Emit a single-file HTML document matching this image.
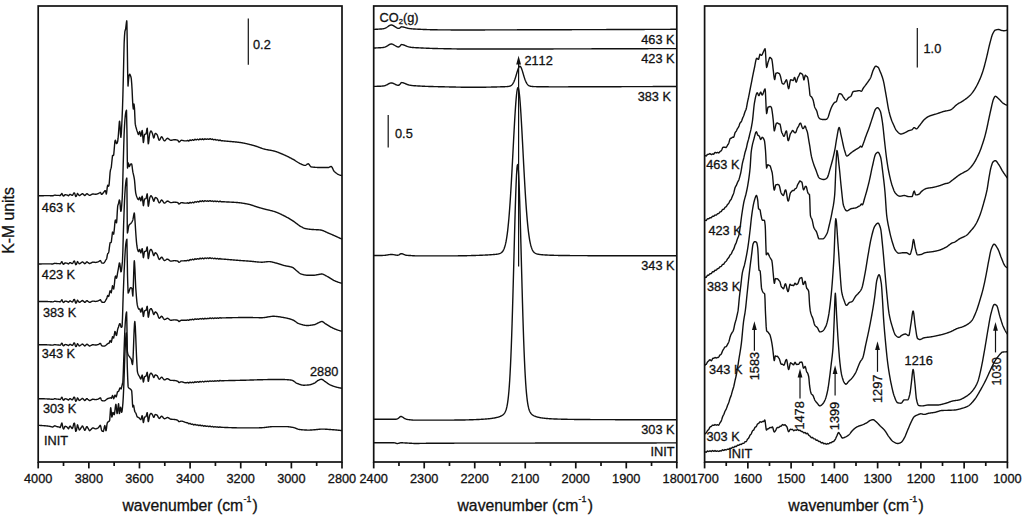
<!DOCTYPE html>
<html><head><meta charset="utf-8"><title>spectra</title>
<style>html,body{margin:0;padding:0;background:#fff;width:1024px;height:519px;overflow:hidden}
svg{display:block}text{font-family:"Liberation Sans",sans-serif;font-kerning:none}</style></head>
<body>
<svg width="1024" height="519" viewBox="0 0 1024 519">
<rect width="1024" height="519" fill="#fff"/>
<g fill="none" stroke="#111" stroke-width="1.40" stroke-linejoin="round">
<path d="M38.50 195.81L38.90 195.80L39.10 195.79L39.30 195.79L39.70 195.78L39.70 195.78L40.10 195.77L40.30 195.76L40.50 195.76L40.90 195.75L40.90 195.75L41.30 195.74L41.50 195.73L41.70 195.73L42.10 195.72L42.10 195.72L42.50 195.71L42.70 195.70L42.90 195.70L43.30 195.69L43.30 195.69L43.70 195.68L43.90 195.67L44.10 195.67L44.50 195.66L44.50 195.66L44.90 195.65L45.10 195.64L45.30 195.64L45.70 195.64L45.70 195.64L46.10 195.64L46.30 195.64L46.50 195.64L46.90 195.64L46.90 195.64L47.30 195.63L47.50 195.63L47.70 195.63L48.10 195.63L48.10 195.63L48.50 195.63L48.70 195.63L48.90 195.63L49.30 195.65L49.30 195.65L49.70 195.66L49.90 195.67L50.10 195.68L50.50 195.70L50.50 195.70L50.90 195.71L51.10 195.72L51.30 195.73L51.70 195.75L51.70 195.75L52.10 195.77L52.30 195.77L52.50 195.77L52.90 195.76L52.90 195.76L53.30 195.63L53.50 195.55L53.70 195.48L54.10 195.34L54.10 195.34L54.50 195.16L54.70 195.13L54.90 195.13L55.30 195.16L55.30 195.16L55.70 195.22L55.90 195.25L56.10 195.28L56.50 195.33L56.50 195.33L56.90 195.37L57.10 195.38L57.30 195.39L57.70 195.39L57.70 195.39L58.10 195.40L58.30 195.40L58.50 195.41L58.90 195.42L58.90 195.42L59.30 195.47L59.50 195.51L59.70 195.56L60.10 195.65L60.10 195.65L60.50 195.31L60.70 195.05L60.90 194.75L61.30 194.09L61.30 194.09L61.70 193.59L61.90 193.49L62.10 193.70L62.50 194.65L62.50 194.65L62.90 195.53L63.10 195.80L63.30 195.94L63.70 196.07L63.70 196.07L64.10 195.69L64.30 195.44L64.50 195.19L64.90 194.81L64.90 194.81L65.30 194.77L65.50 194.77L65.70 194.78L66.10 194.84L66.10 194.84L66.50 194.89L66.70 194.92L66.90 194.98L67.30 195.14L67.30 195.14L67.70 195.34L67.90 195.44L68.10 195.56L68.50 195.74L68.50 195.74L68.90 195.38L69.10 195.14L69.30 194.91L69.70 194.54L69.70 194.54L70.10 194.43L70.30 194.41L70.50 194.47L70.90 194.75L70.90 194.75L71.30 194.97L71.50 195.08L71.70 195.22L72.10 195.42L72.10 195.42L72.50 195.24L72.70 195.07L72.90 194.80L73.30 194.02L73.30 194.02L73.70 193.20L73.90 192.98L74.10 192.92L74.50 192.88L74.50 192.88L74.90 193.94L75.10 194.68L75.30 195.41L75.70 196.48L75.70 196.48L76.10 196.32L76.30 196.16L76.50 195.83L76.90 194.79L76.90 194.79L77.30 193.67L77.50 193.42L77.70 193.55L78.10 194.16L78.10 194.16L78.50 194.66L78.70 194.91L78.90 195.21L79.30 195.65L79.30 195.65L79.70 195.52L79.90 195.41L80.10 195.29L80.50 194.98L80.50 194.98L80.90 194.69L81.10 194.55L81.30 194.41L81.70 194.12L81.70 194.12L82.10 193.77L82.30 193.69L82.50 193.72L82.90 193.90L82.90 193.90L83.30 194.24L83.50 194.44L83.70 194.62L84.10 194.98L84.10 194.98L84.50 195.42L84.70 195.52L84.90 195.48L85.30 195.24L85.30 195.24L85.70 194.80L85.90 194.55L86.10 194.28L86.50 193.86L86.50 193.86L86.90 193.74L87.10 193.72L87.30 193.80L87.70 194.14L87.70 194.14L88.10 194.42L88.30 194.56L88.50 194.71L88.90 194.99L88.90 194.99L89.30 195.33L89.50 195.41L89.70 195.38L90.10 195.23L90.10 195.23L90.50 195.03L90.70 194.92L90.90 194.82L91.30 194.62L91.30 194.62L91.70 194.42L91.90 194.32L92.10 194.20L92.50 194.02L92.50 194.02L92.90 193.97L93.10 193.97L93.30 193.98L93.70 194.04L93.70 194.04L94.10 194.09L94.30 194.11L94.50 194.14L94.90 194.19L94.90 194.19L95.30 194.25L95.50 194.26L95.70 194.25L96.10 194.22L96.10 194.22L96.50 194.12L96.70 194.06L96.90 194.01L97.30 193.90L97.30 193.90L97.70 193.80L97.90 193.74L98.10 193.67L98.50 193.48L98.50 193.48L98.90 193.24L99.10 193.12L99.30 193.00L99.70 192.76L99.70 192.76L100.10 192.46L100.30 192.39L100.50 192.51L100.90 193.13L100.90 193.13L101.30 194.15L101.50 194.41L101.70 194.38L102.10 194.15L102.50 193.76L102.90 193.26L103.30 192.72L103.70 192.19L104.10 191.74L104.50 191.42L104.90 190.72L104.90 190.72L105.30 190.60L105.70 191.55L106.10 193.29L106.30 194.04L106.50 193.35L106.90 190.41L107.30 186.94L107.70 185.24L107.70 185.24L108.10 185.65L108.50 186.25L108.90 185.65L109.10 184.30L109.30 182.54L109.70 177.53L110.10 172.39L110.50 169.95L110.60 169.56L110.90 168.65L111.30 167.27L111.70 163.23L112.10 159.32L112.50 155.48L112.90 155.54L113.10 155.54L113.30 155.47L113.70 155.02L114.10 150.62L114.50 145.75L114.90 141.20L115.30 140.16L115.70 140.92L115.90 141.69L116.10 142.81L116.50 143.63L116.90 143.44L117.30 142.66L117.40 142.26L117.70 141.32L118.10 138.20L118.50 133.39L118.90 127.75L119.30 122.46L119.50 121.23L119.70 121.53L120.10 126.55L120.50 134.28L120.80 137.28L120.90 137.33L121.30 133.69L121.70 125.81L121.80 123.92L122.10 117.75L122.50 107.85L122.60 105.00L122.90 94.87L123.30 78.98L123.40 75.00L123.70 61.50L124.10 44.67L124.20 42.00L124.50 36.09L124.90 31.40L124.90 31.40L125.30 29.97L125.60 29.00L125.70 28.47L126.10 25.16L126.50 21.83L126.80 20.80L126.90 22.73L127.20 40.00L127.30 46.55L127.60 68.00L127.70 73.89L128.00 86.00L128.10 85.52L128.50 80.00L128.50 80.00L128.90 76.55L129.10 75.50L129.30 74.86L129.70 74.20L129.70 74.20L130.10 74.76L130.40 75.50L130.50 75.74L130.90 76.84L131.20 78.10L131.30 78.75L131.70 83.51L132.10 90.00L132.10 90.00L132.50 98.89L132.70 102.70L132.90 105.58L133.30 109.00L133.30 109.00L133.70 105.30L133.90 104.00L134.10 104.59L134.50 108.00L134.50 108.00L134.90 117.38L135.20 123.50L135.30 124.22L135.70 126.25L136.10 127.64L136.20 128.00L136.50 129.09L136.90 130.42L137.30 131.60L137.30 131.60L137.70 132.85L138.10 134.00L138.50 134.50L138.50 134.50L138.90 133.75L139.30 132.35L139.70 131.60L139.70 131.60L140.10 132.98L140.50 135.36L140.80 136.20L140.90 136.12L141.30 134.54L141.70 132.16L142.10 130.58L142.20 130.50L142.50 132.39L142.90 138.05L143.30 142.36L143.40 142.60L143.70 141.17L144.10 137.06L144.50 134.50L144.50 134.50L144.90 134.28L145.30 134.18L145.70 134.07L146.00 133.90L146.10 133.72L146.50 131.63L146.90 129.05L147.20 128.20L147.30 128.56L147.70 134.94L148.10 142.44L148.30 143.80L148.50 143.36L148.90 140.58L149.30 136.77L149.70 133.80L149.80 133.40L150.10 132.51L150.50 131.53L150.90 131.02L151.00 131.00L151.30 131.17L151.70 131.81L152.10 132.70L152.40 133.40L152.50 133.66L152.90 135.21L153.30 136.92L153.70 137.95L153.80 138.00L154.10 137.52L154.50 135.93L154.90 134.21L155.30 133.40L155.30 133.40L155.70 133.48L156.10 133.70L156.50 134.02L156.90 134.40L157.00 134.50L157.30 135.00L157.70 136.12L158.10 137.51L158.50 138.86L158.90 139.89L159.30 140.30L159.30 140.30L159.70 140.02L160.10 139.32L160.50 138.44L160.90 137.58L161.30 136.96L161.60 136.80L161.70 136.81L162.10 137.12L162.50 137.74L162.90 138.53L163.30 139.37L163.70 140.14L164.10 140.69L164.50 140.90L164.50 140.90L164.90 140.77L165.30 140.42L165.70 139.93L166.10 139.40L166.50 138.90L166.90 138.51L167.30 138.31L167.40 138.30L167.70 138.34L168.10 138.51L168.50 138.77L168.90 139.09L169.30 139.43L169.70 139.76L170.10 140.03L170.50 140.23L170.90 140.30L170.90 140.30L171.30 140.28L171.70 140.22L172.10 140.13L172.50 140.03L172.90 139.92L173.30 139.83L173.70 139.75L174.10 139.71L174.30 139.70L174.50 139.70L174.90 139.72L175.30 139.75L175.70 139.79L176.10 139.86L176.50 139.93L176.90 140.03L177.30 140.14L177.70 140.27L177.80 140.30L178.10 140.62L178.50 141.40L178.90 141.97L179.00 142.00L179.30 141.92L179.70 141.62L180.10 141.21L180.50 140.77L180.90 140.44L181.30 140.30L181.30 140.30L181.70 140.32L182.10 140.36L182.50 140.43L182.90 140.51L183.30 140.60L183.70 140.69L184.10 140.77L184.50 140.84L184.90 140.88L185.30 140.90L185.30 140.90L185.70 140.89L186.10 140.88L186.50 140.88L186.90 140.77L187.30 140.55L187.70 140.47L188.10 140.69L188.50 140.95L188.90 140.96L189.30 140.55L189.40 140.45L189.70 140.14L190.10 139.89L190.50 140.13L190.90 140.36L191.30 140.53L191.70 140.24L192.10 139.96L192.50 139.68L192.90 139.90L193.30 140.14L193.30 140.14L193.70 140.38L194.10 140.06L194.50 139.66L194.90 139.27L195.30 139.36L195.70 139.61L196.10 139.87L196.50 139.80L196.90 139.53L197.30 139.26L197.70 139.26L198.10 139.53L198.50 139.80L198.90 139.84L199.30 139.48L199.70 139.12L200.00 138.85L200.10 138.92L200.50 139.18L200.90 139.44L201.30 139.63L201.70 139.35L202.10 139.07L202.50 138.79L202.90 139.10L203.30 139.41L203.70 139.72L204.10 139.47L204.50 139.14L204.90 138.81L205.30 138.90L205.70 139.14L206.10 139.37L206.50 139.33L206.90 139.13L207.30 138.93L207.70 138.93L208.10 139.13L208.50 139.33L208.90 139.35L208.90 139.35L209.30 139.07L209.70 138.79L210.10 138.65L210.50 138.94L210.90 139.22L211.30 139.46L211.70 139.31L212.10 139.17L212.50 139.03L212.90 139.29L213.30 139.55L213.70 139.81L214.10 139.70L214.50 139.54L214.90 139.38L215.30 139.53L215.70 139.79L216.10 140.05L216.50 140.06L216.90 139.94L217.30 139.81L217.70 139.90L218.10 140.19L218.50 140.49L218.90 140.58L219.30 140.34L219.70 140.11L220.10 140.04L220.50 140.40L220.90 140.64L221.30 140.75L221.70 140.69L222.10 140.72L222.50 140.77L222.80 140.80L222.90 140.81L223.30 140.85L223.70 140.90L224.10 140.94L224.50 140.98L224.90 141.02L225.30 141.05L225.70 141.09L226.10 141.13L226.50 141.16L226.90 141.20L227.30 141.23L227.70 141.27L228.10 141.30L228.50 141.34L228.90 141.37L229.30 141.41L229.70 141.44L230.10 141.47L230.50 141.51L230.90 141.54L231.30 141.57L231.70 141.61L232.10 141.64L232.50 141.68L232.90 141.71L233.30 141.75L233.70 141.79L234.10 141.82L234.50 141.86L234.90 141.90L235.30 141.94L235.70 141.98L236.10 142.02L236.50 142.06L236.90 142.11L237.30 142.15L237.70 142.20L238.10 142.24L238.50 142.29L238.90 142.34L239.30 142.39L239.70 142.45L240.10 142.50L240.10 142.50L240.50 142.56L240.90 142.62L241.30 142.68L241.70 142.74L242.10 142.81L242.50 142.88L242.90 142.95L243.30 143.03L243.70 143.10L244.10 143.18L244.50 143.26L244.90 143.34L245.30 143.43L245.70 143.52L246.10 143.60L246.50 143.69L246.90 143.79L247.30 143.88L247.70 143.97L248.10 144.07L248.50 144.17L248.90 144.26L249.30 144.36L249.70 144.47L250.10 144.57L250.50 144.67L250.90 144.77L251.30 144.88L251.70 144.98L252.10 145.09L252.50 145.20L252.90 145.30L253.30 145.41L253.70 145.52L254.00 145.60L254.10 145.63L254.50 145.74L254.90 145.86L255.30 145.98L255.70 146.11L256.10 146.25L256.50 146.39L256.90 146.53L257.30 146.67L257.70 146.82L258.10 146.96L258.50 147.11L258.90 147.26L259.30 147.41L259.70 147.56L260.10 147.71L260.50 147.86L260.90 148.00L261.30 148.14L261.70 148.28L262.10 148.42L262.50 148.55L262.90 148.68L263.30 148.80L263.70 148.91L264.10 149.02L264.40 149.10L264.50 149.13L264.90 149.22L265.30 149.31L265.70 149.40L266.10 149.49L266.50 149.57L266.90 149.65L267.30 149.72L267.70 149.79L268.10 149.87L268.50 149.94L268.90 150.01L269.30 150.08L269.70 150.14L270.10 150.22L270.50 150.29L270.90 150.36L271.30 150.43L271.70 150.51L272.10 150.59L272.50 150.67L272.90 150.76L273.30 150.85L273.70 150.95L274.10 151.05L274.30 151.10L274.50 151.15L274.90 151.27L275.30 151.38L275.70 151.51L276.10 151.64L276.50 151.77L276.90 151.91L277.30 152.05L277.70 152.20L278.10 152.35L278.50 152.50L278.90 152.66L279.30 152.82L279.70 152.98L280.10 153.15L280.50 153.32L280.90 153.48L281.30 153.65L281.70 153.82L282.10 154.00L282.50 154.17L282.90 154.34L283.30 154.51L283.50 154.60L283.70 154.69L284.10 154.86L284.50 155.04L284.90 155.22L285.30 155.40L285.70 155.59L286.10 155.77L286.50 155.96L286.90 156.16L287.30 156.35L287.70 156.55L288.10 156.74L288.50 156.94L288.90 157.15L289.30 157.35L289.70 157.56L290.10 157.76L290.50 157.97L290.90 158.18L291.30 158.39L291.70 158.61L292.10 158.82L292.50 159.04L292.80 159.20L292.90 159.25L293.30 159.48L293.70 159.71L294.10 159.96L294.50 160.21L294.90 160.46L295.30 160.72L295.70 160.98L296.10 161.25L296.50 161.51L296.90 161.77L297.30 162.03L297.70 162.28L298.10 162.53L298.50 162.77L298.90 163.00L299.30 163.22L299.70 163.43L300.10 163.62L300.50 163.80L300.50 163.80L300.90 163.98L301.30 164.16L301.70 164.35L302.10 164.54L302.50 164.72L302.90 164.89L303.30 165.04L303.70 165.17L304.10 165.28L304.50 165.35L304.90 165.39L305.10 165.40L305.30 165.38L305.70 165.24L306.10 165.01L306.50 164.72L306.90 164.41L307.30 164.13L307.70 163.91L308.10 163.80L308.20 163.80L308.50 163.88L308.90 164.21L309.30 164.71L309.70 165.30L310.10 165.89L310.50 166.41L310.90 166.78L311.20 166.90L311.30 166.91L311.70 166.97L312.10 167.02L312.50 167.07L312.90 167.12L313.30 167.16L313.70 167.20L314.10 167.24L314.50 167.27L314.90 167.30L315.30 167.33L315.70 167.36L316.10 167.38L316.50 167.40L316.90 167.42L317.30 167.44L317.70 167.45L318.10 167.47L318.50 167.48L318.90 167.49L319.30 167.49L319.70 167.50L320.10 167.50L320.50 167.50L320.50 167.50L320.90 167.50L321.30 167.50L321.70 167.50L322.10 167.50L322.50 167.50L322.90 167.50L323.30 167.50L323.70 167.50L324.10 167.50L324.50 167.50L324.90 167.50L325.30 167.50L325.70 167.50L326.10 167.50L326.50 167.50L326.90 167.50L327.30 167.50L327.70 167.50L328.10 167.50L328.20 167.50L328.50 167.47L328.90 167.36L329.30 167.20L329.70 167.00L330.10 166.80L330.50 166.64L330.90 166.53L331.20 166.50L331.30 166.51L331.70 166.79L332.10 167.36L332.50 168.13L332.90 169.00L333.30 169.89L333.70 170.68L334.10 171.29L334.30 171.50L334.50 171.67L334.90 172.00L335.30 172.33L335.70 172.64L336.10 172.95L336.50 173.24L336.90 173.53L337.30 173.80L337.70 174.05L338.10 174.29L338.50 174.51L338.90 174.71L339.30 174.89L339.70 175.05L340.10 175.19L340.50 175.30L340.90 175.39L341.30 175.46L341.70 175.49L342.00 175.50"/>
<path d="M38.50 264.01L38.90 264.00L39.10 263.99L39.30 263.99L39.70 263.98L39.70 263.98L40.10 263.97L40.30 263.96L40.50 263.96L40.90 263.94L40.90 263.94L41.30 263.93L41.50 263.93L41.70 263.92L42.10 263.91L42.10 263.91L42.50 263.90L42.70 263.90L42.90 263.89L43.30 263.88L43.30 263.88L43.70 263.87L43.90 263.87L44.10 263.86L44.50 263.85L44.50 263.85L44.90 263.84L45.10 263.84L45.30 263.84L45.70 263.84L45.70 263.84L46.10 263.84L46.30 263.83L46.50 263.83L46.90 263.83L46.90 263.83L47.30 263.83L47.50 263.83L47.70 263.83L48.10 263.83L48.10 263.83L48.50 263.83L48.70 263.83L48.90 263.83L49.30 263.84L49.30 263.84L49.70 263.86L49.90 263.87L50.10 263.88L50.50 263.89L50.50 263.89L50.90 263.91L51.10 263.92L51.30 263.93L51.70 263.94L51.70 263.94L52.10 263.96L52.30 263.97L52.50 263.97L52.90 263.95L52.90 263.95L53.30 263.83L53.50 263.74L53.70 263.67L54.10 263.53L54.10 263.53L54.50 263.36L54.70 263.32L54.90 263.32L55.30 263.35L55.30 263.35L55.70 263.41L55.90 263.44L56.10 263.47L56.50 263.52L56.50 263.52L56.90 263.56L57.10 263.57L57.30 263.58L57.70 263.58L57.70 263.58L58.10 263.59L58.30 263.60L58.50 263.60L58.90 263.61L58.90 263.61L59.30 263.66L59.50 263.70L59.70 263.75L60.10 263.84L60.10 263.84L60.50 263.51L60.70 263.24L60.90 262.94L61.30 262.28L61.30 262.28L61.70 261.78L61.90 261.68L62.10 261.89L62.50 262.84L62.50 262.84L62.90 263.72L63.10 263.99L63.30 264.13L63.70 264.26L63.70 264.26L64.10 263.88L64.30 263.63L64.50 263.38L64.90 263.00L64.90 263.00L65.30 262.96L65.50 262.95L65.70 262.97L66.10 263.03L66.10 263.03L66.50 263.08L66.70 263.11L66.90 263.16L67.30 263.33L67.30 263.33L67.70 263.53L67.90 263.63L68.10 263.75L68.50 263.93L68.50 263.93L68.90 263.57L69.10 263.33L69.30 263.10L69.70 262.73L69.70 262.73L70.10 262.61L70.30 262.60L70.50 262.66L70.90 262.93L70.90 262.93L71.30 263.16L71.50 263.27L71.70 263.41L72.10 263.61L72.10 263.61L72.50 263.42L72.70 263.25L72.90 262.98L73.30 262.21L73.30 262.21L73.70 261.38L73.90 261.16L74.10 261.11L74.50 261.06L74.50 261.06L74.90 262.13L75.10 262.86L75.30 263.60L75.70 264.66L75.70 264.66L76.10 264.50L76.30 264.35L76.50 264.02L76.90 262.97L76.90 262.97L77.30 261.85L77.50 261.60L77.70 261.74L78.10 262.34L78.10 262.34L78.50 262.84L78.70 263.09L78.90 263.39L79.30 263.83L79.30 263.83L79.70 263.70L79.90 263.60L80.10 263.47L80.50 263.16L80.50 263.16L80.90 262.88L81.10 262.73L81.30 262.59L81.70 262.30L81.70 262.30L82.10 261.95L82.30 261.87L82.50 261.90L82.90 262.08L82.90 262.08L83.30 262.42L83.50 262.62L83.70 262.80L84.10 263.16L84.10 263.16L84.50 263.60L84.70 263.70L84.90 263.66L85.30 263.42L85.30 263.42L85.70 262.98L85.90 262.73L86.10 262.46L86.50 262.04L86.50 262.04L86.90 261.92L87.10 261.90L87.30 261.98L87.70 262.32L87.70 262.32L88.10 262.60L88.30 262.74L88.50 262.88L88.90 263.16L88.90 263.16L89.30 263.51L89.50 263.58L89.70 263.55L90.10 263.40L90.10 263.40L90.50 263.21L90.70 263.10L90.90 263.00L91.30 262.80L91.30 262.80L91.70 262.60L91.90 262.50L92.10 262.38L92.50 262.20L92.50 262.20L92.90 262.15L93.10 262.14L93.30 262.16L93.70 262.22L93.70 262.22L94.10 262.27L94.30 262.29L94.50 262.31L94.90 262.36L94.90 262.36L95.30 262.42L95.50 262.43L95.70 262.43L96.10 262.39L96.10 262.39L96.50 262.29L96.70 262.23L96.90 262.18L97.30 262.08L97.30 262.08L97.70 261.98L97.90 261.92L98.10 261.84L98.50 261.66L98.50 261.66L98.90 261.42L99.10 261.29L99.30 261.17L99.70 260.93L99.70 260.93L100.10 260.63L100.30 260.57L100.50 260.69L100.90 261.30L100.90 261.30L101.30 262.22L101.50 262.58L101.70 262.80L102.10 263.05L102.10 263.05L102.50 263.10L102.70 263.11L102.90 263.14L103.30 263.18L103.30 263.18L103.70 263.06L104.10 262.73L104.50 262.23L104.90 261.58L105.30 260.82L105.70 259.98L106.10 259.71L106.50 259.14L106.70 258.45L106.90 257.57L107.30 255.18L107.70 253.59L108.10 253.28L108.50 252.88L108.90 251.40L109.30 248.20L109.60 245.85L109.70 245.07L110.10 242.73L110.50 242.66L110.90 242.58L111.30 242.08L111.70 238.73L112.10 235.39L112.50 232.07L112.50 232.07L112.90 232.76L113.30 233.52L113.70 234.25L114.10 231.12L114.50 227.23L114.50 227.23L114.90 222.45L115.30 220.17L115.70 220.08L115.80 220.43L116.10 222.28L116.50 222.78L116.60 222.39L116.90 219.11L117.30 211.35L117.70 206.11L117.70 206.11L118.10 204.67L118.50 203.51L118.90 202.02L119.30 199.97L119.30 199.97L119.70 200.55L120.10 203.93L120.50 209.08L120.80 211.18L120.90 211.36L121.30 210.05L121.70 205.33L122.10 200.01L122.20 198.65L122.50 191.62L122.90 176.28L123.20 165.00L123.30 161.63L123.70 147.34L124.10 134.60L124.30 130.00L124.50 126.35L124.90 120.04L125.30 115.47L125.50 114.00L125.70 112.86L126.10 110.98L126.50 110.20L126.50 110.20L126.90 128.80L127.00 135.00L127.30 159.10L127.50 168.00L127.70 167.22L128.10 163.78L128.30 163.00L128.50 163.44L128.90 165.59L129.20 166.50L129.30 166.47L129.70 165.96L130.10 165.09L130.50 164.26L130.90 163.90L130.90 163.90L131.30 163.94L131.60 164.00L131.70 164.13L132.10 166.23L132.50 169.50L132.80 171.60L132.90 172.13L133.30 173.97L133.70 175.64L134.10 177.52L134.40 179.30L134.50 180.06L134.90 184.40L135.30 189.32L135.70 192.80L135.70 192.80L136.10 194.61L136.50 195.96L136.90 197.00L136.90 197.00L137.30 197.95L137.70 198.84L138.10 199.48L138.50 199.74L138.50 199.74L138.90 199.10L139.30 197.93L139.70 197.30L139.70 197.30L140.10 198.37L140.50 200.22L140.80 200.87L140.90 200.80L141.30 199.50L141.70 197.54L142.10 196.24L142.20 196.17L142.50 197.66L142.90 202.14L143.30 205.54L143.40 205.73L143.70 204.58L144.10 201.26L144.50 199.14L144.50 199.14L144.90 198.92L145.30 198.81L145.70 198.69L146.00 198.52L146.10 198.36L146.50 196.62L146.90 194.52L147.20 193.84L147.30 194.12L147.70 199.18L148.10 205.13L148.30 206.21L148.50 205.85L148.90 203.59L149.30 200.49L149.70 198.07L149.80 197.74L150.10 197.01L150.50 196.20L150.90 195.78L151.00 195.76L151.30 195.89L151.70 196.39L152.10 197.08L152.40 197.63L152.50 197.83L152.90 199.05L153.30 200.40L153.70 201.21L153.80 201.25L154.10 200.86L154.50 199.57L154.90 198.17L155.30 197.52L155.30 197.52L155.70 197.58L156.10 197.74L156.50 197.97L156.90 198.25L157.00 198.33L157.30 198.71L157.70 199.59L158.10 200.68L158.50 201.75L158.90 202.56L159.30 202.88L159.30 202.88L159.70 202.65L160.10 202.08L160.50 201.34L160.90 200.63L161.30 200.13L161.60 199.99L161.70 200.00L162.10 200.24L162.50 200.72L162.90 201.33L163.30 201.98L163.70 202.57L164.10 203.00L164.50 203.16L164.50 203.16L164.90 203.05L165.30 202.77L165.70 202.38L166.10 201.95L166.50 201.54L166.90 201.22L167.30 201.07L167.40 201.06L167.70 201.09L168.10 201.22L168.50 201.43L168.90 201.69L169.30 201.96L169.70 202.22L170.10 202.44L170.50 202.60L170.90 202.65L170.90 202.65L171.30 202.64L171.70 202.59L172.10 202.52L172.50 202.43L172.90 202.35L173.30 202.27L173.70 202.21L174.10 202.18L174.30 202.17L174.50 202.17L174.90 202.18L175.30 202.21L175.70 202.25L176.10 202.29L176.50 202.36L176.90 202.43L177.30 202.52L177.70 202.62L177.80 202.65L178.10 202.91L178.50 203.53L178.90 203.98L179.00 204.01L179.30 203.94L179.70 203.70L180.10 203.37L180.50 203.02L180.90 202.75L181.30 202.64L181.30 202.64L181.70 202.66L182.10 202.69L182.50 202.75L182.90 202.81L183.30 202.88L183.70 202.95L184.10 203.02L184.50 203.07L184.90 203.11L185.30 203.12L185.30 203.12L185.70 203.12L186.10 203.12L186.50 203.13L186.90 203.04L187.30 202.85L187.70 202.80L188.10 203.04L188.50 203.32L188.90 203.35L189.30 202.95L189.70 202.55L190.10 202.32L190.50 202.58L190.90 202.83L191.30 203.02L191.70 202.75L192.10 202.48L192.50 202.20L192.90 202.43L193.30 202.66L193.70 202.88L194.10 202.54L194.50 202.12L194.90 201.70L195.30 201.76L195.70 201.99L196.10 202.22L196.50 202.12L196.90 201.81L197.30 201.51L197.70 201.48L198.10 201.72L198.50 201.96L198.90 201.96L199.30 201.57L199.70 201.17L200.10 200.94L200.50 201.17L200.90 201.40L201.30 201.57L201.70 201.27L202.10 200.97L202.50 200.67L202.90 200.97L203.30 201.27L203.70 201.57L204.10 201.31L204.50 200.98L204.90 200.64L205.30 200.74L205.70 200.98L206.00 201.17L206.10 201.23L206.50 201.20L206.90 201.01L207.30 200.82L207.70 200.83L208.10 201.05L208.50 201.26L208.90 201.29L209.30 201.01L209.70 200.73L210.10 200.59L210.50 200.87L210.90 201.14L211.30 201.37L211.70 201.20L212.10 201.04L212.50 200.88L212.90 201.11L213.30 201.34L213.70 201.57L214.10 201.42L214.50 201.22L214.90 201.03L215.30 201.14L215.70 201.36L216.10 201.57L216.50 201.55L216.90 201.38L217.30 201.21L217.70 201.26L218.10 201.51L218.50 201.76L218.90 201.82L219.30 201.54L219.70 201.26L220.10 201.15L220.50 201.48L220.90 201.69L221.30 201.77L221.70 201.68L222.10 201.68L222.50 201.70L222.90 201.73L223.30 201.75L223.70 201.77L224.10 201.80L224.50 201.82L224.90 201.84L225.30 201.86L225.70 201.88L226.00 201.90L226.10 201.91L226.50 201.93L226.90 201.95L227.30 201.97L227.70 201.98L228.10 202.00L228.50 202.02L228.90 202.04L229.30 202.06L229.70 202.08L230.10 202.10L230.50 202.12L230.90 202.14L231.30 202.16L231.70 202.18L232.10 202.20L232.50 202.22L232.90 202.25L233.30 202.27L233.70 202.29L234.10 202.32L234.50 202.34L234.90 202.37L235.30 202.39L235.70 202.42L236.10 202.45L236.50 202.48L236.90 202.51L237.30 202.54L237.70 202.57L238.00 202.60L238.10 202.61L238.50 202.65L238.90 202.68L239.30 202.73L239.70 202.77L240.10 202.82L240.50 202.86L240.90 202.92L241.30 202.97L241.70 203.02L242.10 203.08L242.50 203.14L242.90 203.20L243.30 203.27L243.70 203.33L244.10 203.40L244.50 203.47L244.90 203.54L245.30 203.62L245.70 203.69L246.10 203.77L246.50 203.85L246.90 203.93L247.30 204.01L247.70 204.09L248.10 204.18L248.50 204.26L248.90 204.35L249.30 204.44L249.70 204.53L250.00 204.60L250.10 204.62L250.50 204.72L250.90 204.84L251.30 204.96L251.70 205.08L252.10 205.22L252.50 205.36L252.90 205.50L253.30 205.65L253.70 205.80L254.10 205.94L254.50 206.09L254.90 206.23L255.30 206.37L255.70 206.50L256.00 206.60L256.10 206.63L256.50 206.75L256.90 206.88L257.30 207.00L257.70 207.12L258.10 207.24L258.50 207.36L258.90 207.48L259.30 207.60L259.70 207.71L260.10 207.83L260.50 207.94L260.90 208.06L261.30 208.17L261.70 208.29L262.10 208.40L262.50 208.51L262.90 208.62L263.30 208.73L263.70 208.84L264.10 208.95L264.30 209.00L264.50 209.05L264.90 209.16L265.30 209.26L265.70 209.36L266.10 209.45L266.50 209.55L266.90 209.64L267.30 209.73L267.70 209.83L268.10 209.92L268.50 210.01L268.90 210.10L269.30 210.19L269.70 210.28L270.10 210.37L270.50 210.47L270.90 210.56L271.30 210.66L271.70 210.76L272.10 210.87L272.50 210.97L272.90 211.08L273.30 211.20L273.70 211.31L274.10 211.44L274.30 211.50L274.50 211.56L274.90 211.70L275.30 211.84L275.70 211.98L276.10 212.13L276.50 212.29L276.90 212.44L277.30 212.61L277.70 212.78L278.10 212.95L278.50 213.12L278.90 213.30L279.30 213.48L279.70 213.66L280.10 213.85L280.50 214.04L280.90 214.23L281.30 214.42L281.70 214.62L282.10 214.81L282.50 215.01L282.90 215.20L283.30 215.40L283.50 215.50L283.70 215.60L284.10 215.80L284.50 216.00L284.90 216.21L285.30 216.42L285.70 216.63L286.10 216.84L286.50 217.06L286.90 217.28L287.30 217.50L287.70 217.73L288.10 217.96L288.50 218.18L288.90 218.42L289.30 218.65L289.70 218.89L290.10 219.13L290.50 219.37L290.90 219.61L291.30 219.86L291.70 220.11L292.10 220.36L292.50 220.61L292.80 220.80L292.90 220.86L293.30 221.13L293.70 221.40L294.10 221.69L294.50 221.98L294.90 222.28L295.30 222.58L295.70 222.89L296.10 223.19L296.50 223.50L296.90 223.81L297.30 224.12L297.70 224.42L298.10 224.72L298.50 225.01L298.90 225.29L299.30 225.56L299.70 225.82L300.10 226.07L300.50 226.30L300.50 226.30L300.90 226.53L301.30 226.76L301.70 226.99L302.10 227.21L302.50 227.43L302.90 227.64L303.30 227.84L303.70 228.02L304.10 228.19L304.50 228.33L304.90 228.45L305.10 228.50L305.30 228.55L305.70 228.63L306.10 228.71L306.50 228.79L306.90 228.86L307.30 228.93L307.70 228.99L308.10 229.05L308.50 229.10L308.90 229.16L309.30 229.20L309.70 229.25L310.10 229.29L310.50 229.33L310.90 229.37L311.20 229.40L311.30 229.41L311.70 229.44L312.10 229.47L312.50 229.50L312.90 229.53L313.30 229.55L313.70 229.57L314.10 229.59L314.50 229.61L314.90 229.63L315.30 229.65L315.70 229.67L316.10 229.69L316.50 229.71L316.90 229.73L317.30 229.75L317.70 229.77L318.10 229.79L318.50 229.82L318.90 229.85L319.30 229.88L319.70 229.92L320.10 229.96L320.50 230.00L320.50 230.00L320.90 230.06L321.30 230.13L321.70 230.23L322.10 230.34L322.50 230.47L322.90 230.61L323.30 230.76L323.70 230.93L324.10 231.10L324.50 231.28L324.90 231.46L325.30 231.65L325.70 231.85L326.10 232.04L326.50 232.23L326.90 232.42L327.30 232.61L327.70 232.79L328.10 232.96L328.20 233.00L328.50 233.12L328.90 233.29L329.30 233.46L329.70 233.63L330.10 233.80L330.50 233.97L330.90 234.14L331.30 234.31L331.70 234.48L332.10 234.65L332.50 234.83L332.90 235.00L333.30 235.18L333.70 235.35L334.10 235.53L334.50 235.71L334.90 235.88L335.30 236.06L335.70 236.24L336.10 236.43L336.50 236.61L336.90 236.79L337.30 236.97L337.70 237.16L338.10 237.34L338.50 237.53L338.90 237.72L339.30 237.91L339.70 238.09L340.10 238.28L340.50 238.48L340.90 238.67L341.30 238.86L341.70 239.05L342.00 239.20"/>
<path d="M38.50 301.51L38.90 301.51L39.10 301.51L39.30 301.51L39.70 301.51L39.70 301.51L40.10 301.51L40.30 301.51L40.50 301.51L40.90 301.51L40.90 301.51L41.30 301.51L41.50 301.51L41.70 301.51L42.10 301.51L42.10 301.51L42.50 301.51L42.70 301.51L42.90 301.51L43.30 301.51L43.30 301.51L43.70 301.51L43.90 301.51L44.10 301.51L44.50 301.51L44.50 301.51L44.90 301.51L45.10 301.51L45.30 301.52L45.70 301.53L45.70 301.53L46.10 301.54L46.30 301.54L46.50 301.54L46.90 301.55L46.90 301.55L47.30 301.56L47.50 301.57L47.70 301.57L48.10 301.58L48.10 301.58L48.50 301.59L48.70 301.59L48.90 301.60L49.30 301.63L49.30 301.63L49.70 301.65L49.90 301.67L50.10 301.68L50.50 301.71L50.50 301.71L50.90 301.74L51.10 301.75L51.30 301.76L51.70 301.79L51.70 301.79L52.10 301.82L52.30 301.83L52.50 301.83L52.90 301.83L52.90 301.83L53.30 301.72L53.50 301.64L53.70 301.57L54.10 301.44L54.10 301.44L54.50 301.28L54.70 301.24L54.90 301.25L55.30 301.29L55.30 301.29L55.70 301.36L55.90 301.40L56.10 301.43L56.50 301.50L56.50 301.50L56.90 301.54L57.10 301.56L57.30 301.57L57.70 301.59L57.70 301.59L58.10 301.61L58.30 301.62L58.50 301.62L58.90 301.64L58.90 301.64L59.30 301.71L59.50 301.75L59.70 301.81L60.10 301.90L60.10 301.90L60.50 301.58L60.70 301.32L60.90 301.03L61.30 300.38L61.30 300.38L61.70 299.89L61.90 299.79L62.10 300.01L62.50 300.96L62.50 300.96L62.90 301.85L63.10 302.14L63.30 302.28L63.70 302.42L63.70 302.42L64.10 302.05L64.30 301.80L64.50 301.56L64.90 301.19L64.90 301.19L65.30 301.17L65.50 301.16L65.70 301.18L66.10 301.26L66.10 301.26L66.50 301.31L66.70 301.35L66.90 301.41L67.30 301.59L67.30 301.59L67.70 301.79L67.90 301.90L68.10 302.03L68.50 302.21L68.50 302.21L68.90 301.87L69.10 301.63L69.30 301.41L69.70 301.05L69.70 301.05L70.10 300.95L70.30 300.93L70.50 301.00L70.90 301.28L70.90 301.28L71.30 301.52L71.50 301.64L71.70 301.78L72.10 301.99L72.10 301.99L72.50 301.81L72.70 301.65L72.90 301.38L73.30 300.62L73.30 300.62L73.70 299.80L73.90 299.59L74.10 299.55L74.50 299.51L74.50 299.51L74.90 300.58L75.10 301.32L75.30 302.06L75.70 303.14L75.70 303.14L76.10 302.99L76.30 302.84L76.50 302.51L76.90 301.48L76.90 301.48L77.30 300.38L77.50 300.12L77.70 300.26L78.10 300.88L78.10 300.88L78.50 301.39L78.70 301.64L78.90 301.95L79.30 302.40L79.30 302.40L79.70 302.28L79.90 302.18L80.10 302.06L80.50 301.77L80.50 301.77L80.90 301.49L81.10 301.35L81.30 301.21L81.70 300.93L81.70 300.93L82.10 300.59L82.30 300.52L82.50 300.55L82.90 300.75L82.90 300.75L83.30 301.10L83.50 301.30L83.70 301.49L84.10 301.86L84.10 301.86L84.50 302.31L84.70 302.41L84.90 302.37L85.30 302.15L85.30 302.15L85.70 301.72L85.90 301.47L86.10 301.21L86.50 300.80L86.50 300.80L86.90 300.69L87.10 300.68L87.30 300.76L87.70 301.11L87.70 301.11L88.10 301.41L88.30 301.55L88.50 301.70L88.90 301.99L88.90 301.99L89.30 302.34L89.50 302.42L89.70 302.40L90.10 302.26L90.10 302.26L90.50 302.07L90.70 301.97L90.90 301.88L91.30 301.69L91.30 301.69L91.70 301.49L91.90 301.40L92.10 301.29L92.50 301.11L92.50 301.11L92.90 301.08L93.10 301.08L93.30 301.09L93.70 301.17L93.70 301.17L94.10 301.22L94.30 301.25L94.50 301.28L94.90 301.34L94.90 301.34L95.30 301.41L95.50 301.43L95.70 301.43L96.10 301.40L96.10 301.40L96.50 301.32L96.70 301.26L96.90 301.21L97.30 301.12L97.30 301.12L97.70 301.03L97.90 300.98L98.10 300.91L98.50 300.73L98.50 300.73L98.90 300.50L99.10 300.38L99.30 300.27L99.70 300.04L99.70 300.04L100.10 299.75L100.30 299.69L100.50 299.81L100.90 300.44L100.90 300.44L101.30 301.36L101.50 301.74L101.70 301.96L102.10 302.22L102.10 302.22L102.50 302.28L102.70 302.30L102.90 302.33L103.30 302.38L103.30 302.38L103.70 302.41L103.90 302.41L104.10 302.38L104.50 302.13L104.90 301.66L105.30 301.04L105.70 300.29L106.10 299.56L106.50 299.06L106.90 297.98L107.30 296.42L107.70 295.47L107.70 295.47L108.10 295.85L108.50 296.41L108.90 296.02L109.30 294.04L109.70 292.06L110.10 290.77L110.50 291.57L110.90 292.34L111.30 292.69L111.60 290.96L111.70 290.37L112.10 288.06L112.50 285.72L112.90 286.94L113.30 288.07L113.70 289.09L114.10 286.52L114.50 283.28L114.50 283.28L114.90 278.91L115.30 276.47L115.70 276.09L115.80 276.40L116.10 277.88L116.50 278.17L116.90 277.04L117.00 276.66L117.30 274.73L117.70 272.10L118.10 270.01L118.50 267.79L118.90 265.40L119.30 263.06L119.30 263.06L119.70 263.14L120.10 265.36L120.50 269.46L120.90 271.85L120.90 271.85L121.30 271.46L121.70 268.28L122.10 264.68L122.40 261.88L122.50 260.62L122.90 249.68L123.30 234.86L123.60 225.00L123.70 222.21L124.10 210.95L124.50 200.82L124.80 195.00L124.90 193.43L125.30 187.69L125.70 183.22L126.00 181.00L126.10 180.45L126.50 178.56L126.80 178.00L126.90 182.07L127.30 228.93L127.40 233.00L127.70 232.30L128.10 229.90L128.50 227.12L128.90 225.40L128.90 225.40L129.30 224.79L129.70 224.36L130.10 224.03L130.50 223.72L130.90 223.36L131.20 223.00L131.30 222.86L131.70 222.27L132.10 221.58L132.50 220.75L132.80 220.00L132.90 219.68L133.30 217.59L133.70 215.08L134.10 213.28L134.30 213.00L134.50 214.06L134.90 219.61L135.00 221.00L135.30 225.33L135.70 231.69L136.00 236.00L136.10 237.28L136.50 242.17L136.80 245.00L136.90 245.73L137.30 248.21L137.60 249.50L137.70 249.84L138.10 251.06L138.50 251.62L138.50 251.62L138.90 251.05L139.30 250.01L139.70 249.44L139.70 249.44L140.10 250.48L140.50 252.26L140.80 252.89L140.90 252.83L141.30 251.65L141.70 249.86L142.10 248.68L142.20 248.62L142.50 250.04L142.90 254.28L143.30 257.52L143.40 257.69L143.70 256.62L144.10 253.54L144.50 251.62L144.50 251.62L144.90 251.46L145.30 251.38L145.70 251.30L146.00 251.17L146.10 251.04L146.50 249.47L146.90 247.53L147.20 246.90L147.30 247.17L147.70 251.95L148.10 257.58L148.30 258.60L148.50 258.26L148.90 256.13L149.30 253.24L149.70 251.06L149.80 250.80L150.10 250.26L150.50 249.68L150.90 249.38L151.00 249.37L151.30 249.54L151.70 250.16L152.10 251.03L152.40 251.69L152.50 251.93L152.90 253.28L153.30 254.74L153.70 255.61L153.80 255.66L154.10 255.35L154.50 254.35L154.90 253.27L155.30 252.76L155.30 252.76L155.70 252.88L156.10 253.18L156.50 253.61L156.90 254.09L157.00 254.21L157.30 254.73L157.70 255.78L158.10 257.01L158.50 258.19L158.90 259.07L159.30 259.42L159.30 259.42L159.70 259.24L160.10 258.80L160.50 258.23L160.90 257.69L161.30 257.30L161.60 257.19L161.70 257.21L162.10 257.46L162.50 257.96L162.90 258.60L163.30 259.29L163.70 259.91L164.10 260.36L164.50 260.53L164.50 260.53L164.90 260.46L165.30 260.27L165.70 260.00L166.10 259.71L166.50 259.44L166.90 259.22L167.30 259.12L167.40 259.11L167.70 259.15L168.10 259.32L168.50 259.58L168.90 259.90L169.30 260.25L169.70 260.58L170.10 260.86L170.50 261.06L170.90 261.13L170.90 261.13L171.30 261.11L171.70 261.06L172.10 260.99L172.50 260.91L172.90 260.83L173.30 260.75L173.70 260.69L174.10 260.66L174.30 260.65L174.50 260.65L174.90 260.66L175.30 260.68L175.70 260.72L176.10 260.76L176.50 260.82L176.90 260.88L177.30 260.96L177.70 261.05L177.80 261.07L178.10 261.31L178.50 261.89L178.90 262.32L179.00 262.34L179.30 262.27L179.70 262.02L180.10 261.67L180.50 261.30L180.90 261.01L181.30 260.88L181.30 260.88L181.70 260.87L182.10 260.85L182.50 260.84L182.90 260.84L183.30 260.83L183.70 260.83L184.10 260.82L184.50 260.82L184.90 260.81L185.30 260.79L185.30 260.79L185.70 260.77L186.10 260.75L186.50 260.73L186.90 260.60L187.30 260.36L187.70 260.26L188.10 260.45L188.50 260.68L188.90 260.66L189.30 260.21L189.70 259.76L190.10 259.48L190.50 259.69L190.90 259.91L191.30 260.06L191.70 259.76L192.10 259.47L192.50 259.18L192.90 259.41L193.30 259.64L193.30 259.64L193.70 259.88L194.10 259.55L194.50 259.15L194.90 258.74L195.30 258.82L195.70 259.07L196.10 259.31L196.50 259.23L196.90 258.95L197.30 258.66L197.70 258.65L198.10 258.90L198.50 259.15L198.90 259.17L199.30 258.79L199.70 258.42L200.10 258.19L200.50 258.44L200.90 258.68L201.30 258.86L201.70 258.56L202.10 258.27L202.50 257.98L202.90 258.28L203.30 258.58L203.70 258.88L204.10 258.62L204.50 258.28L204.90 257.94L205.30 258.03L205.70 258.26L206.10 258.49L206.50 258.44L206.90 258.24L207.30 258.03L207.70 258.03L208.10 258.23L208.50 258.44L208.90 258.45L208.90 258.45L209.30 258.17L209.70 257.88L210.10 257.74L210.50 258.01L210.90 258.29L211.30 258.51L211.70 258.35L212.10 258.19L212.50 258.03L212.90 258.26L213.30 258.50L213.70 258.73L214.10 258.60L214.50 258.41L214.90 258.22L215.30 258.34L215.70 258.56L216.10 258.79L216.50 258.78L216.90 258.62L217.30 258.46L217.70 258.52L218.10 258.78L218.50 259.05L218.90 259.11L219.30 258.85L219.70 258.58L220.10 258.48L220.50 258.82L220.90 259.04L221.30 259.12L221.70 259.04L222.10 259.05L222.50 259.08L222.80 259.10L222.90 259.11L223.30 259.14L223.70 259.17L224.10 259.20L224.50 259.23L224.90 259.26L225.30 259.29L225.70 259.32L226.10 259.35L226.50 259.38L226.90 259.41L227.30 259.45L227.70 259.48L228.10 259.51L228.50 259.54L228.90 259.58L229.30 259.61L229.70 259.65L230.10 259.68L230.50 259.71L230.90 259.75L231.30 259.78L231.70 259.81L232.10 259.85L232.50 259.88L232.90 259.92L233.30 259.95L233.70 259.98L234.10 260.02L234.50 260.05L234.90 260.08L235.30 260.12L235.70 260.15L236.10 260.18L236.50 260.22L236.90 260.25L237.30 260.28L237.70 260.31L238.10 260.35L238.50 260.38L238.90 260.41L239.30 260.44L239.70 260.47L240.10 260.50L240.10 260.50L240.50 260.53L240.90 260.56L241.30 260.59L241.70 260.62L242.10 260.65L242.50 260.67L242.90 260.70L243.30 260.73L243.70 260.76L244.10 260.78L244.50 260.81L244.90 260.84L245.30 260.87L245.70 260.89L246.10 260.92L246.50 260.95L246.90 260.98L247.30 261.00L247.70 261.03L248.10 261.06L248.50 261.09L248.90 261.12L249.30 261.15L249.70 261.18L250.00 261.20L250.10 261.21L250.50 261.24L250.90 261.27L251.30 261.31L251.70 261.35L252.10 261.39L252.50 261.43L252.90 261.47L253.30 261.52L253.70 261.56L254.10 261.61L254.50 261.65L254.90 261.69L255.30 261.74L255.70 261.78L256.10 261.83L256.50 261.87L256.90 261.91L257.30 261.95L257.70 261.98L258.10 262.02L258.50 262.05L258.90 262.08L259.30 262.11L259.70 262.13L260.10 262.15L260.50 262.17L260.90 262.18L261.30 262.19L261.70 262.20L262.00 262.20L262.10 262.20L262.50 262.19L262.90 262.17L263.30 262.14L263.70 262.11L264.10 262.07L264.50 262.02L264.90 261.97L265.30 261.92L265.70 261.87L266.10 261.82L266.50 261.77L266.90 261.72L267.30 261.68L267.70 261.65L268.10 261.62L268.50 261.61L268.90 261.60L268.90 261.60L269.30 261.61L269.70 261.63L270.10 261.67L270.50 261.72L270.90 261.78L271.30 261.85L271.70 261.93L272.10 262.02L272.50 262.12L272.90 262.22L273.30 262.32L273.70 262.43L274.10 262.53L274.50 262.64L274.90 262.75L275.30 262.85L275.70 262.95L275.90 263.00L276.10 263.05L276.50 263.15L276.90 263.26L277.30 263.37L277.70 263.48L278.10 263.60L278.50 263.72L278.90 263.84L279.30 263.97L279.70 264.10L280.10 264.23L280.50 264.36L280.90 264.49L281.30 264.62L281.70 264.74L282.10 264.87L282.50 265.00L282.90 265.12L283.30 265.24L283.70 265.35L284.10 265.47L284.50 265.57L284.60 265.60L284.90 265.68L285.30 265.77L285.70 265.86L286.10 265.94L286.50 266.02L286.90 266.09L287.30 266.17L287.70 266.24L288.10 266.31L288.50 266.39L288.90 266.46L289.30 266.54L289.70 266.63L290.10 266.72L290.50 266.81L290.90 266.92L291.30 267.03L291.70 267.16L292.10 267.29L292.40 267.40L292.50 267.44L292.90 267.64L293.30 267.88L293.70 268.18L294.10 268.50L294.50 268.85L294.90 269.22L295.30 269.59L295.70 269.95L296.10 270.31L296.50 270.64L296.70 270.80L296.90 270.95L297.30 271.28L297.70 271.62L298.10 271.96L298.50 272.30L298.90 272.64L299.30 272.96L299.70 273.25L300.10 273.52L300.50 273.75L300.90 273.93L301.10 274.00L301.30 274.06L301.70 274.19L302.10 274.31L302.50 274.43L302.90 274.54L303.30 274.65L303.70 274.75L304.10 274.84L304.50 274.93L304.90 275.00L305.30 275.06L305.70 275.12L306.10 275.16L306.50 275.18L306.90 275.20L307.10 275.20L307.30 275.20L307.70 275.20L308.10 275.20L308.50 275.20L308.90 275.20L309.30 275.20L309.70 275.20L310.10 275.20L310.50 275.20L310.90 275.20L311.30 275.20L311.70 275.20L312.10 275.20L312.50 275.20L312.90 275.20L313.30 275.20L313.70 275.20L314.10 275.20L314.10 275.20L314.50 275.19L314.90 275.15L315.30 275.10L315.70 275.04L316.10 274.97L316.50 274.89L316.90 274.80L317.30 274.72L317.70 274.65L318.00 274.60L318.10 274.58L318.50 274.51L318.90 274.44L319.30 274.36L319.70 274.27L320.10 274.20L320.50 274.13L320.90 274.07L321.30 274.03L321.70 274.00L321.90 274.00L322.10 274.01L322.50 274.07L322.90 274.19L323.30 274.35L323.70 274.54L324.10 274.75L324.50 274.95L324.90 275.15L325.00 275.20L325.30 275.34L325.70 275.55L326.10 275.78L326.50 276.01L326.90 276.25L327.30 276.49L327.70 276.73L328.00 276.90L328.10 276.96L328.50 277.19L328.90 277.43L329.30 277.68L329.70 277.93L330.10 278.18L330.50 278.43L330.90 278.68L331.30 278.93L331.70 279.18L332.10 279.42L332.50 279.66L332.90 279.89L333.30 280.11L333.70 280.33L334.10 280.53L334.50 280.72L334.90 280.90L334.90 280.90L335.30 281.07L335.70 281.24L336.10 281.40L336.50 281.56L336.90 281.72L337.30 281.87L337.70 282.02L338.10 282.17L338.50 282.31L338.90 282.44L339.30 282.57L339.70 282.70L340.10 282.82L340.50 282.93L340.90 283.04L341.30 283.14L341.70 283.23L342.00 283.30"/>
<path d="M38.50 344.71L38.90 344.71L39.10 344.71L39.30 344.71L39.70 344.72L39.70 344.72L40.10 344.72L40.30 344.72L40.50 344.72L40.90 344.73L40.90 344.73L41.30 344.73L41.50 344.73L41.70 344.73L42.10 344.74L42.10 344.74L42.50 344.74L42.70 344.74L42.90 344.74L43.30 344.75L43.30 344.75L43.70 344.75L43.90 344.75L44.10 344.75L44.50 344.76L44.50 344.76L44.90 344.76L45.10 344.76L45.30 344.77L45.70 344.78L45.70 344.78L46.10 344.79L46.30 344.80L46.50 344.81L46.90 344.82L46.90 344.82L47.30 344.83L47.50 344.84L47.70 344.84L48.10 344.85L48.10 344.85L48.50 344.86L48.70 344.87L48.90 344.88L49.30 344.91L49.30 344.91L49.70 344.94L49.90 344.95L50.10 344.97L50.50 345.00L50.50 345.00L50.90 345.03L51.10 345.04L51.30 345.06L51.70 345.09L51.70 345.09L52.10 345.13L52.30 345.14L52.50 345.14L52.90 345.14L52.90 345.14L53.30 345.03L53.50 344.95L53.70 344.89L54.10 344.76L54.10 344.76L54.50 344.60L54.70 344.57L54.90 344.58L55.30 344.62L55.30 344.62L55.70 344.69L55.90 344.73L56.10 344.77L56.50 344.83L56.50 344.83L56.90 344.88L57.10 344.90L57.30 344.91L57.70 344.93L57.70 344.93L58.10 344.96L58.30 344.97L58.50 344.98L58.90 345.00L58.90 345.00L59.30 345.07L59.50 345.11L59.70 345.17L60.10 345.27L60.10 345.27L60.50 344.95L60.70 344.69L60.90 344.40L61.30 343.76L61.30 343.76L61.70 343.27L61.90 343.17L62.10 343.39L62.50 344.35L62.50 344.35L62.90 345.24L63.10 345.53L63.30 345.67L63.70 345.81L63.70 345.81L64.10 345.45L64.30 345.20L64.50 344.95L64.90 344.59L64.90 344.59L65.30 344.57L65.50 344.57L65.70 344.59L66.10 344.67L66.10 344.67L66.50 344.72L66.70 344.76L66.90 344.83L67.30 345.01L67.30 345.01L67.70 345.22L67.90 345.32L68.10 345.45L68.50 345.64L68.50 345.64L68.90 345.30L69.10 345.06L69.30 344.84L69.70 344.49L69.70 344.49L70.10 344.39L70.30 344.37L70.50 344.44L70.90 344.73L70.90 344.73L71.30 344.97L71.50 345.09L71.70 345.23L72.10 345.45L72.10 345.45L72.50 345.27L72.70 345.11L72.90 344.85L73.30 344.09L73.30 344.09L73.70 343.27L73.90 343.06L74.10 343.02L74.50 342.98L74.50 342.98L74.90 344.06L75.10 344.80L75.30 345.54L75.70 346.62L75.70 346.62L76.10 346.48L76.30 346.33L76.50 346.00L76.90 344.97L76.90 344.97L77.30 343.87L77.50 343.62L77.70 343.76L78.10 344.39L78.10 344.39L78.50 344.90L78.70 345.15L78.90 345.46L79.30 345.92L79.30 345.92L79.70 345.80L79.90 345.70L80.10 345.58L80.50 345.29L80.50 345.29L80.90 345.01L81.10 344.88L81.30 344.74L81.70 344.46L81.70 344.46L82.10 344.13L82.30 344.05L82.50 344.09L82.90 344.29L82.90 344.29L83.30 344.64L83.50 344.85L83.70 345.03L84.10 345.41L84.10 345.41L84.50 345.86L84.70 345.97L84.90 345.93L85.30 345.71L85.30 345.71L85.70 345.28L85.90 345.03L86.10 344.78L86.50 344.36L86.50 344.36L86.90 344.26L87.10 344.25L87.30 344.33L87.70 344.69L87.70 344.69L88.10 344.98L88.30 345.13L88.50 345.28L88.90 345.57L88.90 345.57L89.30 345.93L89.50 346.01L89.70 345.99L90.10 345.85L90.10 345.85L90.50 345.67L90.70 345.57L90.90 345.48L91.30 345.29L91.30 345.29L91.70 345.10L91.90 345.01L92.10 344.90L92.50 344.73L92.50 344.73L92.90 344.70L93.10 344.69L93.30 344.71L93.70 344.79L93.70 344.79L94.10 344.85L94.30 344.88L94.50 344.91L94.90 344.97L94.90 344.97L95.30 345.05L95.50 345.07L95.70 345.06L96.10 345.04L96.10 345.04L96.50 344.96L96.70 344.91L96.90 344.86L97.30 344.77L97.30 344.77L97.70 344.68L97.90 344.63L98.10 344.56L98.50 344.39L98.50 344.39L98.90 344.17L99.10 344.05L99.30 343.93L99.70 343.70L99.70 343.70L100.10 343.42L100.30 343.36L100.50 343.49L100.90 344.11L100.90 344.11L101.30 345.04L101.50 345.42L101.70 345.64L102.10 345.91L102.10 345.91L102.50 345.96L102.70 345.99L102.90 346.02L103.30 346.07L103.30 346.07L103.70 346.10L103.90 346.11L104.10 346.10L104.50 346.01L104.90 345.85L105.30 345.63L105.70 345.35L106.10 345.05L106.50 344.72L106.90 344.38L107.30 344.04L107.70 343.72L108.00 343.50L108.10 343.44L108.50 343.40L108.90 343.38L109.30 342.64L109.70 341.46L110.10 340.47L110.50 341.19L110.90 341.89L111.30 342.26L111.60 341.04L111.70 340.62L112.10 338.76L112.50 336.67L112.90 337.13L113.30 337.52L113.70 337.91L114.10 335.82L114.50 333.52L114.90 331.46L115.30 331.75L115.40 332.05L115.70 333.24L116.10 335.23L116.50 335.49L116.60 335.21L116.90 333.93L117.30 331.31L117.70 329.22L118.10 328.06L118.50 327.04L118.90 325.84L119.30 324.35L119.30 324.35L119.70 323.67L120.10 323.71L120.50 325.18L120.50 325.18L120.90 326.53L121.30 327.38L121.70 327.02L122.00 326.86L122.10 326.39L122.50 318.01L122.90 304.23L123.20 295.00L123.30 292.48L123.70 282.29L124.10 272.51L124.50 263.89L124.60 262.00L124.90 256.49L125.30 249.70L125.70 244.78L125.80 244.00L126.10 242.06L126.50 240.02L126.90 239.20L126.90 239.20L127.30 262.49L127.50 275.00L127.70 282.27L128.10 292.45L128.20 293.00L128.50 292.75L128.90 291.83L129.30 290.52L129.70 289.18L130.10 288.13L130.50 287.70L130.50 287.70L130.90 287.75L131.30 287.92L131.70 288.20L132.00 288.50L132.10 288.91L132.50 293.70L132.80 296.00L132.90 295.55L133.30 286.87L133.70 273.19L134.10 262.51L134.30 260.80L134.50 261.83L134.90 268.61L135.30 278.32L135.70 286.97L135.80 288.50L136.10 292.55L136.50 297.69L136.90 302.01L137.30 304.95L137.40 305.40L137.70 306.52L138.10 307.80L138.50 308.74L138.90 309.18L139.00 309.20L139.30 309.07L139.70 308.86L139.70 308.86L140.10 309.82L140.50 311.48L140.80 312.06L140.90 312.00L141.30 310.89L141.70 309.21L142.10 308.09L142.20 308.04L142.50 309.35L142.90 313.30L143.30 316.31L143.40 316.48L143.70 315.47L144.10 312.59L144.50 310.78L144.50 310.78L144.90 310.62L145.30 310.54L145.70 310.45L146.00 310.33L146.10 310.20L146.50 308.72L146.90 306.90L147.20 306.31L147.30 306.56L147.70 311.01L148.10 316.25L148.30 317.20L148.50 316.89L148.90 314.88L149.30 312.17L149.70 310.13L149.80 309.88L150.10 309.39L150.50 308.86L150.90 308.59L151.00 308.58L151.30 308.74L151.70 309.34L152.10 310.17L152.40 310.80L152.50 311.02L152.90 312.30L153.30 313.69L153.70 314.51L153.80 314.55L154.10 314.28L154.50 313.36L154.90 312.37L155.30 311.90L155.30 311.90L155.70 312.02L156.10 312.32L156.50 312.73L156.90 313.21L157.00 313.32L157.30 313.82L157.70 314.82L158.10 315.98L158.50 317.10L158.90 317.93L159.30 318.26L159.30 318.26L159.70 318.10L160.10 317.71L160.50 317.20L160.90 316.72L161.30 316.37L161.60 316.28L161.70 316.29L162.10 316.53L162.50 317.01L162.90 317.64L163.30 318.30L163.70 318.90L164.10 319.33L164.50 319.50L164.50 319.50L164.90 319.44L165.30 319.27L165.70 319.05L166.10 318.80L166.50 318.56L166.90 318.38L167.30 318.29L167.40 318.28L167.70 318.33L168.10 318.49L168.50 318.75L168.90 319.07L169.30 319.41L169.70 319.74L170.10 320.01L170.50 320.21L170.90 320.28L170.90 320.28L171.30 320.26L171.70 320.22L172.10 320.17L172.50 320.10L172.90 320.03L173.30 319.96L173.70 319.91L174.10 319.89L174.30 319.88L174.50 319.88L174.90 319.89L175.30 319.92L175.70 319.95L176.10 320.00L176.50 320.06L176.90 320.12L177.30 320.21L177.70 320.30L177.80 320.33L178.10 320.56L178.50 321.10L178.90 321.50L179.00 321.52L179.30 321.46L179.70 321.23L180.10 320.91L180.50 320.58L180.90 320.32L181.30 320.21L181.30 320.21L181.70 320.22L182.10 320.22L182.50 320.22L182.90 320.23L183.30 320.23L183.70 320.24L184.10 320.24L184.50 320.24L184.90 320.25L185.30 320.25L185.30 320.25L185.70 320.24L186.10 320.24L186.50 320.24L186.90 320.14L187.30 319.97L187.70 319.90L188.10 320.08L188.50 320.29L188.90 320.29L189.30 319.93L189.70 319.57L190.10 319.36L190.50 319.55L190.90 319.75L191.30 319.90L191.70 319.66L192.10 319.43L192.50 319.20L192.90 319.40L193.30 319.60L193.30 319.60L193.70 319.81L194.10 319.54L194.50 319.21L194.90 318.88L195.30 318.96L195.70 319.17L196.10 319.38L196.50 319.32L196.90 319.09L197.30 318.86L197.70 318.86L198.10 319.08L198.50 319.29L198.90 319.31L199.30 319.01L199.70 318.70L200.10 318.52L200.50 318.73L200.90 318.93L201.30 319.08L201.70 318.84L202.10 318.60L202.50 318.36L202.90 318.61L203.30 318.85L203.70 319.10L204.10 318.88L204.50 318.60L204.90 318.31L205.30 318.38L205.70 318.56L206.10 318.75L206.50 318.70L206.90 318.52L207.30 318.33L207.70 318.32L208.10 318.47L208.50 318.62L208.90 318.62L209.30 318.36L209.70 318.10L210.10 317.95L210.50 318.15L210.90 318.35L211.30 318.51L211.70 318.34L212.10 318.18L212.50 318.01L212.90 318.17L213.30 318.33L213.70 318.49L214.10 318.34L214.50 318.14L214.90 317.95L215.30 318.01L215.70 318.16L216.10 318.30L216.50 318.25L216.90 318.08L217.30 317.91L217.70 317.91L218.10 318.09L218.50 318.27L218.90 318.29L219.30 318.02L219.30 318.02L219.70 317.76L220.10 317.64L220.50 317.88L220.90 318.03L221.30 318.06L221.70 317.95L222.10 317.92L222.50 317.91L222.90 317.90L223.30 317.89L223.70 317.88L224.10 317.87L224.50 317.86L224.90 317.85L225.30 317.84L225.70 317.83L226.10 317.82L226.50 317.81L226.90 317.80L227.30 317.79L227.70 317.78L228.10 317.77L228.50 317.76L228.90 317.75L229.30 317.74L229.70 317.73L230.10 317.72L230.50 317.71L230.90 317.70L231.30 317.70L231.70 317.69L232.10 317.68L232.50 317.67L232.90 317.66L233.30 317.65L233.70 317.65L234.10 317.64L234.50 317.63L234.90 317.62L235.30 317.62L235.70 317.61L236.10 317.60L236.50 317.59L236.90 317.59L237.30 317.58L237.70 317.58L238.10 317.57L238.50 317.56L238.90 317.56L239.30 317.55L239.70 317.55L240.10 317.54L240.50 317.54L240.90 317.53L241.30 317.53L241.70 317.53L242.10 317.52L242.50 317.52L242.90 317.52L243.30 317.51L243.70 317.51L244.10 317.51L244.50 317.51L244.90 317.50L245.30 317.50L245.70 317.50L246.10 317.50L246.50 317.50L246.90 317.50L247.10 317.50L247.30 317.50L247.70 317.50L248.10 317.50L248.50 317.50L248.90 317.51L249.30 317.51L249.70 317.52L250.10 317.52L250.50 317.53L250.90 317.53L251.30 317.54L251.70 317.55L252.10 317.55L252.50 317.56L252.90 317.57L253.30 317.58L253.70 317.58L254.10 317.59L254.50 317.60L254.90 317.61L255.30 317.62L255.70 317.62L256.10 317.63L256.50 317.64L256.90 317.65L257.30 317.65L257.70 317.66L258.10 317.67L258.50 317.67L258.90 317.68L259.30 317.68L259.70 317.69L260.10 317.69L260.50 317.69L260.90 317.70L261.30 317.70L261.70 317.70L262.00 317.70L262.10 317.70L262.50 317.69L262.90 317.67L263.30 317.65L263.70 317.61L264.10 317.57L264.50 317.52L264.90 317.47L265.30 317.41L265.70 317.35L266.10 317.28L266.50 317.21L266.90 317.14L267.30 317.06L267.70 316.99L268.10 316.92L268.50 316.84L268.90 316.77L269.30 316.70L269.70 316.64L270.10 316.57L270.50 316.52L270.90 316.46L271.30 316.42L271.70 316.38L272.10 316.34L272.50 316.32L272.90 316.31L273.30 316.30L273.30 316.30L273.70 316.30L274.10 316.31L274.50 316.32L274.90 316.34L275.30 316.37L275.70 316.39L276.10 316.42L276.50 316.46L276.90 316.50L277.30 316.54L277.70 316.59L278.10 316.64L278.50 316.69L278.90 316.75L279.30 316.81L279.70 316.87L280.10 316.93L280.50 316.99L280.90 317.06L281.30 317.12L281.70 317.19L282.10 317.26L282.50 317.33L282.90 317.40L283.30 317.47L283.70 317.54L284.10 317.61L284.50 317.68L284.60 317.70L284.90 317.75L285.30 317.83L285.70 317.91L286.10 317.99L286.50 318.07L286.90 318.16L287.30 318.25L287.70 318.35L288.10 318.45L288.50 318.56L288.90 318.67L289.30 318.78L289.70 318.90L290.10 319.02L290.50 319.14L290.90 319.27L291.30 319.41L291.70 319.55L292.10 319.69L292.40 319.80L292.50 319.84L292.90 320.01L293.30 320.21L293.70 320.43L294.10 320.67L294.50 320.92L294.90 321.19L295.30 321.46L295.70 321.74L296.10 322.02L296.50 322.29L296.90 322.56L297.30 322.82L297.70 323.06L298.10 323.28L298.50 323.48L298.90 323.66L299.30 323.80L299.30 323.80L299.70 323.93L300.10 324.06L300.50 324.18L300.90 324.31L301.30 324.43L301.70 324.55L302.10 324.67L302.50 324.78L302.90 324.89L303.30 324.99L303.70 325.08L304.10 325.17L304.50 325.24L304.90 325.31L305.30 325.37L305.70 325.42L306.10 325.46L306.50 325.48L306.90 325.50L307.10 325.50L307.30 325.50L307.70 325.49L308.10 325.48L308.50 325.46L308.90 325.43L309.30 325.40L309.70 325.37L310.10 325.32L310.50 325.28L310.90 325.23L311.30 325.17L311.70 325.11L312.10 325.05L312.50 324.99L312.90 324.92L313.30 324.85L313.70 324.77L314.10 324.70L314.10 324.70L314.50 324.61L314.90 324.48L315.30 324.33L315.70 324.16L316.10 323.97L316.50 323.77L316.90 323.56L317.30 323.36L317.70 323.16L318.10 322.97L318.50 322.80L318.50 322.80L318.90 322.62L319.30 322.43L319.70 322.23L320.10 322.03L320.50 321.84L320.90 321.69L321.30 321.57L321.70 321.51L321.90 321.50L322.10 321.51L322.50 321.62L322.90 321.81L323.30 322.06L323.70 322.37L324.10 322.70L324.50 323.04L324.90 323.37L325.30 323.67L325.50 323.80L325.70 323.93L326.10 324.18L326.50 324.44L326.90 324.69L327.30 324.95L327.70 325.20L328.10 325.45L328.50 325.70L328.90 325.94L329.30 326.17L329.70 326.40L329.70 326.40L330.10 326.62L330.50 326.84L330.90 327.06L331.30 327.28L331.70 327.49L332.10 327.70L332.50 327.90L332.90 328.10L333.30 328.30L333.70 328.48L334.10 328.66L334.50 328.84L334.90 329.00L334.90 329.00L335.30 329.16L335.70 329.31L336.10 329.47L336.50 329.62L336.90 329.76L337.30 329.91L337.70 330.05L338.10 330.19L338.50 330.32L338.90 330.45L339.30 330.58L339.70 330.70L340.10 330.82L340.50 330.93L340.90 331.03L341.30 331.14L341.70 331.23L342.00 331.30"/>
<path d="M38.50 398.71L38.90 398.71L39.10 398.72L39.30 398.72L39.70 398.73L39.70 398.73L40.10 398.74L40.30 398.74L40.50 398.74L40.90 398.75L40.90 398.75L41.30 398.76L41.50 398.76L41.70 398.77L42.10 398.78L42.10 398.78L42.50 398.78L42.70 398.79L42.90 398.79L43.30 398.80L43.30 398.80L43.70 398.81L43.90 398.81L44.10 398.81L44.50 398.82L44.50 398.82L44.90 398.83L45.10 398.83L45.30 398.84L45.70 398.86L45.70 398.86L46.10 398.88L46.30 398.89L46.50 398.89L46.90 398.91L46.90 398.91L47.30 398.93L47.50 398.94L47.70 398.95L48.10 398.96L48.10 398.96L48.50 398.98L48.70 398.99L48.90 399.00L49.30 399.04L49.30 399.04L49.70 399.07L49.90 399.09L50.10 399.11L50.50 399.15L50.50 399.15L50.90 399.19L51.10 399.21L51.30 399.22L51.70 399.26L51.70 399.26L52.10 399.30L52.30 399.32L52.50 399.32L52.90 399.33L52.90 399.33L53.30 399.21L53.50 399.12L53.70 399.05L54.10 398.92L54.10 398.92L54.50 398.75L54.70 398.71L54.90 398.72L55.30 398.78L55.30 398.78L55.70 398.86L55.90 398.90L56.10 398.94L56.50 399.02L56.50 399.02L56.90 399.08L57.10 399.10L57.30 399.12L57.70 399.15L57.70 399.15L58.10 399.17L58.30 399.19L58.50 399.20L58.90 399.23L58.90 399.23L59.30 399.31L59.50 399.36L59.70 399.43L60.10 399.54L60.10 399.54L60.50 399.19L60.70 398.91L60.90 398.58L61.30 397.87L61.30 397.87L61.70 397.33L61.90 397.23L62.10 397.47L62.50 398.54L62.50 398.54L62.90 399.54L63.10 399.86L63.30 400.02L63.70 400.18L63.70 400.18L64.10 399.78L64.30 399.51L64.50 399.23L64.90 398.83L64.90 398.83L65.30 398.82L65.50 398.82L65.70 398.84L66.10 398.93L66.10 398.93L66.50 399.00L66.70 399.04L66.90 399.11L67.30 399.32L67.30 399.32L67.70 399.56L67.90 399.68L68.10 399.82L68.50 400.04L68.50 400.04L68.90 399.66L69.10 399.40L69.30 399.16L69.70 398.76L69.70 398.76L70.10 398.66L70.30 398.65L70.50 398.72L70.90 399.05L70.90 399.05L71.30 399.32L71.50 399.45L71.70 399.62L72.10 399.85L72.10 399.85L72.50 399.66L72.70 399.49L72.90 399.20L73.30 398.35L73.30 398.35L73.70 397.45L73.90 397.22L74.10 397.18L74.50 397.14L74.50 397.14L74.90 398.34L75.10 399.17L75.30 399.99L75.70 401.20L75.70 401.20L76.10 401.04L76.30 400.87L76.50 400.52L76.90 399.38L76.90 399.38L77.30 398.16L77.50 397.88L77.70 398.04L78.10 398.73L78.10 398.73L78.50 399.30L78.70 399.59L78.90 399.94L79.30 400.44L79.30 400.44L79.70 400.32L79.90 400.21L80.10 400.08L80.50 399.76L80.50 399.76L80.90 399.46L81.10 399.31L81.30 399.16L81.70 398.85L81.70 398.85L82.10 398.49L82.30 398.40L82.50 398.44L82.90 398.67L82.90 398.67L83.30 399.07L83.50 399.30L83.70 399.51L84.10 399.93L84.10 399.93L84.50 400.44L84.70 400.55L84.90 400.51L85.30 400.27L85.30 400.27L85.70 399.80L85.90 399.53L86.10 399.24L86.50 398.79L86.50 398.79L86.90 398.69L87.10 398.67L87.30 398.76L87.70 399.16L87.70 399.16L88.10 399.50L88.30 399.66L88.50 399.83L88.90 400.16L88.90 400.16L89.30 400.56L89.50 400.65L89.70 400.62L90.10 400.48L90.10 400.48L90.50 400.28L90.70 400.17L90.90 400.07L91.30 399.86L91.30 399.86L91.70 399.66L91.90 399.56L92.10 399.44L92.50 399.25L92.50 399.25L92.90 399.22L93.10 399.22L93.30 399.24L93.70 399.33L93.70 399.33L94.10 399.40L94.30 399.44L94.50 399.48L94.90 399.55L94.90 399.55L95.30 399.64L95.50 399.66L95.70 399.66L96.10 399.64L96.10 399.64L96.50 399.55L96.70 399.49L96.90 399.44L97.30 399.34L97.30 399.34L97.70 399.25L97.90 399.20L98.10 399.12L98.50 398.94L98.50 398.94L98.90 398.69L99.10 398.56L99.30 398.43L99.70 398.18L99.70 398.18L100.10 397.88L100.30 397.81L100.50 397.95L100.90 398.65L100.90 398.65L101.30 399.69L101.50 400.11L101.70 400.35L102.10 400.65L102.10 400.65L102.50 400.72L102.70 400.75L102.90 400.79L103.30 400.85L103.30 400.85L103.70 400.89L103.90 400.90L104.10 400.89L104.50 400.79L104.90 400.61L105.30 400.36L105.70 400.07L106.10 399.76L106.50 399.44L106.90 399.13L107.30 398.85L107.70 398.63L108.00 398.50L108.10 398.47L108.50 398.34L108.90 398.23L109.30 398.13L109.70 398.04L110.10 397.88L110.50 397.75L110.90 397.96L111.30 398.36L111.70 397.61L112.00 396.79L112.10 396.51L112.50 395.40L112.90 396.55L113.30 397.70L113.70 398.84L114.10 397.83L114.50 396.49L114.90 395.13L115.30 395.42L115.70 396.25L115.80 396.45L116.10 396.97L116.50 396.16L116.90 394.41L117.30 392.59L117.50 391.67L117.70 391.69L118.10 391.51L118.50 391.31L118.90 390.77L118.90 390.77L119.30 389.54L119.70 388.45L120.10 387.82L120.50 388.35L120.90 388.79L121.20 388.87L121.30 388.63L121.70 386.93L122.10 385.28L122.50 383.53L122.80 382.20L122.90 381.31L123.30 372.58L123.70 360.43L123.90 355.00L124.10 349.90L124.50 338.96L124.90 328.92L125.30 322.00L125.30 322.00L125.70 317.53L126.10 313.94L126.50 312.09L126.60 312.00L126.90 324.31L127.30 349.91L127.40 352.00L127.70 353.28L128.10 354.51L128.50 355.33L128.90 355.91L129.30 356.41L129.70 357.00L129.70 357.00L130.10 357.59L130.50 358.07L130.90 358.63L131.20 359.20L131.30 359.48L131.70 361.40L132.10 363.57L132.50 364.60L132.50 364.60L132.90 361.14L133.30 352.58L133.70 341.65L134.10 331.05L134.50 323.51L134.80 321.50L134.90 321.73L135.30 326.48L135.70 335.46L136.10 346.08L136.50 355.74L136.60 357.70L136.90 363.89L137.30 370.75L137.40 371.50L137.70 372.75L138.10 373.99L138.50 374.87L138.90 375.55L139.30 376.18L139.70 376.90L139.70 376.90L140.10 377.85L140.50 378.70L140.80 378.95L140.90 378.89L141.30 377.83L141.70 376.23L142.10 375.17L142.20 375.11L142.50 376.19L142.90 379.42L143.30 381.88L143.40 382.02L143.70 381.13L144.10 378.55L144.50 376.83L144.50 376.83L144.90 376.55L145.30 376.40L145.70 376.24L146.00 376.03L146.10 375.87L146.50 374.45L146.90 372.79L147.20 372.25L147.30 372.46L147.70 376.15L148.10 380.50L148.30 381.28L148.50 381.00L148.90 379.20L149.30 376.74L149.70 374.85L149.80 374.60L150.10 374.06L150.50 373.47L150.90 373.17L151.00 373.16L151.30 373.26L151.70 373.67L152.10 374.23L152.40 374.67L152.50 374.84L152.90 375.79L153.30 376.85L153.70 377.48L153.80 377.51L154.10 377.23L154.50 376.31L154.90 375.31L155.30 374.84L155.30 374.84L155.70 374.89L156.10 375.05L156.50 375.27L156.90 375.52L157.00 375.59L157.30 375.91L157.70 376.62L158.10 377.48L158.50 378.32L158.90 378.95L159.30 379.20L159.30 379.20L159.70 379.04L160.10 378.65L160.50 378.15L160.90 377.67L161.30 377.32L161.60 377.23L161.70 377.24L162.10 377.44L162.50 377.83L162.90 378.34L163.30 378.88L163.70 379.36L164.10 379.72L164.50 379.85L164.50 379.85L164.90 379.79L165.30 379.63L165.70 379.41L166.10 379.16L166.50 378.93L166.90 378.75L167.30 378.66L167.40 378.66L167.70 378.69L168.10 378.83L168.50 379.04L168.90 379.30L169.30 379.58L169.70 379.86L170.10 380.10L170.50 380.27L170.90 380.35L170.90 380.35L171.30 380.37L171.70 380.39L172.10 380.40L172.50 380.41L172.90 380.42L173.30 380.43L173.70 380.44L174.10 380.46L174.30 380.47L174.50 380.49L174.90 380.53L175.30 380.58L175.70 380.66L176.10 380.75L176.50 380.85L176.90 380.98L177.30 381.12L177.70 381.28L177.80 381.32L178.10 381.58L178.50 382.12L178.90 382.49L179.00 382.51L179.30 382.48L179.70 382.36L180.10 382.19L180.50 382.01L180.90 381.87L181.30 381.82L181.30 381.82L181.70 381.84L182.10 381.91L182.50 382.02L182.90 382.14L183.30 382.28L183.70 382.42L184.10 382.54L184.50 382.65L184.90 382.72L185.30 382.74L185.30 382.74L185.70 382.74L186.10 382.74L186.50 382.76L186.90 382.68L187.30 382.53L187.70 382.49L188.10 382.69L188.50 382.93L188.90 382.96L189.30 382.64L189.70 382.32L190.10 382.13L190.50 382.35L190.90 382.58L191.30 382.75L191.70 382.53L192.10 382.32L192.50 382.10L192.90 382.31L193.30 382.51L193.70 382.71L194.10 382.45L194.50 382.11L194.90 381.78L195.30 381.85L195.70 382.06L196.10 382.27L196.50 382.20L196.90 381.97L197.30 381.74L197.70 381.74L198.10 381.96L198.50 382.18L198.70 382.29L198.90 382.21L199.30 381.90L199.70 381.60L200.10 381.42L200.50 381.63L200.90 381.84L201.30 381.99L201.70 381.75L202.10 381.51L202.50 381.27L202.90 381.52L203.30 381.77L203.70 382.02L204.10 381.80L204.50 381.51L204.90 381.23L205.30 381.29L205.70 381.48L206.10 381.66L206.50 381.61L206.90 381.43L207.30 381.24L207.70 381.23L208.10 381.38L208.50 381.52L208.90 381.52L209.30 381.26L209.70 381.00L210.10 380.85L210.50 381.05L210.90 381.24L211.30 381.40L211.70 381.23L212.10 381.06L212.50 380.89L212.90 381.04L213.30 381.20L213.70 381.36L214.10 381.20L214.50 381.00L214.90 380.80L215.30 380.86L215.70 381.01L216.10 381.15L216.50 381.09L216.90 380.92L217.30 380.74L217.70 380.74L218.10 380.92L218.50 381.10L218.90 381.11L219.30 380.84L219.70 380.58L219.90 380.45L220.10 380.46L220.50 380.70L220.90 380.84L221.30 380.87L221.70 380.76L222.10 380.73L222.50 380.72L222.90 380.71L223.30 380.70L223.70 380.69L224.10 380.68L224.50 380.66L224.90 380.65L225.30 380.64L225.70 380.63L226.10 380.62L226.50 380.61L226.90 380.61L227.30 380.60L227.70 380.59L228.10 380.58L228.50 380.57L228.90 380.56L229.30 380.55L229.70 380.54L230.10 380.53L230.50 380.52L230.90 380.52L231.30 380.51L231.70 380.50L232.10 380.49L232.50 380.48L232.90 380.47L233.30 380.47L233.70 380.46L234.10 380.45L234.50 380.44L234.90 380.43L235.30 380.43L235.70 380.42L236.10 380.41L236.50 380.40L236.90 380.39L237.30 380.38L237.70 380.38L238.10 380.37L238.50 380.36L238.90 380.35L239.30 380.34L239.70 380.33L240.10 380.32L240.50 380.32L240.90 380.31L241.30 380.30L241.70 380.29L242.10 380.28L242.50 380.27L242.90 380.26L243.30 380.25L243.70 380.24L244.10 380.23L244.50 380.22L244.90 380.21L245.30 380.20L245.30 380.20L245.70 380.19L246.10 380.18L246.50 380.17L246.90 380.16L247.30 380.14L247.70 380.13L248.10 380.12L248.50 380.11L248.90 380.09L249.30 380.08L249.70 380.07L250.10 380.06L250.50 380.04L250.90 380.03L251.30 380.02L251.70 380.00L252.10 379.99L252.50 379.98L252.90 379.96L253.30 379.95L253.70 379.94L254.10 379.92L254.50 379.91L254.90 379.90L255.30 379.89L255.70 379.87L256.10 379.86L256.50 379.85L256.90 379.84L257.30 379.82L257.70 379.81L258.10 379.80L258.50 379.79L258.90 379.78L259.30 379.77L259.70 379.76L260.10 379.74L260.50 379.73L260.90 379.73L261.30 379.72L261.70 379.71L262.00 379.70L262.10 379.70L262.50 379.69L262.90 379.68L263.30 379.67L263.70 379.66L264.10 379.65L264.50 379.64L264.90 379.63L265.30 379.62L265.70 379.61L266.10 379.61L266.50 379.60L266.90 379.59L267.30 379.58L267.70 379.57L268.10 379.56L268.50 379.55L268.90 379.55L269.30 379.54L269.70 379.53L270.10 379.53L270.50 379.52L270.90 379.52L271.30 379.51L271.70 379.51L272.10 379.51L272.50 379.50L272.90 379.50L273.30 379.50L273.60 379.50L273.70 379.50L274.10 379.50L274.50 379.50L274.90 379.50L275.30 379.50L275.70 379.50L276.10 379.50L276.50 379.50L276.90 379.50L277.30 379.50L277.70 379.50L278.10 379.50L278.50 379.50L278.90 379.50L279.30 379.50L279.70 379.50L280.10 379.50L280.50 379.50L280.90 379.50L281.30 379.50L281.70 379.50L282.00 379.50L282.10 379.50L282.50 379.50L282.90 379.51L283.30 379.51L283.70 379.52L284.10 379.53L284.50 379.55L284.90 379.56L285.30 379.58L285.70 379.60L286.10 379.62L286.50 379.65L286.90 379.67L287.30 379.70L287.70 379.73L288.10 379.77L288.50 379.80L288.90 379.84L289.30 379.88L289.70 379.92L290.10 379.96L290.50 380.01L290.90 380.05L291.30 380.10L291.30 380.10L291.70 380.18L292.10 380.30L292.50 380.47L292.90 380.67L293.30 380.91L293.70 381.16L294.10 381.44L294.50 381.72L294.90 382.01L295.30 382.29L295.70 382.57L296.10 382.83L296.50 383.07L296.90 383.28L297.30 383.46L297.40 383.50L297.70 383.61L298.10 383.76L298.50 383.92L298.90 384.07L299.30 384.22L299.70 384.36L300.10 384.50L300.50 384.64L300.90 384.76L301.30 384.87L301.70 384.97L302.10 385.05L302.50 385.12L302.90 385.17L303.30 385.19L303.60 385.20L303.70 385.20L304.10 385.20L304.50 385.19L304.90 385.18L305.30 385.16L305.70 385.15L306.10 385.13L306.50 385.10L306.90 385.08L307.30 385.05L307.70 385.02L308.10 384.98L308.50 384.95L308.90 384.91L309.00 384.90L309.30 384.87L309.70 384.80L310.10 384.72L310.50 384.63L310.90 384.51L311.30 384.39L311.70 384.25L312.10 384.10L312.50 383.94L312.90 383.77L313.30 383.60L313.70 383.42L314.10 383.24L314.40 383.10L314.50 383.05L314.90 382.82L315.30 382.55L315.70 382.24L316.10 381.92L316.50 381.59L316.90 381.26L317.30 380.95L317.70 380.68L318.10 380.45L318.20 380.40L318.50 380.26L318.90 380.06L319.30 379.87L319.70 379.69L320.10 379.53L320.50 379.41L320.90 379.33L321.30 379.30L321.30 379.30L321.70 379.34L322.10 379.47L322.50 379.66L322.90 379.90L323.30 380.18L323.70 380.48L324.10 380.80L324.50 381.11L324.90 381.40L325.20 381.60L325.30 381.66L325.70 381.93L326.10 382.21L326.50 382.49L326.90 382.79L327.30 383.08L327.70 383.38L328.10 383.66L328.50 383.94L328.90 384.20L329.30 384.44L329.70 384.65L329.80 384.70L330.10 384.84L330.50 385.03L330.90 385.21L331.30 385.38L331.70 385.55L332.10 385.71L332.50 385.87L332.90 386.01L333.30 386.16L333.70 386.30L334.10 386.43L334.50 386.56L334.90 386.68L335.30 386.80L335.70 386.92L336.00 387.00L336.10 387.03L336.50 387.13L336.90 387.24L337.30 387.34L337.70 387.44L338.10 387.54L338.50 387.64L338.90 387.73L339.30 387.81L339.70 387.90L340.10 387.98L340.50 388.05L340.90 388.13L341.30 388.19L341.70 388.26L342.00 388.30"/>
<path d="M38.50 425.31L38.90 425.34L39.10 425.35L39.30 425.37L39.70 425.39L39.70 425.39L40.10 425.42L40.30 425.43L40.50 425.45L40.90 425.48L40.90 425.48L41.30 425.50L41.50 425.52L41.70 425.53L42.10 425.56L42.10 425.56L42.50 425.58L42.70 425.60L42.90 425.61L43.30 425.64L43.30 425.64L43.70 425.66L43.90 425.68L44.10 425.69L44.50 425.72L44.50 425.72L44.90 425.74L45.10 425.76L45.30 425.78L45.70 425.83L45.70 425.83L46.10 425.88L46.30 425.90L46.50 425.92L46.90 425.97L46.90 425.97L47.30 426.01L47.50 426.04L47.70 426.06L48.10 426.11L48.10 426.11L48.50 426.15L48.70 426.18L48.90 426.21L49.30 426.29L49.30 426.29L49.70 426.37L49.90 426.42L50.10 426.46L50.50 426.55L50.50 426.55L50.90 426.64L51.10 426.68L51.30 426.72L51.70 426.81L51.70 426.81L52.10 426.91L52.30 426.94L52.50 426.96L52.90 426.98L52.90 426.98L53.30 426.75L53.50 426.59L53.70 426.45L54.10 426.19L54.10 426.19L54.50 425.87L54.70 425.79L54.90 425.82L55.30 425.95L55.30 425.95L55.70 426.12L55.90 426.21L56.10 426.30L56.50 426.47L56.50 426.47L56.90 426.60L57.10 426.65L57.30 426.69L57.70 426.75L57.70 426.75L58.10 426.82L58.30 426.86L58.50 426.89L58.90 426.96L58.90 426.96L59.30 427.13L59.50 427.24L59.70 427.38L60.10 427.61L60.10 427.61L60.50 426.92L60.70 426.37L60.90 425.72L61.30 424.31L61.30 424.31L61.70 423.25L61.90 423.04L62.10 423.53L62.50 425.68L62.50 425.68L62.90 427.69L63.10 428.33L63.30 428.66L63.70 428.99L63.70 428.99L64.10 428.21L64.30 427.67L64.50 427.13L64.90 426.34L64.90 426.34L65.30 426.32L65.50 426.32L65.70 426.37L66.10 426.57L66.10 426.57L66.50 426.71L66.70 426.81L66.90 426.96L67.30 427.38L67.30 427.38L67.70 427.86L67.90 428.12L68.10 428.42L68.50 428.85L68.50 428.85L68.90 428.11L69.10 427.60L69.30 427.11L69.70 426.34L69.70 426.34L70.10 426.15L70.30 426.12L70.50 426.27L70.90 426.94L70.90 426.94L71.30 427.49L71.50 427.77L71.70 428.10L72.10 428.59L72.10 428.59L72.50 428.22L72.70 427.88L72.90 427.30L73.30 425.63L73.30 425.63L73.70 423.83L73.90 423.38L74.10 423.30L74.50 423.23L74.50 423.23L74.90 425.65L75.10 427.31L75.30 428.96L75.70 431.38L75.70 431.38L76.10 431.07L76.30 430.75L76.50 430.05L76.90 427.77L76.90 427.77L77.30 425.35L77.50 424.80L77.70 425.12L78.10 426.53L78.10 426.53L78.50 427.68L78.70 428.25L78.90 428.96L79.30 429.98L79.30 429.98L79.70 429.74L79.90 429.53L80.10 429.28L80.50 428.65L80.50 428.65L80.90 428.05L81.10 427.76L81.30 427.46L81.70 426.87L81.70 426.87L82.10 426.15L82.30 425.99L82.50 426.07L82.90 426.54L82.90 426.54L83.30 427.35L83.50 427.81L83.70 428.24L84.10 429.08L84.10 429.08L84.50 430.12L84.70 430.36L84.90 430.27L85.30 429.81L85.30 429.81L85.70 428.88L85.90 428.35L86.10 427.78L86.50 426.89L86.50 426.89L86.90 426.69L87.10 426.66L87.30 426.85L87.70 427.67L87.70 427.67L88.10 428.34L88.30 428.68L88.50 429.01L88.90 429.69L88.90 429.69L89.30 430.51L89.50 430.69L89.70 430.64L90.10 430.37L90.10 430.37L90.50 429.98L90.70 429.77L90.90 429.57L91.30 429.17L91.30 429.17L91.70 428.78L91.90 428.58L92.10 428.34L92.50 427.98L92.50 427.98L92.90 427.94L93.10 427.94L93.30 427.98L93.70 428.17L93.70 428.17L94.10 428.33L94.30 428.41L94.50 428.49L94.90 428.65L94.90 428.65L95.30 428.84L95.50 428.88L95.70 428.88L96.10 428.86L96.10 428.86L96.50 428.70L96.70 428.59L96.90 428.49L97.30 428.31L97.30 428.31L97.70 428.14L97.90 428.03L98.10 427.89L98.50 427.53L98.50 427.53L98.90 427.05L99.10 426.79L99.30 426.55L99.70 426.06L99.70 426.06L100.10 425.46L100.30 425.33L100.50 425.61L100.90 427.03L100.90 427.03L101.30 429.12L101.50 429.95L101.70 430.45L102.10 431.07L102.10 431.07L102.50 431.22L102.70 431.28L102.90 431.37L103.30 431.49L103.30 431.49L103.70 430.46L104.10 428.25L104.50 426.21L104.80 425.60L104.90 425.70L105.30 427.52L105.70 429.90L106.00 430.70L106.10 430.58L106.50 428.31L106.90 424.94L107.30 422.80L107.30 422.80L107.70 422.23L108.10 421.90L108.50 421.68L108.90 421.43L109.30 421.01L109.60 420.50L109.70 420.04L110.10 414.71L110.50 408.85L110.70 407.80L110.90 408.48L111.30 412.40L111.70 416.32L111.90 417.00L112.10 416.60L112.50 414.39L112.90 412.51L113.00 412.40L113.30 412.76L113.70 413.83L114.10 414.65L114.20 414.70L114.50 413.84L114.90 410.86L115.30 407.27L115.70 404.70L115.90 404.30L116.10 404.99L116.50 408.95L116.90 412.91L117.10 413.60L117.30 413.12L117.70 410.12L118.10 406.27L118.50 403.83L118.60 403.70L118.90 406.83L119.30 413.17L119.40 413.60L119.70 412.60L120.10 409.61L120.50 407.33L120.60 407.20L120.90 408.15L121.30 410.84L121.70 412.40L121.70 412.40L122.10 410.99L122.50 407.52L122.90 403.10L122.90 403.10L123.30 396.63L123.70 388.00L123.70 388.00L124.10 377.26L124.50 364.89L124.90 354.08L125.00 352.00L125.30 346.04L125.70 338.55L126.10 333.71L126.30 333.00L126.50 335.46L126.90 350.19L127.30 367.01L127.40 370.00L127.70 378.24L128.10 386.39L128.20 387.00L128.50 387.55L128.90 388.05L129.30 388.36L129.70 388.59L130.10 388.84L130.50 389.20L130.50 389.20L130.90 389.60L131.30 390.05L131.70 390.80L131.70 390.80L132.10 396.07L132.50 404.19L132.80 407.00L132.90 406.91L133.30 405.72L133.50 405.40L133.70 405.73L134.10 407.77L134.50 410.28L134.80 411.50L134.90 411.71L135.30 412.30L135.70 412.83L135.80 413.00L136.10 413.70L136.50 414.90L136.90 416.09L137.30 416.90L137.40 417.00L137.70 417.19L138.10 417.36L138.50 417.50L138.90 417.70L138.90 417.70L139.30 418.07L139.70 418.58L140.10 419.10L140.50 419.47L140.80 419.57L140.90 419.52L141.30 418.44L141.70 416.82L142.10 415.74L142.20 415.69L142.50 416.76L142.90 419.97L143.30 422.41L143.40 422.55L143.70 421.66L144.10 419.07L144.50 417.32L144.50 417.32L144.90 417.02L145.30 416.87L145.70 416.70L146.00 416.47L146.10 416.31L146.50 414.86L146.90 413.19L147.20 412.65L147.30 412.86L147.70 416.53L148.10 420.86L148.30 421.64L148.50 421.36L148.90 419.56L149.30 417.09L149.70 415.16L149.80 414.91L150.10 414.33L150.50 413.69L150.90 413.36L151.00 413.34L151.30 413.44L151.70 413.80L152.10 414.30L152.40 414.70L152.50 414.85L152.90 415.75L153.30 416.75L153.70 417.35L153.80 417.38L154.10 417.09L154.50 416.10L154.90 415.04L155.30 414.54L155.30 414.54L155.70 414.58L156.10 414.69L156.50 414.85L156.90 415.05L157.00 415.10L157.30 415.37L157.70 416.02L158.10 416.82L158.50 417.61L158.90 418.21L159.30 418.45L159.30 418.45L159.70 418.27L160.10 417.82L160.50 417.26L160.90 416.71L161.30 416.32L161.60 416.21L161.70 416.22L162.10 416.41L162.50 416.79L162.90 417.27L163.30 417.78L163.70 418.25L164.10 418.58L164.50 418.71L164.50 418.71L164.90 418.65L165.30 418.49L165.70 418.27L166.10 418.03L166.50 417.80L166.90 417.62L167.30 417.53L167.40 417.53L167.70 417.56L168.10 417.70L168.50 417.90L168.90 418.16L169.30 418.44L169.70 418.72L170.10 418.96L170.50 419.14L170.90 419.24L170.90 419.24L171.30 419.28L171.70 419.30L172.10 419.32L172.50 419.34L172.90 419.36L173.30 419.37L173.70 419.40L174.10 419.43L174.30 419.44L174.50 419.47L174.90 419.52L175.30 419.59L175.70 419.67L176.10 419.77L176.50 419.89L176.90 420.02L177.30 420.18L177.70 420.36L177.80 420.40L178.10 420.68L178.50 421.25L178.90 421.65L179.00 421.67L179.30 421.64L179.70 421.55L180.10 421.41L180.50 421.27L180.90 421.16L181.30 421.12L181.30 421.12L181.70 421.14L182.10 421.20L182.50 421.30L182.90 421.42L183.30 421.56L183.70 421.72L184.10 421.87L184.50 422.03L184.90 422.17L185.30 422.30L185.30 422.30L185.70 422.41L186.10 422.54L186.50 422.69L186.90 422.75L187.30 422.73L187.70 422.83L188.10 423.18L188.50 423.57L188.90 423.74L189.30 423.56L189.70 423.38L190.10 423.33L190.50 423.69L190.90 424.05L191.30 424.35L191.70 424.25L192.10 424.15L192.40 424.07L192.50 424.05L192.90 424.35L193.30 424.66L193.70 424.97L194.10 424.80L194.50 424.56L194.90 424.33L195.30 424.50L195.70 424.80L196.10 425.10L196.50 425.13L196.90 424.99L197.30 424.85L197.70 424.92L198.10 425.23L198.50 425.53L198.90 425.63L199.30 425.40L199.70 425.17L200.10 425.06L200.50 425.35L200.90 425.63L201.30 425.85L201.70 425.68L202.10 425.51L202.50 425.34L202.90 425.65L203.30 425.97L203.70 426.29L204.10 426.13L204.50 425.91L204.90 425.69L205.30 425.81L205.70 426.06L206.10 426.31L206.50 426.32L206.90 426.20L207.30 426.07L207.70 426.11L208.10 426.32L208.50 426.53L208.90 426.58L209.30 426.37L209.30 426.37L209.70 426.17L210.10 426.08L210.50 426.33L210.90 426.58L211.30 426.79L211.70 426.67L212.10 426.55L212.50 426.44L212.90 426.65L213.30 426.85L213.70 427.06L214.10 426.96L214.50 426.81L214.90 426.65L215.30 426.76L215.70 426.95L216.10 427.14L216.50 427.13L216.90 427.00L217.30 426.87L217.70 426.92L218.10 427.13L218.50 427.35L218.90 427.40L219.30 427.18L219.70 426.95L220.10 426.87L220.50 427.14L220.90 427.32L221.30 427.38L221.70 427.31L222.10 427.32L222.50 427.34L222.90 427.36L223.30 427.38L223.70 427.39L224.10 427.41L224.50 427.43L224.90 427.45L225.30 427.46L225.70 427.48L226.10 427.49L226.30 427.50L226.50 427.51L226.90 427.52L227.30 427.53L227.70 427.55L228.10 427.56L228.50 427.58L228.90 427.59L229.30 427.60L229.70 427.62L230.10 427.63L230.50 427.64L230.90 427.66L231.30 427.67L231.70 427.68L232.10 427.70L232.50 427.71L232.90 427.72L233.30 427.73L233.70 427.74L234.10 427.76L234.50 427.77L234.90 427.78L235.30 427.79L235.70 427.80L236.10 427.81L236.50 427.82L236.90 427.83L237.30 427.83L237.70 427.84L238.10 427.85L238.50 427.86L238.90 427.86L239.30 427.87L239.70 427.88L240.10 427.88L240.50 427.89L240.90 427.89L241.30 427.89L241.70 427.90L242.10 427.90L242.50 427.90L242.90 427.90L243.20 427.90L243.30 427.90L243.70 427.90L244.10 427.90L244.50 427.90L244.90 427.90L245.30 427.90L245.70 427.90L246.10 427.90L246.50 427.90L246.90 427.90L247.30 427.90L247.70 427.90L248.10 427.90L248.50 427.90L248.90 427.90L249.30 427.90L249.70 427.90L250.10 427.90L250.50 427.90L250.90 427.90L251.30 427.90L251.70 427.90L252.10 427.90L252.50 427.90L252.90 427.90L253.30 427.90L253.70 427.90L254.10 427.90L254.50 427.90L254.90 427.90L255.30 427.90L255.70 427.90L255.90 427.90L256.10 427.90L256.50 427.90L256.90 427.89L257.30 427.88L257.70 427.88L258.10 427.86L258.50 427.85L258.90 427.84L259.30 427.82L259.70 427.81L260.10 427.79L260.50 427.77L260.90 427.75L261.30 427.73L261.70 427.71L262.00 427.70L262.10 427.70L262.50 427.67L262.90 427.65L263.30 427.61L263.70 427.58L264.10 427.54L264.50 427.50L264.90 427.45L265.30 427.41L265.70 427.36L266.10 427.31L266.50 427.26L266.90 427.21L267.30 427.15L267.70 427.10L268.10 427.05L268.50 427.00L268.90 426.95L269.30 426.90L269.70 426.86L270.10 426.81L270.50 426.77L270.90 426.74L271.30 426.70L271.70 426.67L272.10 426.65L272.50 426.63L272.90 426.61L273.30 426.60L273.70 426.60L273.70 426.60L274.10 426.60L274.50 426.60L274.90 426.60L275.30 426.60L275.70 426.60L276.10 426.60L276.50 426.60L276.90 426.60L277.30 426.60L277.70 426.60L278.10 426.60L278.50 426.60L278.90 426.60L279.30 426.60L279.70 426.60L280.10 426.60L280.50 426.60L280.90 426.60L281.30 426.60L281.70 426.60L282.10 426.60L282.50 426.60L282.90 426.60L283.30 426.60L283.70 426.60L284.10 426.60L284.50 426.60L284.90 426.60L285.30 426.60L285.70 426.60L286.10 426.60L286.20 426.60L286.50 426.60L286.90 426.61L287.30 426.63L287.70 426.66L288.10 426.69L288.50 426.73L288.90 426.77L289.30 426.82L289.70 426.88L290.10 426.94L290.50 427.00L290.90 427.07L291.30 427.14L291.70 427.21L292.10 427.28L292.50 427.35L292.90 427.43L293.30 427.50L293.30 427.50L293.70 427.59L294.10 427.69L294.50 427.82L294.90 427.96L295.30 428.11L295.70 428.27L296.10 428.43L296.50 428.60L296.90 428.76L297.30 428.91L297.70 429.06L298.10 429.19L298.50 429.31L298.90 429.40L299.30 429.47L299.50 429.50L299.70 429.52L300.10 429.57L300.50 429.61L300.90 429.65L301.30 429.69L301.70 429.73L302.10 429.76L302.50 429.80L302.90 429.83L303.30 429.87L303.70 429.90L304.10 429.92L304.50 429.95L304.90 429.98L305.30 430.00L305.70 430.02L306.10 430.04L306.50 430.05L306.90 430.07L307.30 430.08L307.70 430.09L308.10 430.09L308.50 430.10L308.90 430.10L308.90 430.10L309.30 430.10L309.70 430.09L310.10 430.07L310.50 430.06L310.90 430.03L311.30 430.01L311.70 429.98L312.10 429.95L312.50 429.92L312.90 429.88L313.30 429.85L313.70 429.81L314.10 429.78L314.50 429.75L314.90 429.71L315.10 429.70L315.30 429.68L315.70 429.65L316.10 429.61L316.50 429.57L316.90 429.53L317.30 429.49L317.70 429.44L318.10 429.40L318.50 429.35L318.90 429.31L319.30 429.27L319.70 429.23L320.10 429.19L320.50 429.16L320.90 429.14L321.30 429.12L321.70 429.11L322.10 429.10L322.20 429.10L322.50 429.10L322.90 429.11L323.30 429.11L323.70 429.12L324.10 429.14L324.50 429.15L324.90 429.17L325.30 429.19L325.70 429.21L326.10 429.24L326.50 429.26L326.90 429.29L327.30 429.31L327.70 429.34L328.10 429.37L328.50 429.40L328.90 429.43L329.30 429.45L329.70 429.48L330.00 429.50L330.10 429.51L330.50 429.53L330.90 429.56L331.30 429.59L331.70 429.62L332.10 429.65L332.50 429.68L332.90 429.71L333.30 429.74L333.70 429.77L334.10 429.80L334.50 429.84L334.90 429.87L335.30 429.91L335.70 429.95L336.10 429.98L336.50 430.02L336.90 430.06L337.30 430.10L337.70 430.14L338.10 430.18L338.50 430.22L338.90 430.26L339.30 430.30L339.70 430.34L340.10 430.39L340.50 430.43L340.90 430.47L341.30 430.52L341.70 430.57L342.00 430.60"/>
<path d="M373.70 29.40L374.10 29.38L374.50 29.36L374.90 29.34L375.30 29.32L375.70 29.29L376.10 29.27L376.50 29.25L376.90 29.23L377.30 29.21L377.70 29.19L378.10 29.17L378.50 29.14L378.90 29.12L379.30 29.10L379.70 29.07L380.10 29.05L380.50 29.02L380.90 28.99L381.30 28.95L381.70 28.93L382.10 28.90L382.50 28.86L382.90 28.81L383.30 28.74L383.70 28.67L384.10 28.57L384.50 28.45L384.90 28.32L385.30 28.15L385.70 27.97L386.10 27.76L386.50 27.53L386.90 27.28L387.30 27.01L387.70 26.73L388.10 26.45L388.50 26.17L388.90 25.91L389.30 25.67L389.70 25.45L390.10 25.27L390.50 25.14L390.90 25.06L391.30 25.03L391.70 25.05L392.10 25.13L392.50 25.26L392.90 25.43L393.30 25.64L393.70 25.88L394.10 26.14L394.50 26.41L394.90 26.68L395.30 26.95L395.70 27.22L396.10 27.46L396.50 27.69L396.90 27.89L397.30 28.06L397.70 28.21L398.10 28.31L398.50 28.37L398.90 28.35L399.30 28.24L399.70 28.03L400.10 27.73L400.50 27.39L400.90 27.07L401.30 26.86L401.70 26.82L402.10 26.85L402.50 26.89L402.90 26.95L403.30 27.02L403.70 27.11L404.10 27.21L404.50 27.32L404.90 27.44L405.30 27.56L405.70 27.68L406.10 27.80L406.50 27.92L406.90 28.03L407.30 28.14L407.70 28.23L408.10 28.32L408.50 28.40L408.90 28.46L409.30 28.52L409.70 28.57L410.10 28.62L410.50 28.68L410.90 28.73L411.30 28.78L411.70 28.82L412.10 28.85L412.50 28.89L412.90 28.92L413.30 28.94L413.70 28.97L414.10 28.99L414.50 29.02L414.90 29.04L415.30 29.06L415.70 29.08L416.10 29.10L416.50 29.12L416.90 29.14L417.30 29.16L417.70 29.18L418.10 29.20L418.50 29.22L418.90 29.24L419.30 29.26L419.70 29.28L420.10 29.30L420.50 29.32L420.90 29.34L421.30 29.36L421.70 29.38L422.10 29.40L422.50 29.42L422.90 29.44L423.30 29.46L423.70 29.48L424.10 29.50L424.50 29.51L424.90 29.53L425.30 29.54L425.70 29.55L426.10 29.56L426.50 29.57L426.90 29.59L427.30 29.60L427.70 29.61L428.10 29.62L428.50 29.63L428.90 29.65L429.30 29.66L429.70 29.67L430.10 29.68L430.50 29.69L430.90 29.71L431.30 29.72L431.70 29.73L432.10 29.74L432.50 29.75L432.90 29.77L433.30 29.78L433.70 29.79L434.10 29.80L434.50 29.80L434.90 29.81L435.30 29.81L435.70 29.81L436.10 29.82L436.50 29.82L436.90 29.82L437.30 29.82L437.70 29.83L438.10 29.83L438.50 29.83L438.90 29.84L439.30 29.84L439.70 29.84L440.10 29.85L440.50 29.85L440.90 29.85L441.30 29.85L441.70 29.86L442.10 29.86L442.50 29.86L442.90 29.87L443.30 29.87L443.70 29.87L444.10 29.88L444.50 29.88L444.90 29.88L445.30 29.88L445.70 29.89L446.10 29.89L446.50 29.89L446.90 29.90L447.30 29.90L447.70 29.90L448.10 29.90L448.50 29.91L448.90 29.91L449.30 29.91L449.70 29.92L450.10 29.92L450.50 29.92L450.90 29.93L451.30 29.93L451.70 29.93L452.10 29.93L452.50 29.94L452.90 29.94L453.30 29.94L453.70 29.95L454.10 29.95L454.50 29.95L454.90 29.96L455.30 29.96L455.70 29.96L456.10 29.96L456.50 29.97L456.90 29.97L457.30 29.97L457.70 29.98L458.10 29.98L458.50 29.98L458.90 29.99L459.30 29.99L459.70 29.99L460.10 29.99L460.50 30.00L460.90 30.00L461.30 30.00L461.70 30.00L462.10 30.00L462.50 30.00L462.90 29.99L463.30 29.99L463.70 29.99L464.10 29.99L464.50 29.99L464.90 29.99L465.30 29.99L465.70 29.99L466.10 29.98L466.50 29.98L466.90 29.98L467.30 29.98L467.70 29.98L468.10 29.98L468.50 29.98L468.90 29.98L469.30 29.97L469.70 29.97L470.10 29.97L470.50 29.97L470.90 29.97L471.30 29.97L471.70 29.97L472.10 29.97L472.50 29.96L472.90 29.96L473.30 29.96L473.70 29.96L474.10 29.96L474.50 29.96L474.90 29.96L475.30 29.96L475.70 29.95L476.10 29.95L476.50 29.95L476.90 29.95L477.30 29.95L477.70 29.95L478.10 29.95L478.50 29.95L478.90 29.94L479.30 29.94L479.70 29.94L480.10 29.94L480.50 29.94L480.90 29.94L481.30 29.94L481.70 29.94L482.10 29.93L482.50 29.93L482.90 29.93L483.30 29.93L483.70 29.93L484.10 29.93L484.50 29.93L484.90 29.93L485.30 29.92L485.70 29.92L486.10 29.92L486.50 29.92L486.90 29.92L487.30 29.92L487.70 29.92L488.10 29.92L488.50 29.91L488.90 29.91L489.30 29.91L489.70 29.91L490.10 29.91L490.50 29.91L490.90 29.91L491.30 29.91L491.70 29.90L492.10 29.90L492.50 29.90L492.90 29.90L493.30 29.90L493.70 29.90L494.10 29.90L494.50 29.90L494.90 29.89L495.30 29.89L495.70 29.89L496.10 29.89L496.50 29.89L496.90 29.89L497.30 29.89L497.70 29.89L498.10 29.88L498.50 29.88L498.90 29.88L499.30 29.88L499.70 29.88L500.10 29.88L500.50 29.88L500.90 29.88L501.30 29.87L501.70 29.87L502.10 29.87L502.50 29.87L502.90 29.87L503.30 29.87L503.70 29.87L504.10 29.87L504.50 29.86L504.90 29.86L505.30 29.86L505.70 29.86L506.10 29.86L506.50 29.86L506.90 29.86L507.30 29.86L507.70 29.85L508.10 29.85L508.50 29.85L508.90 29.85L509.30 29.85L509.70 29.85L510.10 29.85L510.50 29.85L510.90 29.84L511.30 29.84L511.70 29.84L512.10 29.84L512.50 29.84L512.90 29.84L513.30 29.84L513.70 29.84L514.10 29.83L514.50 29.83L514.90 29.83L515.30 29.83L515.70 29.83L516.10 29.83L516.50 29.83L516.90 29.83L517.30 29.82L517.70 29.82L518.10 29.82L518.50 29.82L518.90 29.82L519.30 29.82L519.70 29.82L520.10 29.82L520.50 29.81L520.90 29.81L521.30 29.81L521.70 29.81L522.10 29.81L522.50 29.81L522.90 29.81L523.30 29.81L523.70 29.80L524.10 29.80L524.50 29.80L524.90 29.80L525.30 29.80L525.70 29.80L526.10 29.80L526.50 29.80L526.90 29.79L527.30 29.79L527.70 29.79L528.10 29.79L528.50 29.79L528.90 29.79L529.30 29.79L529.70 29.79L530.10 29.79L530.50 29.79L530.90 29.78L531.30 29.78L531.70 29.78L532.10 29.78L532.50 29.78L532.90 29.78L533.30 29.78L533.70 29.78L534.10 29.78L534.50 29.77L534.90 29.77L535.30 29.77L535.70 29.77L536.10 29.77L536.50 29.77L536.90 29.77L537.30 29.77L537.70 29.77L538.10 29.77L538.50 29.76L538.90 29.76L539.30 29.76L539.70 29.76L540.10 29.76L540.50 29.76L540.90 29.76L541.30 29.76L541.70 29.76L542.10 29.75L542.50 29.75L542.90 29.75L543.30 29.75L543.70 29.75L544.10 29.75L544.50 29.75L544.90 29.75L545.30 29.75L545.70 29.74L546.10 29.74L546.50 29.74L546.90 29.74L547.30 29.74L547.70 29.74L548.10 29.74L548.50 29.74L548.90 29.74L549.30 29.74L549.70 29.73L550.10 29.73L550.50 29.73L550.90 29.73L551.30 29.73L551.70 29.73L552.10 29.73L552.50 29.73L552.90 29.73L553.30 29.72L553.70 29.72L554.10 29.72L554.50 29.72L554.90 29.72L555.30 29.72L555.70 29.72L556.10 29.72L556.50 29.72L556.90 29.71L557.30 29.71L557.70 29.71L558.10 29.71L558.50 29.71L558.90 29.71L559.30 29.71L559.70 29.71L560.10 29.71L560.50 29.71L560.90 29.70L561.30 29.70L561.70 29.70L562.10 29.70L562.50 29.70L562.90 29.70L563.30 29.70L563.70 29.70L564.10 29.70L564.50 29.69L564.90 29.69L565.30 29.69L565.70 29.69L566.10 29.69L566.50 29.69L566.90 29.69L567.30 29.69L567.70 29.69L568.10 29.69L568.50 29.68L568.90 29.68L569.30 29.68L569.70 29.68L570.10 29.68L570.50 29.68L570.90 29.68L571.30 29.68L571.70 29.68L572.10 29.67L572.50 29.67L572.90 29.67L573.30 29.67L573.70 29.67L574.10 29.67L574.50 29.67L574.90 29.67L575.30 29.67L575.70 29.66L576.10 29.66L576.50 29.66L576.90 29.66L577.30 29.66L577.70 29.66L578.10 29.66L578.50 29.66L578.90 29.66L579.30 29.66L579.70 29.65L580.10 29.65L580.50 29.65L580.90 29.65L581.30 29.65L581.70 29.65L582.10 29.65L582.50 29.65L582.90 29.65L583.30 29.64L583.70 29.64L584.10 29.64L584.50 29.64L584.90 29.64L585.30 29.64L585.70 29.64L586.10 29.64L586.50 29.64L586.90 29.63L587.30 29.63L587.70 29.63L588.10 29.63L588.50 29.63L588.90 29.63L589.30 29.63L589.70 29.63L590.10 29.63L590.50 29.63L590.90 29.62L591.30 29.62L591.70 29.62L592.10 29.62L592.50 29.62L592.90 29.62L593.30 29.62L593.70 29.62L594.10 29.62L594.50 29.61L594.90 29.61L595.30 29.61L595.70 29.61L596.10 29.61L596.50 29.61L596.90 29.61L597.30 29.61L597.70 29.61L598.10 29.61L598.50 29.60L598.90 29.60L599.30 29.60L599.70 29.60L600.10 29.60L600.50 29.60L600.90 29.60L601.30 29.59L601.70 29.59L602.10 29.59L602.50 29.59L602.90 29.59L603.30 29.59L603.70 29.59L604.10 29.58L604.50 29.58L604.90 29.58L605.30 29.58L605.70 29.58L606.10 29.58L606.50 29.57L606.90 29.57L607.30 29.57L607.70 29.57L608.10 29.57L608.50 29.57L608.90 29.57L609.30 29.56L609.70 29.56L610.10 29.56L610.50 29.56L610.90 29.56L611.30 29.56L611.70 29.55L612.10 29.55L612.50 29.55L612.90 29.55L613.30 29.55L613.70 29.55L614.10 29.54L614.50 29.54L614.90 29.54L615.30 29.54L615.70 29.54L616.10 29.54L616.50 29.54L616.90 29.53L617.30 29.53L617.70 29.53L618.10 29.53L618.50 29.53L618.90 29.53L619.30 29.52L619.70 29.52L620.10 29.52L620.50 29.52L620.90 29.52L621.30 29.52L621.70 29.52L622.10 29.51L622.50 29.51L622.90 29.51L623.30 29.51L623.70 29.51L624.10 29.51L624.50 29.50L624.90 29.50L625.30 29.50L625.70 29.50L626.10 29.50L626.50 29.50L626.90 29.49L627.30 29.49L627.70 29.49L628.10 29.49L628.50 29.49L628.90 29.49L629.30 29.49L629.70 29.48L630.10 29.48L630.50 29.48L630.90 29.48L631.30 29.48L631.70 29.48L632.10 29.47L632.50 29.47L632.90 29.47L633.30 29.47L633.70 29.47L634.10 29.47L634.50 29.47L634.90 29.46L635.30 29.46L635.70 29.46L636.10 29.46L636.50 29.46L636.90 29.46L637.30 29.45L637.70 29.45L638.10 29.45L638.50 29.45L638.90 29.45L639.30 29.45L639.70 29.44L640.10 29.44L640.50 29.44L640.90 29.44L641.30 29.44L641.70 29.44L642.10 29.44L642.50 29.43L642.90 29.43L643.30 29.43L643.70 29.43L644.10 29.43L644.50 29.43L644.90 29.42L645.30 29.42L645.70 29.42L646.10 29.42L646.50 29.42L646.90 29.42L647.30 29.42L647.70 29.41L648.10 29.41L648.50 29.41L648.90 29.41L649.30 29.41L649.70 29.41L650.10 29.40L650.50 29.40L650.90 29.40L651.30 29.40L651.70 29.40L652.10 29.40L652.50 29.39L652.90 29.39L653.30 29.39L653.70 29.39L654.10 29.39L654.50 29.39L654.90 29.39L655.30 29.38L655.70 29.38L656.10 29.38L656.50 29.38L656.90 29.38L657.30 29.38L657.70 29.37L658.10 29.37L658.50 29.37L658.90 29.37L659.30 29.37L659.70 29.37L660.10 29.37L660.50 29.36L660.90 29.36L661.30 29.36L661.70 29.36L662.10 29.36L662.50 29.36L662.90 29.35L663.30 29.35L663.70 29.35L664.10 29.35L664.50 29.35L664.90 29.35L665.30 29.34L665.70 29.34L666.10 29.34L666.50 29.34L666.90 29.34L667.30 29.34L667.70 29.34L668.10 29.33L668.50 29.33L668.90 29.33L669.30 29.33L669.70 29.33L670.10 29.33L670.50 29.32L670.90 29.32L671.30 29.32L671.70 29.32L672.10 29.32L672.50 29.32L672.90 29.32L673.30 29.31L673.70 29.31L674.10 29.31L674.50 29.31L674.90 29.31L675.30 29.31L675.70 29.30L676.10 29.30L676.50 29.30"/>
<path d="M373.70 48.00L374.10 47.99L374.50 47.97L374.90 47.96L375.30 47.94L375.70 47.93L376.10 47.91L376.50 47.90L376.90 47.88L377.30 47.87L377.70 47.85L378.10 47.84L378.50 47.82L378.90 47.80L379.30 47.79L379.70 47.77L380.10 47.75L380.50 47.73L380.90 47.70L381.30 47.67L381.70 47.64L382.10 47.61L382.50 47.57L382.90 47.52L383.30 47.46L383.70 47.39L384.10 47.30L384.50 47.19L384.90 47.06L385.30 46.91L385.70 46.74L386.10 46.54L386.50 46.33L386.90 46.09L387.30 45.84L387.70 45.59L388.10 45.32L388.50 45.07L388.90 44.82L389.30 44.59L389.70 44.39L390.10 44.23L390.50 44.11L390.90 44.03L391.30 44.00L391.70 44.02L392.10 44.09L392.50 44.20L392.90 44.36L393.30 44.55L393.70 44.77L394.10 45.01L394.50 45.26L394.90 45.51L395.30 45.76L395.70 46.00L396.10 46.22L396.50 46.43L396.90 46.61L397.30 46.77L397.70 46.90L398.10 46.98L398.50 46.99L398.90 46.92L399.30 46.72L399.70 46.39L400.10 45.93L400.50 45.41L400.90 44.94L401.30 44.63L401.70 44.56L402.10 44.59L402.50 44.64L402.90 44.72L403.30 44.83L403.70 44.96L404.10 45.10L404.50 45.26L404.90 45.43L405.30 45.60L405.70 45.78L406.10 45.96L406.50 46.13L406.90 46.29L407.30 46.44L407.70 46.58L408.10 46.70L408.50 46.81L408.90 46.91L409.30 47.00L409.70 47.07L410.10 47.14L410.50 47.21L410.90 47.28L411.30 47.34L411.70 47.39L412.10 47.43L412.50 47.47L412.90 47.50L413.30 47.53L413.70 47.56L414.10 47.59L414.50 47.61L414.90 47.64L415.30 47.66L415.70 47.68L416.10 47.70L416.50 47.72L416.90 47.74L417.30 47.76L417.70 47.78L418.10 47.80L418.50 47.82L418.90 47.84L419.30 47.86L419.70 47.88L420.10 47.90L420.50 47.92L420.90 47.94L421.30 47.96L421.70 47.98L422.10 48.00L422.50 48.02L422.90 48.04L423.30 48.06L423.70 48.08L424.10 48.10L424.50 48.12L424.90 48.14L425.30 48.15L425.70 48.17L426.10 48.18L426.50 48.20L426.90 48.22L427.30 48.23L427.70 48.25L428.10 48.26L428.50 48.28L428.90 48.30L429.30 48.31L429.70 48.33L430.10 48.34L430.50 48.36L430.90 48.38L431.30 48.39L431.70 48.41L432.10 48.42L432.50 48.44L432.90 48.46L433.30 48.47L433.70 48.49L434.10 48.50L434.50 48.51L434.90 48.52L435.30 48.52L435.70 48.53L436.10 48.54L436.50 48.55L436.90 48.55L437.30 48.56L437.70 48.57L438.10 48.58L438.50 48.58L438.90 48.59L439.30 48.60L439.70 48.61L440.10 48.61L440.50 48.62L440.90 48.63L441.30 48.64L441.70 48.64L442.10 48.65L442.50 48.66L442.90 48.67L443.30 48.67L443.70 48.68L444.10 48.69L444.50 48.70L444.90 48.70L445.30 48.71L445.70 48.72L446.10 48.72L446.50 48.73L446.90 48.74L447.30 48.75L447.70 48.75L448.10 48.76L448.50 48.77L448.90 48.78L449.30 48.78L449.70 48.79L450.10 48.80L450.50 48.81L450.90 48.81L451.30 48.82L451.70 48.83L452.10 48.84L452.50 48.84L452.90 48.85L453.30 48.86L453.70 48.87L454.10 48.87L454.50 48.88L454.90 48.89L455.30 48.90L455.70 48.90L456.10 48.91L456.50 48.92L456.90 48.93L457.30 48.93L457.70 48.94L458.10 48.95L458.50 48.96L458.90 48.96L459.30 48.97L459.70 48.98L460.10 48.99L460.50 48.99L460.90 49.00L461.30 49.00L461.70 49.00L462.10 49.00L462.50 49.00L462.90 49.00L463.30 49.00L463.70 49.00L464.10 49.00L464.50 49.00L464.90 49.00L465.30 49.00L465.70 49.00L466.10 49.00L466.50 49.00L466.90 49.00L467.30 49.00L467.70 49.00L468.10 49.00L468.50 49.00L468.90 49.00L469.30 49.00L469.70 49.00L470.10 49.00L470.50 49.00L470.90 49.00L471.30 49.00L471.70 49.00L472.10 49.00L472.50 49.00L472.90 49.00L473.30 49.00L473.70 49.00L474.10 49.00L474.50 49.00L474.90 49.00L475.30 49.00L475.70 49.00L476.10 49.00L476.50 49.00L476.90 49.00L477.30 49.00L477.70 49.00L478.10 49.00L478.50 49.00L478.90 49.00L479.30 49.00L479.70 49.00L480.10 49.00L480.50 49.00L480.90 49.00L481.30 49.00L481.70 49.00L482.10 49.00L482.50 49.00L482.90 49.00L483.30 49.00L483.70 49.00L484.10 49.00L484.50 49.00L484.90 49.00L485.30 49.00L485.70 49.00L486.10 49.00L486.50 49.00L486.90 49.00L487.30 49.00L487.70 49.00L488.10 49.00L488.50 49.00L488.90 49.00L489.30 49.00L489.70 49.00L490.10 49.00L490.50 49.00L490.90 49.00L491.30 49.00L491.70 49.00L492.10 49.00L492.50 49.00L492.90 49.00L493.30 49.00L493.70 49.00L494.10 49.00L494.50 49.00L494.90 49.00L495.30 49.00L495.70 49.00L496.10 49.00L496.50 49.00L496.90 49.00L497.30 49.00L497.70 49.00L498.10 49.00L498.50 49.00L498.90 49.00L499.30 49.00L499.70 49.00L500.10 49.00L500.50 49.00L500.90 49.00L501.30 49.00L501.70 49.00L502.10 49.00L502.50 49.00L502.90 49.00L503.30 49.00L503.70 49.00L504.10 49.00L504.50 49.00L504.90 49.00L505.30 49.00L505.70 49.00L506.10 49.00L506.50 49.00L506.90 49.00L507.30 49.00L507.70 49.00L508.10 49.00L508.50 49.00L508.90 49.00L509.30 49.00L509.70 49.00L510.10 49.00L510.50 49.00L510.90 49.00L511.30 49.00L511.70 49.00L512.10 49.00L512.50 49.00L512.90 49.00L513.30 49.00L513.70 49.00L514.10 49.00L514.50 49.00L514.90 49.00L515.30 49.00L515.70 49.00L516.10 49.00L516.50 49.00L516.90 49.00L517.30 49.00L517.70 49.00L518.10 49.00L518.50 49.00L518.90 49.00L519.30 49.00L519.70 49.00L520.10 49.00L520.50 49.00L520.90 49.00L521.30 49.00L521.70 49.00L522.10 49.00L522.50 49.00L522.90 49.00L523.30 49.00L523.70 49.00L524.10 49.00L524.50 49.00L524.90 49.00L525.30 49.00L525.70 49.00L526.10 49.00L526.50 49.00L526.90 48.99L527.30 48.99L527.70 48.99L528.10 48.99L528.50 48.99L528.90 48.99L529.30 48.99L529.70 48.99L530.10 48.99L530.50 48.99L530.90 48.98L531.30 48.98L531.70 48.98L532.10 48.98L532.50 48.98L532.90 48.98L533.30 48.98L533.70 48.98L534.10 48.98L534.50 48.97L534.90 48.97L535.30 48.97L535.70 48.97L536.10 48.97L536.50 48.97L536.90 48.97L537.30 48.97L537.70 48.97L538.10 48.97L538.50 48.96L538.90 48.96L539.30 48.96L539.70 48.96L540.10 48.96L540.50 48.96L540.90 48.96L541.30 48.96L541.70 48.96L542.10 48.95L542.50 48.95L542.90 48.95L543.30 48.95L543.70 48.95L544.10 48.95L544.50 48.95L544.90 48.95L545.30 48.95L545.70 48.95L546.10 48.94L546.50 48.94L546.90 48.94L547.30 48.94L547.70 48.94L548.10 48.94L548.50 48.94L548.90 48.94L549.30 48.94L549.70 48.93L550.10 48.93L550.50 48.93L550.90 48.93L551.30 48.93L551.70 48.93L552.10 48.93L552.50 48.93L552.90 48.93L553.30 48.93L553.70 48.92L554.10 48.92L554.50 48.92L554.90 48.92L555.30 48.92L555.70 48.92L556.10 48.92L556.50 48.92L556.90 48.92L557.30 48.91L557.70 48.91L558.10 48.91L558.50 48.91L558.90 48.91L559.30 48.91L559.70 48.91L560.10 48.91L560.50 48.91L560.90 48.91L561.30 48.90L561.70 48.90L562.10 48.90L562.50 48.90L562.90 48.90L563.30 48.90L563.70 48.90L564.10 48.90L564.50 48.90L564.90 48.89L565.30 48.89L565.70 48.89L566.10 48.89L566.50 48.89L566.90 48.89L567.30 48.89L567.70 48.89L568.10 48.89L568.50 48.89L568.90 48.88L569.30 48.88L569.70 48.88L570.10 48.88L570.50 48.88L570.90 48.88L571.30 48.88L571.70 48.88L572.10 48.88L572.50 48.87L572.90 48.87L573.30 48.87L573.70 48.87L574.10 48.87L574.50 48.87L574.90 48.87L575.30 48.87L575.70 48.87L576.10 48.87L576.50 48.86L576.90 48.86L577.30 48.86L577.70 48.86L578.10 48.86L578.50 48.86L578.90 48.86L579.30 48.86L579.70 48.86L580.10 48.85L580.50 48.85L580.90 48.85L581.30 48.85L581.70 48.85L582.10 48.85L582.50 48.85L582.90 48.85L583.30 48.85L583.70 48.85L584.10 48.84L584.50 48.84L584.90 48.84L585.30 48.84L585.70 48.84L586.10 48.84L586.50 48.84L586.90 48.84L587.30 48.84L587.70 48.83L588.10 48.83L588.50 48.83L588.90 48.83L589.30 48.83L589.70 48.83L590.10 48.83L590.50 48.83L590.90 48.83L591.30 48.83L591.70 48.82L592.10 48.82L592.50 48.82L592.90 48.82L593.30 48.82L593.70 48.82L594.10 48.82L594.50 48.82L594.90 48.82L595.30 48.81L595.70 48.81L596.10 48.81L596.50 48.81L596.90 48.81L597.30 48.81L597.70 48.81L598.10 48.81L598.50 48.81L598.90 48.81L599.30 48.80L599.70 48.80L600.10 48.80L600.50 48.80L600.90 48.80L601.30 48.80L601.70 48.80L602.10 48.80L602.50 48.80L602.90 48.79L603.30 48.79L603.70 48.79L604.10 48.79L604.50 48.79L604.90 48.79L605.30 48.79L605.70 48.79L606.10 48.79L606.50 48.79L606.90 48.78L607.30 48.78L607.70 48.78L608.10 48.78L608.50 48.78L608.90 48.78L609.30 48.78L609.70 48.78L610.10 48.78L610.50 48.77L610.90 48.77L611.30 48.77L611.70 48.77L612.10 48.77L612.50 48.77L612.90 48.77L613.30 48.77L613.70 48.77L614.10 48.77L614.50 48.76L614.90 48.76L615.30 48.76L615.70 48.76L616.10 48.76L616.50 48.76L616.90 48.76L617.30 48.76L617.70 48.76L618.10 48.75L618.50 48.75L618.90 48.75L619.30 48.75L619.70 48.75L620.10 48.75L620.50 48.75L620.90 48.75L621.30 48.75L621.70 48.75L622.10 48.74L622.50 48.74L622.90 48.74L623.30 48.74L623.70 48.74L624.10 48.74L624.50 48.74L624.90 48.74L625.30 48.74L625.70 48.73L626.10 48.73L626.50 48.73L626.90 48.73L627.30 48.73L627.70 48.73L628.10 48.73L628.50 48.73L628.90 48.73L629.30 48.73L629.70 48.72L630.10 48.72L630.50 48.72L630.90 48.72L631.30 48.72L631.70 48.72L632.10 48.72L632.50 48.72L632.90 48.72L633.30 48.71L633.70 48.71L634.10 48.71L634.50 48.71L634.90 48.71L635.30 48.71L635.70 48.71L636.10 48.71L636.50 48.71L636.90 48.71L637.30 48.70L637.70 48.70L638.10 48.70L638.50 48.70L638.90 48.70L639.30 48.70L639.70 48.70L640.10 48.70L640.50 48.70L640.90 48.69L641.30 48.69L641.70 48.69L642.10 48.69L642.50 48.69L642.90 48.69L643.30 48.69L643.70 48.69L644.10 48.69L644.50 48.69L644.90 48.68L645.30 48.68L645.70 48.68L646.10 48.68L646.50 48.68L646.90 48.68L647.30 48.68L647.70 48.68L648.10 48.68L648.50 48.67L648.90 48.67L649.30 48.67L649.70 48.67L650.10 48.67L650.50 48.67L650.90 48.67L651.30 48.67L651.70 48.67L652.10 48.67L652.50 48.66L652.90 48.66L653.30 48.66L653.70 48.66L654.10 48.66L654.50 48.66L654.90 48.66L655.30 48.66L655.70 48.66L656.10 48.65L656.50 48.65L656.90 48.65L657.30 48.65L657.70 48.65L658.10 48.65L658.50 48.65L658.90 48.65L659.30 48.65L659.70 48.65L660.10 48.64L660.50 48.64L660.90 48.64L661.30 48.64L661.70 48.64L662.10 48.64L662.50 48.64L662.90 48.64L663.30 48.64L663.70 48.63L664.10 48.63L664.50 48.63L664.90 48.63L665.30 48.63L665.70 48.63L666.10 48.63L666.50 48.63L666.90 48.63L667.30 48.63L667.70 48.62L668.10 48.62L668.50 48.62L668.90 48.62L669.30 48.62L669.70 48.62L670.10 48.62L670.50 48.62L670.90 48.62L671.30 48.61L671.70 48.61L672.10 48.61L672.50 48.61L672.90 48.61L673.30 48.61L673.70 48.61L674.10 48.61L674.50 48.61L674.90 48.61L675.30 48.60L675.70 48.60L676.10 48.60L676.50 48.60"/>
<path d="M373.70 86.40L374.10 86.39L374.50 86.38L374.90 86.37L375.30 86.36L375.70 86.35L376.10 86.34L376.50 86.33L376.90 86.32L377.30 86.31L377.70 86.30L378.10 86.29L378.50 86.28L378.90 86.26L379.30 86.25L379.70 86.24L380.10 86.23L380.50 86.21L380.90 86.19L381.30 86.17L381.70 86.14L382.10 86.11L382.50 86.07L382.90 86.03L383.30 85.97L383.70 85.90L384.10 85.82L384.50 85.73L384.90 85.61L385.30 85.48L385.70 85.33L386.10 85.16L386.50 84.98L386.90 84.77L387.30 84.56L387.70 84.34L388.10 84.12L388.50 83.89L388.90 83.68L389.30 83.49L389.70 83.32L390.10 83.17L390.50 83.06L390.90 82.99L391.30 82.96L391.70 82.97L392.10 83.02L392.50 83.11L392.90 83.24L393.30 83.39L393.70 83.56L394.10 83.76L394.50 83.96L394.90 84.16L395.30 84.36L395.70 84.56L396.10 84.74L396.50 84.90L396.90 85.05L397.30 85.17L397.70 85.27L398.10 85.32L398.50 85.30L398.90 85.20L399.30 84.97L399.70 84.59L400.10 84.09L400.50 83.52L400.90 83.00L401.30 82.66L401.70 82.57L402.10 82.60L402.50 82.65L402.90 82.73L403.30 82.84L403.70 82.97L404.10 83.12L404.50 83.28L404.90 83.46L405.30 83.64L405.70 83.82L406.10 84.00L406.50 84.18L406.90 84.35L407.30 84.50L407.70 84.65L408.10 84.77L408.50 84.89L408.90 84.99L409.30 85.07L409.70 85.15L410.10 85.22L410.50 85.30L410.90 85.37L411.30 85.43L411.70 85.48L412.10 85.53L412.50 85.58L412.90 85.61L413.30 85.65L413.70 85.68L414.10 85.71L414.50 85.74L414.90 85.76L415.30 85.79L415.70 85.81L416.10 85.84L416.50 85.86L416.90 85.89L417.30 85.91L417.70 85.93L418.10 85.96L418.50 85.98L418.90 86.00L419.30 86.02L419.70 86.05L420.10 86.07L420.50 86.09L420.90 86.12L421.30 86.14L421.70 86.16L422.10 86.18L422.50 86.21L422.90 86.23L423.30 86.25L423.70 86.27L424.10 86.30L424.50 86.31L424.90 86.32L425.30 86.33L425.70 86.34L426.10 86.35L426.50 86.37L426.90 86.38L427.30 86.39L427.70 86.40L428.10 86.41L428.50 86.43L428.90 86.44L429.30 86.45L429.70 86.46L430.10 86.47L430.50 86.49L430.90 86.50L431.30 86.51L431.70 86.52L432.10 86.53L432.50 86.55L432.90 86.56L433.30 86.57L433.70 86.58L434.10 86.59L434.50 86.60L434.90 86.61L435.30 86.62L435.70 86.63L436.10 86.64L436.50 86.65L436.90 86.65L437.30 86.66L437.70 86.67L438.10 86.68L438.50 86.69L438.90 86.70L439.30 86.71L439.70 86.72L440.10 86.72L440.50 86.73L440.90 86.74L441.30 86.75L441.70 86.76L442.10 86.77L442.50 86.78L442.90 86.79L443.30 86.80L443.70 86.80L444.10 86.81L444.50 86.82L444.90 86.83L445.30 86.84L445.70 86.85L446.10 86.86L446.50 86.87L446.90 86.87L447.30 86.88L447.70 86.89L448.10 86.90L448.50 86.91L448.90 86.92L449.30 86.93L449.70 86.94L450.10 86.94L450.50 86.95L450.90 86.96L451.30 86.97L451.70 86.98L452.10 86.99L452.50 87.00L452.90 87.01L453.30 87.01L453.70 87.02L454.10 87.03L454.50 87.04L454.90 87.05L455.30 87.06L455.70 87.07L456.10 87.08L456.50 87.08L456.90 87.09L457.30 87.10L457.70 87.11L458.10 87.12L458.50 87.13L458.90 87.14L459.30 87.14L459.70 87.15L460.10 87.16L460.50 87.17L460.90 87.18L461.30 87.18L461.70 87.18L462.10 87.18L462.50 87.19L462.90 87.19L463.30 87.19L463.70 87.19L464.10 87.19L464.50 87.19L464.90 87.19L465.30 87.20L465.70 87.20L466.10 87.20L466.50 87.20L466.90 87.20L467.30 87.20L467.70 87.20L468.10 87.21L468.50 87.21L468.90 87.21L469.30 87.21L469.70 87.21L470.10 87.21L470.50 87.21L470.90 87.22L471.30 87.22L471.70 87.22L472.10 87.22L472.50 87.22L472.90 87.22L473.30 87.22L473.70 87.22L474.10 87.23L474.50 87.23L474.90 87.23L475.30 87.23L475.70 87.23L476.10 87.23L476.50 87.23L476.90 87.23L477.30 87.23L477.70 87.24L478.10 87.24L478.50 87.24L478.90 87.24L479.30 87.24L479.70 87.24L480.10 87.24L480.50 87.24L480.90 87.24L481.30 87.24L481.70 87.25L482.10 87.25L482.50 87.25L482.90 87.25L483.30 87.24L483.70 87.23L484.10 87.22L484.50 87.22L484.90 87.21L485.30 87.20L485.70 87.19L486.10 87.18L486.50 87.17L486.90 87.17L487.30 87.16L487.70 87.15L488.10 87.14L488.50 87.13L488.90 87.12L489.30 87.11L489.70 87.11L490.10 87.10L490.50 87.09L490.90 87.08L491.30 87.07L491.70 87.06L492.10 87.05L492.50 87.04L492.90 87.03L493.30 87.02L493.70 87.01L494.10 87.00L494.50 86.99L494.90 86.98L495.30 86.97L495.70 86.96L496.10 86.95L496.50 86.94L496.90 86.93L497.30 86.92L497.70 86.90L498.10 86.89L498.50 86.88L498.90 86.87L499.30 86.86L499.70 86.84L500.10 86.83L500.50 86.81L500.90 86.81L501.30 86.80L501.70 86.79L502.10 86.78L502.50 86.77L502.90 86.76L503.30 86.75L503.70 86.73L504.10 86.72L504.50 86.71L504.90 86.69L505.30 86.67L505.70 86.65L506.10 86.63L506.50 86.61L506.90 86.58L507.30 86.55L507.70 86.51L508.10 86.46L508.50 86.41L508.90 86.34L509.30 86.25L509.70 86.15L510.10 86.01L510.50 85.84L510.90 85.63L511.30 85.37L511.70 85.05L512.10 84.67L512.50 84.20L512.90 83.64L513.30 82.98L513.70 82.22L514.10 81.36L514.50 80.38L514.90 79.29L515.30 78.11L515.70 76.84L516.10 75.51L516.50 74.14L516.90 72.76L517.30 71.41L517.70 70.13L518.10 68.96L518.50 67.95L518.90 67.15L519.30 66.59L519.70 66.30L520.10 66.30L520.50 66.59L520.90 67.15L521.30 67.95L521.70 68.95L522.10 70.12L522.50 71.40L522.90 72.75L523.30 74.13L523.70 75.50L524.10 76.83L524.50 78.09L524.90 79.27L525.30 80.36L525.70 81.33L526.10 82.20L526.50 82.96L526.90 83.61L527.30 84.17L527.70 84.64L528.10 85.02L528.50 85.34L528.90 85.60L529.30 85.81L529.70 85.98L530.10 86.11L530.50 86.21L530.90 86.30L531.30 86.37L531.70 86.42L532.10 86.47L532.50 86.50L532.90 86.53L533.30 86.56L533.70 86.58L534.10 86.60L534.50 86.62L534.90 86.63L535.30 86.65L535.70 86.66L536.10 86.67L536.50 86.68L536.90 86.69L537.30 86.70L537.70 86.71L538.10 86.72L538.50 86.73L538.90 86.74L539.30 86.74L539.70 86.75L540.10 86.76L540.50 86.76L540.90 86.77L541.30 86.77L541.70 86.78L542.10 86.78L542.50 86.78L542.90 86.79L543.30 86.79L543.70 86.80L544.10 86.80L544.50 86.80L544.90 86.80L545.30 86.81L545.70 86.81L546.10 86.81L546.50 86.81L546.90 86.82L547.30 86.82L547.70 86.82L548.10 86.82L548.50 86.82L548.90 86.83L549.30 86.83L549.70 86.83L550.10 86.83L550.50 86.83L550.90 86.83L551.30 86.83L551.70 86.84L552.10 86.84L552.50 86.84L552.90 86.84L553.30 86.84L553.70 86.84L554.10 86.84L554.50 86.84L554.90 86.84L555.30 86.84L555.70 86.84L556.10 86.84L556.50 86.84L556.90 86.84L557.30 86.84L557.70 86.84L558.10 86.84L558.50 86.84L558.90 86.84L559.30 86.84L559.70 86.84L560.10 86.84L560.50 86.84L560.90 86.84L561.30 86.84L561.70 86.84L562.10 86.84L562.50 86.84L562.90 86.83L563.30 86.83L563.70 86.83L564.10 86.83L564.50 86.83L564.90 86.83L565.30 86.83L565.70 86.83L566.10 86.83L566.50 86.83L566.90 86.83L567.30 86.83L567.70 86.83L568.10 86.83L568.50 86.82L568.90 86.82L569.30 86.82L569.70 86.82L570.10 86.82L570.50 86.82L570.90 86.82L571.30 86.82L571.70 86.82L572.10 86.82L572.50 86.82L572.90 86.82L573.30 86.81L573.70 86.81L574.10 86.81L574.50 86.81L574.90 86.81L575.30 86.81L575.70 86.81L576.10 86.81L576.50 86.81L576.90 86.81L577.30 86.80L577.70 86.80L578.10 86.80L578.50 86.80L578.90 86.80L579.30 86.80L579.70 86.80L580.10 86.80L580.50 86.80L580.90 86.80L581.30 86.79L581.70 86.79L582.10 86.79L582.50 86.79L582.90 86.79L583.30 86.79L583.70 86.79L584.10 86.79L584.50 86.79L584.90 86.78L585.30 86.78L585.70 86.78L586.10 86.78L586.50 86.78L586.90 86.78L587.30 86.78L587.70 86.78L588.10 86.78L588.50 86.77L588.90 86.77L589.30 86.77L589.70 86.77L590.10 86.77L590.50 86.77L590.90 86.77L591.30 86.77L591.70 86.77L592.10 86.76L592.50 86.76L592.90 86.76L593.30 86.76L593.70 86.76L594.10 86.76L594.50 86.76L594.90 86.76L595.30 86.75L595.70 86.75L596.10 86.75L596.50 86.75L596.90 86.75L597.30 86.75L597.70 86.75L598.10 86.75L598.50 86.75L598.90 86.74L599.30 86.74L599.70 86.74L600.10 86.74L600.50 86.74L600.90 86.74L601.30 86.74L601.70 86.74L602.10 86.73L602.50 86.73L602.90 86.73L603.30 86.73L603.70 86.73L604.10 86.73L604.50 86.73L604.90 86.73L605.30 86.72L605.70 86.72L606.10 86.72L606.50 86.72L606.90 86.72L607.30 86.72L607.70 86.72L608.10 86.72L608.50 86.72L608.90 86.71L609.30 86.71L609.70 86.71L610.10 86.71L610.50 86.71L610.90 86.71L611.30 86.71L611.70 86.71L612.10 86.70L612.50 86.70L612.90 86.70L613.30 86.70L613.70 86.70L614.10 86.70L614.50 86.70L614.90 86.70L615.30 86.69L615.70 86.69L616.10 86.69L616.50 86.69L616.90 86.69L617.30 86.69L617.70 86.69L618.10 86.69L618.50 86.68L618.90 86.68L619.30 86.68L619.70 86.68L620.10 86.68L620.50 86.68L620.90 86.68L621.30 86.68L621.70 86.67L622.10 86.67L622.50 86.67L622.90 86.67L623.30 86.67L623.70 86.67L624.10 86.67L624.50 86.67L624.90 86.66L625.30 86.66L625.70 86.66L626.10 86.66L626.50 86.66L626.90 86.66L627.30 86.66L627.70 86.65L628.10 86.65L628.50 86.65L628.90 86.65L629.30 86.65L629.70 86.65L630.10 86.65L630.50 86.65L630.90 86.64L631.30 86.64L631.70 86.64L632.10 86.64L632.50 86.64L632.90 86.64L633.30 86.64L633.70 86.64L634.10 86.63L634.50 86.63L634.90 86.63L635.30 86.63L635.70 86.63L636.10 86.63L636.50 86.63L636.90 86.63L637.30 86.62L637.70 86.62L638.10 86.62L638.50 86.62L638.90 86.62L639.30 86.62L639.70 86.62L640.10 86.62L640.50 86.61L640.90 86.61L641.30 86.61L641.70 86.61L642.10 86.61L642.50 86.61L642.90 86.61L643.30 86.61L643.70 86.60L644.10 86.60L644.50 86.60L644.90 86.60L645.30 86.60L645.70 86.60L646.10 86.60L646.50 86.59L646.90 86.59L647.30 86.59L647.70 86.59L648.10 86.59L648.50 86.59L648.90 86.59L649.30 86.59L649.70 86.58L650.10 86.58L650.50 86.58L650.90 86.58L651.30 86.58L651.70 86.58L652.10 86.58L652.50 86.58L652.90 86.57L653.30 86.57L653.70 86.57L654.10 86.57L654.50 86.57L654.90 86.57L655.30 86.57L655.70 86.57L656.10 86.56L656.50 86.56L656.90 86.56L657.30 86.56L657.70 86.56L658.10 86.56L658.50 86.56L658.90 86.56L659.30 86.55L659.70 86.55L660.10 86.55L660.50 86.55L660.90 86.55L661.30 86.55L661.70 86.55L662.10 86.54L662.50 86.54L662.90 86.54L663.30 86.54L663.70 86.54L664.10 86.54L664.50 86.54L664.90 86.54L665.30 86.53L665.70 86.53L666.10 86.53L666.50 86.53L666.90 86.53L667.30 86.53L667.70 86.53L668.10 86.53L668.50 86.52L668.90 86.52L669.30 86.52L669.70 86.52L670.10 86.52L670.50 86.52L670.90 86.52L671.30 86.51L671.70 86.51L672.10 86.51L672.50 86.51L672.90 86.51L673.30 86.51L673.70 86.51L674.10 86.51L674.50 86.50L674.90 86.50L675.30 86.50L675.70 86.50L676.10 86.50L676.50 86.50"/>
<path d="M373.70 255.47L374.10 255.47L374.50 255.47L374.90 255.47L375.30 255.47L375.70 255.47L376.10 255.47L376.50 255.47L376.90 255.47L377.30 255.47L377.70 255.47L378.10 255.47L378.50 255.47L378.90 255.47L379.30 255.47L379.70 255.47L380.10 255.46L380.50 255.46L380.90 255.46L381.30 255.45L381.70 255.45L382.10 255.44L382.50 255.43L382.90 255.42L383.30 255.40L383.70 255.38L384.10 255.36L384.50 255.33L384.90 255.30L385.30 255.26L385.70 255.21L386.10 255.16L386.50 255.10L386.90 255.03L387.30 254.97L387.70 254.89L388.10 254.82L388.50 254.75L388.90 254.68L389.30 254.62L389.70 254.57L390.10 254.52L390.50 254.49L390.90 254.47L391.30 254.46L391.70 254.47L392.10 254.49L392.50 254.52L392.90 254.57L393.30 254.62L393.70 254.68L394.10 254.75L394.50 254.82L394.90 254.89L395.30 254.96L395.70 255.03L396.10 255.09L396.50 255.14L396.90 255.18L397.30 255.21L397.70 255.20L398.10 255.16L398.50 255.06L398.90 254.90L399.30 254.66L399.70 254.38L400.10 254.09L400.50 253.84L400.90 253.68L401.30 253.64L401.70 253.68L402.10 253.76L402.50 253.88L402.90 254.03L403.30 254.20L403.70 254.37L404.10 254.55L404.50 254.71L404.90 254.86L405.30 255.00L405.70 255.11L406.10 255.20L406.50 255.27L406.90 255.32L407.30 255.36L407.70 255.39L408.10 255.41L408.50 255.43L408.90 255.43L409.30 255.46L409.70 255.49L410.10 255.52L410.50 255.55L410.90 255.57L411.30 255.60L411.70 255.63L412.10 255.65L412.50 255.68L412.90 255.70L413.30 255.73L413.70 255.76L414.10 255.78L414.50 255.81L414.90 255.84L415.30 255.84L415.70 255.84L416.10 255.84L416.50 255.84L416.90 255.84L417.30 255.84L417.70 255.85L418.10 255.85L418.50 255.85L418.90 255.85L419.30 255.85L419.70 255.85L420.10 255.85L420.50 255.85L420.90 255.85L421.30 255.85L421.70 255.85L422.10 255.85L422.50 255.85L422.90 255.85L423.30 255.85L423.70 255.85L424.10 255.85L424.50 255.85L424.90 255.85L425.30 255.85L425.70 255.85L426.10 255.85L426.50 255.85L426.90 255.85L427.30 255.85L427.70 255.85L428.10 255.85L428.50 255.85L428.90 255.85L429.30 255.85L429.70 255.85L430.10 255.85L430.50 255.85L430.90 255.85L431.30 255.85L431.70 255.85L432.10 255.85L432.50 255.85L432.90 255.85L433.30 255.85L433.70 255.85L434.10 255.85L434.50 255.85L434.90 255.85L435.30 255.85L435.70 255.85L436.10 255.85L436.50 255.85L436.90 255.85L437.30 255.85L437.70 255.85L438.10 255.85L438.50 255.85L438.90 255.85L439.30 255.85L439.70 255.85L440.10 255.85L440.50 255.85L440.90 255.85L441.30 255.85L441.70 255.85L442.10 255.85L442.50 255.85L442.90 255.85L443.30 255.85L443.70 255.85L444.10 255.85L444.50 255.85L444.90 255.85L445.30 255.85L445.70 255.85L446.10 255.85L446.50 255.85L446.90 255.85L447.30 255.85L447.70 255.85L448.10 255.85L448.50 255.85L448.90 255.85L449.30 255.85L449.70 255.84L450.10 255.84L450.50 255.84L450.90 255.84L451.30 255.84L451.70 255.84L452.10 255.84L452.50 255.84L452.90 255.84L453.30 255.84L453.70 255.84L454.10 255.84L454.50 255.83L454.90 255.83L455.30 255.83L455.70 255.83L456.10 255.83L456.50 255.83L456.90 255.83L457.30 255.83L457.70 255.83L458.10 255.82L458.50 255.82L458.90 255.82L459.30 255.82L459.70 255.82L460.10 255.82L460.50 255.81L460.90 255.81L461.30 255.81L461.70 255.81L462.10 255.80L462.50 255.79L462.90 255.78L463.30 255.77L463.70 255.76L464.10 255.75L464.50 255.74L464.90 255.73L465.30 255.72L465.70 255.71L466.10 255.70L466.50 255.69L466.90 255.68L467.30 255.67L467.70 255.66L468.10 255.65L468.50 255.64L468.90 255.63L469.30 255.62L469.70 255.61L470.10 255.60L470.50 255.59L470.90 255.58L471.30 255.57L471.70 255.56L472.10 255.55L472.50 255.53L472.90 255.52L473.30 255.51L473.70 255.50L474.10 255.49L474.50 255.47L474.90 255.46L475.30 255.45L475.70 255.44L476.10 255.42L476.50 255.41L476.90 255.40L477.30 255.39L477.70 255.37L478.10 255.36L478.50 255.34L478.90 255.33L479.30 255.32L479.70 255.30L480.10 255.29L480.50 255.27L480.90 255.26L481.30 255.24L481.70 255.22L482.10 255.21L482.50 255.19L482.90 255.17L483.30 255.16L483.70 255.14L484.10 255.12L484.50 255.10L484.90 255.08L485.30 255.06L485.70 255.04L486.10 255.02L486.50 255.00L486.90 254.98L487.30 254.96L487.70 254.94L488.10 254.91L488.50 254.89L488.90 254.86L489.30 254.84L489.70 254.81L490.10 254.79L490.50 254.76L490.90 254.73L491.30 254.70L491.70 254.67L492.10 254.64L492.50 254.60L492.90 254.58L493.30 254.55L493.70 254.52L494.10 254.49L494.50 254.46L494.90 254.42L495.30 254.38L495.70 254.34L496.10 254.30L496.50 254.25L496.90 254.20L497.30 254.14L497.70 254.07L498.10 254.00L498.50 253.91L498.90 253.81L499.30 253.70L499.70 253.56L500.10 253.40L500.50 253.21L500.90 252.99L501.30 252.72L501.70 252.40L502.10 252.01L502.50 251.55L502.90 251.01L503.30 250.36L503.70 249.58L504.10 248.67L504.50 247.60L504.90 246.35L505.30 244.89L505.70 243.19L506.10 241.24L506.50 239.00L506.90 236.45L507.30 233.56L507.70 230.31L508.10 226.68L508.50 222.65L508.90 218.21L509.30 213.35L509.70 208.07L510.10 202.38L510.50 196.29L510.90 189.82L511.30 183.01L511.70 175.90L512.10 168.55L512.50 161.01L512.90 153.36L513.30 145.68L513.70 138.06L514.10 130.59L514.50 123.38L514.90 116.54L515.30 110.17L515.70 104.39L516.10 99.31L516.50 95.03L516.90 91.66L517.30 89.27L517.70 87.92L518.10 87.65L518.50 88.47L518.90 90.35L519.30 93.24L519.70 97.08L520.10 101.77L520.50 107.22L520.90 113.31L521.30 119.94L521.70 126.98L522.10 134.34L522.50 141.90L522.90 149.57L523.30 157.25L523.70 164.85L524.10 172.31L524.50 179.55L524.90 186.52L525.30 193.17L525.70 199.45L526.10 205.35L526.50 210.84L526.90 215.92L527.30 220.57L527.70 224.81L528.10 228.64L528.50 232.08L528.90 235.15L529.30 237.87L529.70 240.26L530.10 242.36L530.50 244.19L530.90 245.77L531.30 247.13L531.70 248.29L532.10 249.28L532.50 250.12L532.90 250.84L533.30 251.44L533.70 251.94L534.10 252.36L534.50 252.72L534.90 253.02L535.30 253.27L535.70 253.48L536.10 253.66L536.50 253.81L536.90 253.94L537.30 254.05L537.70 254.14L538.10 254.23L538.50 254.30L538.90 254.37L539.30 254.43L539.70 254.48L540.10 254.53L540.50 254.58L540.90 254.62L541.30 254.66L541.70 254.70L542.10 254.73L542.50 254.77L542.90 254.80L543.30 254.83L543.70 254.86L544.10 254.89L544.50 254.91L544.90 254.94L545.30 254.96L545.70 254.99L546.10 255.01L546.50 255.03L546.90 255.05L547.30 255.07L547.70 255.09L548.10 255.11L548.50 255.13L548.90 255.15L549.30 255.16L549.70 255.18L550.10 255.20L550.50 255.21L550.90 255.23L551.30 255.24L551.70 255.26L552.10 255.27L552.50 255.28L552.90 255.30L553.30 255.31L553.70 255.32L554.10 255.33L554.50 255.35L554.90 255.36L555.30 255.37L555.70 255.38L556.10 255.39L556.50 255.40L556.90 255.40L557.30 255.41L557.70 255.42L558.10 255.43L558.50 255.43L558.90 255.44L559.30 255.45L559.70 255.46L560.10 255.46L560.50 255.47L560.90 255.47L561.30 255.48L561.70 255.49L562.10 255.49L562.50 255.50L562.90 255.50L563.30 255.51L563.70 255.51L564.10 255.52L564.50 255.52L564.90 255.53L565.30 255.53L565.70 255.54L566.10 255.54L566.50 255.54L566.90 255.55L567.30 255.55L567.70 255.56L568.10 255.56L568.50 255.56L568.90 255.57L569.30 255.57L569.70 255.57L570.10 255.58L570.50 255.58L570.90 255.58L571.30 255.59L571.70 255.59L572.10 255.59L572.50 255.60L572.90 255.60L573.30 255.60L573.70 255.61L574.10 255.61L574.50 255.61L574.90 255.61L575.30 255.62L575.70 255.62L576.10 255.62L576.50 255.62L576.90 255.63L577.30 255.63L577.70 255.63L578.10 255.63L578.50 255.63L578.90 255.64L579.30 255.64L579.70 255.64L580.10 255.64L580.50 255.65L580.90 255.65L581.30 255.65L581.70 255.65L582.10 255.65L582.50 255.65L582.90 255.66L583.30 255.66L583.70 255.66L584.10 255.66L584.50 255.66L584.90 255.66L585.30 255.67L585.70 255.67L586.10 255.67L586.50 255.67L586.90 255.67L587.30 255.67L587.70 255.68L588.10 255.68L588.50 255.68L588.90 255.68L589.30 255.68L589.70 255.68L590.10 255.68L590.50 255.68L590.90 255.69L591.30 255.69L591.70 255.69L592.10 255.69L592.50 255.69L592.90 255.69L593.30 255.69L593.70 255.69L594.10 255.70L594.50 255.70L594.90 255.70L595.30 255.70L595.70 255.70L596.10 255.70L596.50 255.70L596.90 255.70L597.30 255.70L597.70 255.70L598.10 255.71L598.50 255.71L598.90 255.71L599.30 255.71L599.70 255.71L600.10 255.71L600.50 255.71L600.90 255.71L601.30 255.71L601.70 255.71L602.10 255.71L602.50 255.71L602.90 255.72L603.30 255.72L603.70 255.72L604.10 255.72L604.50 255.72L604.90 255.72L605.30 255.72L605.70 255.72L606.10 255.72L606.50 255.72L606.90 255.72L607.30 255.72L607.70 255.72L608.10 255.73L608.50 255.73L608.90 255.73L609.30 255.73L609.70 255.73L610.10 255.73L610.50 255.73L610.90 255.73L611.30 255.73L611.70 255.73L612.10 255.73L612.50 255.73L612.90 255.73L613.30 255.73L613.70 255.73L614.10 255.73L614.50 255.73L614.90 255.74L615.30 255.74L615.70 255.74L616.10 255.74L616.50 255.74L616.90 255.74L617.30 255.74L617.70 255.74L618.10 255.74L618.50 255.74L618.90 255.74L619.30 255.74L619.70 255.74L620.10 255.74L620.50 255.74L620.90 255.74L621.30 255.74L621.70 255.74L622.10 255.74L622.50 255.74L622.90 255.74L623.30 255.75L623.70 255.75L624.10 255.75L624.50 255.75L624.90 255.75L625.30 255.75L625.70 255.75L626.10 255.75L626.50 255.75L626.90 255.75L627.30 255.75L627.70 255.75L628.10 255.75L628.50 255.75L628.90 255.75L629.30 255.75L629.70 255.75L630.10 255.75L630.50 255.75L630.90 255.75L631.30 255.75L631.70 255.75L632.10 255.75L632.50 255.75L632.90 255.75L633.30 255.75L633.70 255.75L634.10 255.75L634.50 255.76L634.90 255.76L635.30 255.76L635.70 255.76L636.10 255.76L636.50 255.76L636.90 255.76L637.30 255.76L637.70 255.76L638.10 255.76L638.50 255.76L638.90 255.76L639.30 255.76L639.70 255.76L640.10 255.76L640.50 255.76L640.90 255.76L641.30 255.76L641.70 255.76L642.10 255.76L642.50 255.76L642.90 255.76L643.30 255.76L643.70 255.76L644.10 255.76L644.50 255.76L644.90 255.76L645.30 255.76L645.70 255.76L646.10 255.76L646.50 255.76L646.90 255.76L647.30 255.76L647.70 255.76L648.10 255.76L648.50 255.76L648.90 255.76L649.30 255.76L649.70 255.76L650.10 255.77L650.50 255.77L650.90 255.77L651.30 255.77L651.70 255.77L652.10 255.77L652.50 255.77L652.90 255.77L653.30 255.77L653.70 255.77L654.10 255.77L654.50 255.77L654.90 255.77L655.30 255.77L655.70 255.77L656.10 255.77L656.50 255.77L656.90 255.77L657.30 255.77L657.70 255.77L658.10 255.77L658.50 255.77L658.90 255.77L659.30 255.77L659.70 255.77L660.10 255.77L660.50 255.77L660.90 255.77L661.30 255.77L661.70 255.77L662.10 255.77L662.50 255.77L662.90 255.77L663.30 255.77L663.70 255.77L664.10 255.77L664.50 255.77L664.90 255.77L665.30 255.77L665.70 255.77L666.10 255.77L666.50 255.77L666.90 255.77L667.30 255.77L667.70 255.77L668.10 255.77L668.50 255.77L668.90 255.77L669.30 255.77L669.70 255.77L670.10 255.77L670.50 255.77L670.90 255.77L671.30 255.77L671.70 255.77L672.10 255.77L672.50 255.77L672.90 255.77L673.30 255.77L673.70 255.77L674.10 255.78L674.50 255.78L674.90 255.78L675.30 255.78L675.70 255.78L676.10 255.78L676.50 255.78"/>
<path d="M373.70 419.24L374.10 419.24L374.50 419.24L374.90 419.24L375.30 419.24L375.70 419.24L376.10 419.24L376.50 419.24L376.90 419.24L377.30 419.24L377.70 419.24L378.10 419.24L378.50 419.24L378.90 419.24L379.30 419.24L379.70 419.24L380.10 419.24L380.50 419.24L380.90 419.24L381.30 419.24L381.70 419.24L382.10 419.24L382.50 419.23L382.90 419.23L383.30 419.23L383.70 419.23L384.10 419.23L384.50 419.23L384.90 419.23L385.30 419.23L385.70 419.23L386.10 419.23L386.50 419.23L386.90 419.23L387.30 419.23L387.70 419.23L388.10 419.23L388.50 419.23L388.90 419.23L389.30 419.23L389.70 419.23L390.10 419.23L390.50 419.23L390.90 419.23L391.30 419.23L391.70 419.23L392.10 419.23L392.50 419.23L392.90 419.24L393.30 419.24L393.70 419.24L394.10 419.24L394.50 419.24L394.90 419.24L395.30 419.23L395.70 419.22L396.10 419.19L396.50 419.13L396.90 419.04L397.30 418.91L397.70 418.72L398.10 418.47L398.50 418.16L398.90 417.80L399.30 417.42L399.70 417.05L400.10 416.75L400.50 416.55L400.90 416.48L401.30 416.52L401.70 416.63L402.10 416.80L402.50 417.02L402.90 417.27L403.30 417.55L403.70 417.82L404.10 418.09L404.50 418.33L404.90 418.55L405.30 418.76L405.70 418.95L406.10 419.11L406.50 419.24L406.90 419.34L407.30 419.43L407.70 419.51L408.10 419.57L408.50 419.63L408.90 419.67L409.30 419.72L409.70 419.76L410.10 419.80L410.50 419.84L410.90 419.88L411.30 419.92L411.70 419.96L412.10 420.00L412.50 420.04L412.90 420.08L413.30 420.09L413.70 420.09L414.10 420.09L414.50 420.09L414.90 420.10L415.30 420.10L415.70 420.10L416.10 420.10L416.50 420.10L416.90 420.10L417.30 420.10L417.70 420.10L418.10 420.10L418.50 420.10L418.90 420.10L419.30 420.10L419.70 420.10L420.10 420.10L420.50 420.10L420.90 420.11L421.30 420.11L421.70 420.11L422.10 420.11L422.50 420.11L422.90 420.11L423.30 420.11L423.70 420.11L424.10 420.11L424.50 420.11L424.90 420.11L425.30 420.11L425.70 420.11L426.10 420.11L426.50 420.11L426.90 420.11L427.30 420.11L427.70 420.11L428.10 420.11L428.50 420.11L428.90 420.11L429.30 420.11L429.70 420.12L430.10 420.12L430.50 420.12L430.90 420.12L431.30 420.12L431.70 420.12L432.10 420.12L432.50 420.12L432.90 420.12L433.30 420.12L433.70 420.12L434.10 420.12L434.50 420.12L434.90 420.12L435.30 420.12L435.70 420.12L436.10 420.12L436.50 420.12L436.90 420.12L437.30 420.12L437.70 420.12L438.10 420.12L438.50 420.12L438.90 420.12L439.30 420.11L439.70 420.11L440.10 420.11L440.50 420.11L440.90 420.11L441.30 420.11L441.70 420.11L442.10 420.11L442.50 420.11L442.90 420.11L443.30 420.11L443.70 420.11L444.10 420.11L444.50 420.11L444.90 420.11L445.30 420.11L445.70 420.11L446.10 420.10L446.50 420.10L446.90 420.10L447.30 420.10L447.70 420.10L448.10 420.10L448.50 420.10L448.90 420.10L449.30 420.10L449.70 420.09L450.10 420.09L450.50 420.09L450.90 420.09L451.30 420.09L451.70 420.09L452.10 420.09L452.50 420.08L452.90 420.08L453.30 420.08L453.70 420.08L454.10 420.08L454.50 420.07L454.90 420.07L455.30 420.07L455.70 420.07L456.10 420.06L456.50 420.06L456.90 420.06L457.30 420.06L457.70 420.05L458.10 420.05L458.50 420.05L458.90 420.05L459.30 420.04L459.70 420.04L460.10 420.04L460.50 420.03L460.90 420.03L461.30 420.03L461.70 420.02L462.10 420.01L462.50 420.00L462.90 419.99L463.30 419.98L463.70 419.97L464.10 419.96L464.50 419.95L464.90 419.94L465.30 419.93L465.70 419.92L466.10 419.91L466.50 419.90L466.90 419.89L467.30 419.88L467.70 419.87L468.10 419.86L468.50 419.84L468.90 419.83L469.30 419.82L469.70 419.81L470.10 419.80L470.50 419.78L470.90 419.77L471.30 419.76L471.70 419.74L472.10 419.73L472.50 419.72L472.90 419.70L473.30 419.69L473.70 419.67L474.10 419.66L474.50 419.64L474.90 419.63L475.30 419.61L475.70 419.59L476.10 419.58L476.50 419.56L476.90 419.54L477.30 419.53L477.70 419.51L478.10 419.49L478.50 419.47L478.90 419.45L479.30 419.43L479.70 419.41L480.10 419.39L480.50 419.37L480.90 419.34L481.30 419.32L481.70 419.30L482.10 419.27L482.50 419.25L482.90 419.22L483.30 419.20L483.70 419.17L484.10 419.14L484.50 419.11L484.90 419.08L485.30 419.05L485.70 419.02L486.10 418.99L486.50 418.96L486.90 418.92L487.30 418.88L487.70 418.85L488.10 418.81L488.50 418.77L488.90 418.73L489.30 418.69L489.70 418.64L490.10 418.59L490.50 418.55L490.90 418.50L491.30 418.44L491.70 418.39L492.10 418.33L492.50 418.27L492.90 418.21L493.30 418.15L493.70 418.09L494.10 418.02L494.50 417.95L494.90 417.87L495.30 417.79L495.70 417.71L496.10 417.62L496.50 417.53L496.90 417.44L497.30 417.33L497.70 417.23L498.10 417.11L498.50 416.99L498.90 416.86L499.30 416.73L499.70 416.58L500.10 416.43L500.50 416.26L500.90 416.08L501.30 415.88L501.70 415.67L502.10 415.43L502.50 415.17L502.90 414.88L503.30 414.54L503.70 414.15L504.10 413.70L504.50 413.17L504.90 412.53L505.30 411.77L505.70 410.84L506.10 409.71L506.50 408.33L506.90 406.65L507.30 404.59L507.70 402.10L508.10 399.10L508.50 395.49L508.90 391.19L509.30 386.12L509.70 380.18L510.10 373.29L510.50 365.40L510.90 356.45L511.30 346.41L511.70 335.30L512.10 323.15L512.50 310.04L512.90 296.10L513.30 281.49L513.70 266.43L514.10 251.18L514.50 236.04L514.90 221.37L515.30 207.55L515.70 194.99L516.10 184.11L516.50 175.31L516.90 168.95L517.30 165.32L517.70 164.58L518.10 166.77L518.50 171.79L518.90 179.41L519.30 189.30L519.70 201.07L520.10 214.31L520.50 228.60L520.90 243.54L521.30 258.78L521.70 273.96L522.10 288.83L522.50 303.12L522.90 316.66L523.30 329.30L523.70 340.94L524.10 351.51L524.50 361.00L524.90 369.41L525.30 376.79L525.70 383.19L526.10 388.68L526.50 393.36L526.90 397.29L527.30 400.59L527.70 403.32L528.10 405.58L528.50 407.43L528.90 408.95L529.30 410.20L529.70 411.22L530.10 412.06L530.50 412.75L530.90 413.33L531.30 413.82L531.70 414.23L532.10 414.59L532.50 414.90L532.90 415.17L533.30 415.42L533.70 415.64L534.10 415.84L534.50 416.02L534.90 416.19L535.30 416.35L535.70 416.49L536.10 416.63L536.50 416.76L536.90 416.88L537.30 417.00L537.70 417.10L538.10 417.20L538.50 417.30L538.90 417.39L539.30 417.48L539.70 417.56L540.10 417.63L540.50 417.71L540.90 417.78L541.30 417.84L541.70 417.91L542.10 417.97L542.50 418.02L542.90 418.08L543.30 418.13L543.70 418.18L544.10 418.23L544.50 418.27L544.90 418.32L545.30 418.36L545.70 418.40L546.10 418.44L546.50 418.47L546.90 418.51L547.30 418.54L547.70 418.57L548.10 418.60L548.50 418.63L548.90 418.66L549.30 418.69L549.70 418.72L550.10 418.74L550.50 418.77L550.90 418.79L551.30 418.81L551.70 418.83L552.10 418.85L552.50 418.88L552.90 418.89L553.30 418.91L553.70 418.93L554.10 418.95L554.50 418.97L554.90 418.98L555.30 419.00L555.70 419.01L556.10 419.03L556.50 419.04L556.90 419.06L557.30 419.07L557.70 419.08L558.10 419.09L558.50 419.11L558.90 419.12L559.30 419.13L559.70 419.14L560.10 419.15L560.50 419.16L560.90 419.17L561.30 419.18L561.70 419.20L562.10 419.21L562.50 419.22L562.90 419.23L563.30 419.24L563.70 419.25L564.10 419.26L564.50 419.26L564.90 419.27L565.30 419.28L565.70 419.29L566.10 419.30L566.50 419.31L566.90 419.31L567.30 419.32L567.70 419.33L568.10 419.34L568.50 419.34L568.90 419.35L569.30 419.36L569.70 419.37L570.10 419.37L570.50 419.38L570.90 419.38L571.30 419.39L571.70 419.40L572.10 419.40L572.50 419.41L572.90 419.41L573.30 419.42L573.70 419.42L574.10 419.43L574.50 419.44L574.90 419.44L575.30 419.45L575.70 419.45L576.10 419.45L576.50 419.46L576.90 419.46L577.30 419.47L577.70 419.47L578.10 419.48L578.50 419.48L578.90 419.49L579.30 419.49L579.70 419.49L580.10 419.50L580.50 419.50L580.90 419.50L581.30 419.51L581.70 419.51L582.10 419.52L582.50 419.52L582.90 419.52L583.30 419.53L583.70 419.53L584.10 419.53L584.50 419.54L584.90 419.54L585.30 419.54L585.70 419.54L586.10 419.55L586.50 419.55L586.90 419.55L587.30 419.56L587.70 419.56L588.10 419.56L588.50 419.56L588.90 419.57L589.30 419.57L589.70 419.57L590.10 419.57L590.50 419.58L590.90 419.58L591.30 419.58L591.70 419.58L592.10 419.59L592.50 419.59L592.90 419.59L593.30 419.59L593.70 419.60L594.10 419.60L594.50 419.60L594.90 419.60L595.30 419.60L595.70 419.61L596.10 419.61L596.50 419.61L596.90 419.61L597.30 419.61L597.70 419.62L598.10 419.62L598.50 419.62L598.90 419.62L599.30 419.62L599.70 419.62L600.10 419.63L600.50 419.63L600.90 419.63L601.30 419.63L601.70 419.63L602.10 419.63L602.50 419.64L602.90 419.64L603.30 419.64L603.70 419.64L604.10 419.64L604.50 419.64L604.90 419.64L605.30 419.65L605.70 419.65L606.10 419.65L606.50 419.65L606.90 419.65L607.30 419.65L607.70 419.65L608.10 419.66L608.50 419.66L608.90 419.66L609.30 419.66L609.70 419.66L610.10 419.66L610.50 419.66L610.90 419.66L611.30 419.66L611.70 419.67L612.10 419.67L612.50 419.67L612.90 419.67L613.30 419.67L613.70 419.67L614.10 419.67L614.50 419.67L614.90 419.67L615.30 419.68L615.70 419.68L616.10 419.68L616.50 419.68L616.90 419.68L617.30 419.68L617.70 419.68L618.10 419.68L618.50 419.68L618.90 419.68L619.30 419.69L619.70 419.69L620.10 419.69L620.50 419.69L620.90 419.69L621.30 419.69L621.70 419.69L622.10 419.69L622.50 419.69L622.90 419.69L623.30 419.69L623.70 419.69L624.10 419.70L624.50 419.70L624.90 419.70L625.30 419.70L625.70 419.70L626.10 419.70L626.50 419.70L626.90 419.70L627.30 419.70L627.70 419.70L628.10 419.70L628.50 419.70L628.90 419.70L629.30 419.70L629.70 419.71L630.10 419.71L630.50 419.71L630.90 419.71L631.30 419.71L631.70 419.71L632.10 419.71L632.50 419.71L632.90 419.71L633.30 419.71L633.70 419.71L634.10 419.71L634.50 419.71L634.90 419.71L635.30 419.71L635.70 419.71L636.10 419.72L636.50 419.72L636.90 419.72L637.30 419.72L637.70 419.72L638.10 419.72L638.50 419.72L638.90 419.72L639.30 419.72L639.70 419.72L640.10 419.72L640.50 419.72L640.90 419.72L641.30 419.72L641.70 419.72L642.10 419.72L642.50 419.72L642.90 419.72L643.30 419.72L643.70 419.73L644.10 419.73L644.50 419.73L644.90 419.73L645.30 419.73L645.70 419.73L646.10 419.73L646.50 419.73L646.90 419.73L647.30 419.73L647.70 419.73L648.10 419.73L648.50 419.73L648.90 419.73L649.30 419.73L649.70 419.73L650.10 419.73L650.50 419.73L650.90 419.73L651.30 419.73L651.70 419.73L652.10 419.73L652.50 419.73L652.90 419.74L653.30 419.74L653.70 419.74L654.10 419.74L654.50 419.74L654.90 419.74L655.30 419.74L655.70 419.74L656.10 419.74L656.50 419.74L656.90 419.74L657.30 419.74L657.70 419.74L658.10 419.74L658.50 419.74L658.90 419.74L659.30 419.74L659.70 419.74L660.10 419.74L660.50 419.74L660.90 419.74L661.30 419.74L661.70 419.74L662.10 419.74L662.50 419.74L662.90 419.74L663.30 419.74L663.70 419.74L664.10 419.74L664.50 419.74L664.90 419.75L665.30 419.75L665.70 419.75L666.10 419.75L666.50 419.75L666.90 419.75L667.30 419.75L667.70 419.75L668.10 419.75L668.50 419.75L668.90 419.75L669.30 419.75L669.70 419.75L670.10 419.75L670.50 419.75L670.90 419.75L671.30 419.75L671.70 419.75L672.10 419.75L672.50 419.75L672.90 419.75L673.30 419.75L673.70 419.75L674.10 419.75L674.50 419.75L674.90 419.75L675.30 419.75L675.70 419.75L676.10 419.75L676.50 419.75"/>
<path d="M373.70 442.70L374.10 442.70L374.50 442.70L374.90 442.70L375.30 442.70L375.70 442.70L376.10 442.70L376.50 442.70L376.90 442.70L377.30 442.70L377.70 442.70L378.10 442.70L378.50 442.70L378.90 442.70L379.30 442.70L379.70 442.70L380.10 442.70L380.50 442.70L380.90 442.70L381.30 442.70L381.70 442.70L382.10 442.70L382.50 442.70L382.90 442.70L383.30 442.70L383.70 442.70L384.10 442.70L384.50 442.70L384.90 442.70L385.30 442.70L385.70 442.70L386.10 442.70L386.50 442.70L386.90 442.70L387.30 442.70L387.70 442.70L388.10 442.70L388.50 442.70L388.90 442.70L389.30 442.70L389.70 442.70L390.10 442.70L390.50 442.70L390.90 442.70L391.30 442.70L391.70 442.70L392.10 442.70L392.50 442.70L392.90 442.70L393.30 442.70L393.70 442.70L394.10 442.73L394.50 442.83L394.90 442.94L395.30 443.04L395.70 443.15L396.10 443.26L396.50 443.36L396.90 443.47L397.30 443.57L397.70 443.52L398.10 443.42L398.50 443.32L398.90 443.21L399.30 443.11L399.70 443.01L400.10 442.91L400.50 442.80L400.90 442.70L401.30 442.72L401.70 442.75L402.10 442.77L402.50 442.79L402.90 442.82L403.30 442.84L403.70 442.86L404.10 442.88L404.50 442.91L404.90 442.93L405.30 442.95L405.70 442.98L406.10 443.00L406.50 443.02L406.90 443.05L407.30 443.07L407.70 443.09L408.10 443.11L408.50 443.14L408.90 443.16L409.30 443.18L409.70 443.21L410.10 443.23L410.50 443.25L410.90 443.28L411.30 443.30L411.70 443.32L412.10 443.34L412.50 443.37L412.90 443.39L413.30 443.41L413.70 443.44L414.10 443.46L414.50 443.48L414.90 443.50L415.30 443.49L415.70 443.49L416.10 443.48L416.50 443.47L416.90 443.47L417.30 443.46L417.70 443.45L418.10 443.45L418.50 443.44L418.90 443.44L419.30 443.43L419.70 443.42L420.10 443.42L420.50 443.41L420.90 443.40L421.30 443.40L421.70 443.39L422.10 443.39L422.50 443.38L422.90 443.37L423.30 443.37L423.70 443.36L424.10 443.35L424.50 443.35L424.90 443.34L425.30 443.34L425.70 443.33L426.10 443.32L426.50 443.32L426.90 443.31L427.30 443.30L427.70 443.30L428.10 443.29L428.50 443.29L428.90 443.28L429.30 443.27L429.70 443.27L430.10 443.26L430.50 443.25L430.90 443.25L431.30 443.24L431.70 443.24L432.10 443.23L432.50 443.22L432.90 443.22L433.30 443.21L433.70 443.20L434.10 443.20L434.50 443.20L434.90 443.20L435.30 443.20L435.70 443.20L436.10 443.20L436.50 443.20L436.90 443.20L437.30 443.20L437.70 443.20L438.10 443.19L438.50 443.19L438.90 443.19L439.30 443.19L439.70 443.19L440.10 443.19L440.50 443.19L440.90 443.19L441.30 443.19L441.70 443.19L442.10 443.19L442.50 443.19L442.90 443.19L443.30 443.19L443.70 443.19L444.10 443.19L444.50 443.19L444.90 443.19L445.30 443.19L445.70 443.19L446.10 443.19L446.50 443.18L446.90 443.18L447.30 443.18L447.70 443.18L448.10 443.18L448.50 443.18L448.90 443.18L449.30 443.18L449.70 443.18L450.10 443.18L450.50 443.18L450.90 443.18L451.30 443.18L451.70 443.18L452.10 443.18L452.50 443.18L452.90 443.18L453.30 443.18L453.70 443.18L454.10 443.18L454.50 443.17L454.90 443.17L455.30 443.17L455.70 443.17L456.10 443.17L456.50 443.17L456.90 443.17L457.30 443.17L457.70 443.17L458.10 443.17L458.50 443.17L458.90 443.17L459.30 443.17L459.70 443.17L460.10 443.17L460.50 443.17L460.90 443.17L461.30 443.17L461.70 443.17L462.10 443.17L462.50 443.16L462.90 443.16L463.30 443.16L463.70 443.16L464.10 443.16L464.50 443.16L464.90 443.16L465.30 443.16L465.70 443.16L466.10 443.16L466.50 443.16L466.90 443.16L467.30 443.16L467.70 443.16L468.10 443.16L468.50 443.16L468.90 443.16L469.30 443.16L469.70 443.16L470.10 443.16L470.50 443.15L470.90 443.15L471.30 443.15L471.70 443.15L472.10 443.15L472.50 443.15L472.90 443.15L473.30 443.15L473.70 443.15L474.10 443.15L474.50 443.15L474.90 443.15L475.30 443.15L475.70 443.15L476.10 443.15L476.50 443.15L476.90 443.15L477.30 443.15L477.70 443.15L478.10 443.15L478.50 443.15L478.90 443.14L479.30 443.14L479.70 443.14L480.10 443.14L480.50 443.14L480.90 443.14L481.30 443.14L481.70 443.14L482.10 443.14L482.50 443.14L482.90 443.14L483.30 443.14L483.70 443.14L484.10 443.14L484.50 443.14L484.90 443.14L485.30 443.14L485.70 443.14L486.10 443.14L486.50 443.14L486.90 443.13L487.30 443.13L487.70 443.13L488.10 443.13L488.50 443.13L488.90 443.13L489.30 443.13L489.70 443.13L490.10 443.13L490.50 443.13L490.90 443.13L491.30 443.13L491.70 443.13L492.10 443.13L492.50 443.13L492.90 443.13L493.30 443.13L493.70 443.13L494.10 443.13L494.50 443.13L494.90 443.12L495.30 443.12L495.70 443.12L496.10 443.12L496.50 443.12L496.90 443.12L497.30 443.12L497.70 443.12L498.10 443.12L498.50 443.12L498.90 443.12L499.30 443.12L499.70 443.12L500.10 443.12L500.50 443.12L500.90 443.12L501.30 443.12L501.70 443.12L502.10 443.12L502.50 443.12L502.90 443.11L503.30 443.11L503.70 443.11L504.10 443.11L504.50 443.11L504.90 443.11L505.30 443.11L505.70 443.11L506.10 443.11L506.50 443.11L506.90 443.11L507.30 443.11L507.70 443.11L508.10 443.11L508.50 443.11L508.90 443.11L509.30 443.11L509.70 443.11L510.10 443.11L510.50 443.11L510.90 443.10L511.30 443.10L511.70 443.10L512.10 443.10L512.50 443.10L512.90 443.10L513.30 443.10L513.70 443.10L514.10 443.10L514.50 443.10L514.90 443.10L515.30 443.10L515.70 443.10L516.10 443.10L516.50 443.10L516.90 443.10L517.30 443.10L517.70 443.10L518.10 443.10L518.50 443.10L518.90 443.10L519.30 443.09L519.70 443.09L520.10 443.09L520.50 443.09L520.90 443.09L521.30 443.09L521.70 443.09L522.10 443.09L522.50 443.09L522.90 443.09L523.30 443.09L523.70 443.09L524.10 443.09L524.50 443.09L524.90 443.09L525.30 443.09L525.70 443.09L526.10 443.09L526.50 443.09L526.90 443.09L527.30 443.08L527.70 443.08L528.10 443.08L528.50 443.08L528.90 443.08L529.30 443.08L529.70 443.08L530.10 443.08L530.50 443.08L530.90 443.08L531.30 443.08L531.70 443.08L532.10 443.08L532.50 443.08L532.90 443.08L533.30 443.08L533.70 443.08L534.10 443.08L534.50 443.08L534.90 443.08L535.30 443.07L535.70 443.07L536.10 443.07L536.50 443.07L536.90 443.07L537.30 443.07L537.70 443.07L538.10 443.07L538.50 443.07L538.90 443.07L539.30 443.07L539.70 443.07L540.10 443.07L540.50 443.07L540.90 443.07L541.30 443.07L541.70 443.07L542.10 443.07L542.50 443.07L542.90 443.07L543.30 443.06L543.70 443.06L544.10 443.06L544.50 443.06L544.90 443.06L545.30 443.06L545.70 443.06L546.10 443.06L546.50 443.06L546.90 443.06L547.30 443.06L547.70 443.06L548.10 443.06L548.50 443.06L548.90 443.06L549.30 443.06L549.70 443.06L550.10 443.06L550.50 443.06L550.90 443.06L551.30 443.06L551.70 443.05L552.10 443.05L552.50 443.05L552.90 443.05L553.30 443.05L553.70 443.05L554.10 443.05L554.50 443.05L554.90 443.05L555.30 443.05L555.70 443.05L556.10 443.05L556.50 443.05L556.90 443.05L557.30 443.05L557.70 443.05L558.10 443.05L558.50 443.05L558.90 443.05L559.30 443.05L559.70 443.04L560.10 443.04L560.50 443.04L560.90 443.04L561.30 443.04L561.70 443.04L562.10 443.04L562.50 443.04L562.90 443.04L563.30 443.04L563.70 443.04L564.10 443.04L564.50 443.04L564.90 443.04L565.30 443.04L565.70 443.04L566.10 443.04L566.50 443.04L566.90 443.04L567.30 443.04L567.70 443.03L568.10 443.03L568.50 443.03L568.90 443.03L569.30 443.03L569.70 443.03L570.10 443.03L570.50 443.03L570.90 443.03L571.30 443.03L571.70 443.03L572.10 443.03L572.50 443.03L572.90 443.03L573.30 443.03L573.70 443.03L574.10 443.03L574.50 443.03L574.90 443.03L575.30 443.03L575.70 443.02L576.10 443.02L576.50 443.02L576.90 443.02L577.30 443.02L577.70 443.02L578.10 443.02L578.50 443.02L578.90 443.02L579.30 443.02L579.70 443.02L580.10 443.02L580.50 443.02L580.90 443.02L581.30 443.02L581.70 443.02L582.10 443.02L582.50 443.02L582.90 443.02L583.30 443.02L583.70 443.02L584.10 443.01L584.50 443.01L584.90 443.01L585.30 443.01L585.70 443.01L586.10 443.01L586.50 443.01L586.90 443.01L587.30 443.01L587.70 443.01L588.10 443.01L588.50 443.01L588.90 443.01L589.30 443.01L589.70 443.01L590.10 443.01L590.50 443.01L590.90 443.01L591.30 443.01L591.70 443.01L592.10 443.00L592.50 443.00L592.90 443.00L593.30 443.00L593.70 443.00L594.10 443.00L594.50 443.00L594.90 443.00L595.30 443.00L595.70 443.00L596.10 443.00L596.50 443.00L596.90 443.00L597.30 443.00L597.70 443.00L598.10 443.00L598.50 443.00L598.90 443.00L599.30 443.00L599.70 443.00L600.10 442.99L600.50 442.99L600.90 442.99L601.30 442.99L601.70 442.99L602.10 442.99L602.50 442.99L602.90 442.99L603.30 442.99L603.70 442.99L604.10 442.99L604.50 442.99L604.90 442.99L605.30 442.99L605.70 442.99L606.10 442.99L606.50 442.99L606.90 442.99L607.30 442.99L607.70 442.99L608.10 442.98L608.50 442.98L608.90 442.98L609.30 442.98L609.70 442.98L610.10 442.98L610.50 442.98L610.90 442.98L611.30 442.98L611.70 442.98L612.10 442.98L612.50 442.98L612.90 442.98L613.30 442.98L613.70 442.98L614.10 442.98L614.50 442.98L614.90 442.98L615.30 442.98L615.70 442.98L616.10 442.98L616.50 442.97L616.90 442.97L617.30 442.97L617.70 442.97L618.10 442.97L618.50 442.97L618.90 442.97L619.30 442.97L619.70 442.97L620.10 442.97L620.50 442.97L620.90 442.97L621.30 442.97L621.70 442.97L622.10 442.97L622.50 442.97L622.90 442.97L623.30 442.97L623.70 442.97L624.10 442.97L624.50 442.96L624.90 442.96L625.30 442.96L625.70 442.96L626.10 442.96L626.50 442.96L626.90 442.96L627.30 442.96L627.70 442.96L628.10 442.96L628.50 442.96L628.90 442.96L629.30 442.96L629.70 442.96L630.10 442.96L630.50 442.96L630.90 442.96L631.30 442.96L631.70 442.96L632.10 442.96L632.50 442.95L632.90 442.95L633.30 442.95L633.70 442.95L634.10 442.95L634.50 442.95L634.90 442.95L635.30 442.95L635.70 442.95L636.10 442.95L636.50 442.95L636.90 442.95L637.30 442.95L637.70 442.95L638.10 442.95L638.50 442.95L638.90 442.95L639.30 442.95L639.70 442.95L640.10 442.95L640.50 442.94L640.90 442.94L641.30 442.94L641.70 442.94L642.10 442.94L642.50 442.94L642.90 442.94L643.30 442.94L643.70 442.94L644.10 442.94L644.50 442.94L644.90 442.94L645.30 442.94L645.70 442.94L646.10 442.94L646.50 442.94L646.90 442.94L647.30 442.94L647.70 442.94L648.10 442.94L648.50 442.93L648.90 442.93L649.30 442.93L649.70 442.93L650.10 442.93L650.50 442.93L650.90 442.93L651.30 442.93L651.70 442.93L652.10 442.93L652.50 442.93L652.90 442.93L653.30 442.93L653.70 442.93L654.10 442.93L654.50 442.93L654.90 442.93L655.30 442.93L655.70 442.93L656.10 442.93L656.50 442.93L656.90 442.92L657.30 442.92L657.70 442.92L658.10 442.92L658.50 442.92L658.90 442.92L659.30 442.92L659.70 442.92L660.10 442.92L660.50 442.92L660.90 442.92L661.30 442.92L661.70 442.92L662.10 442.92L662.50 442.92L662.90 442.92L663.30 442.92L663.70 442.92L664.10 442.92L664.50 442.92L664.90 442.91L665.30 442.91L665.70 442.91L666.10 442.91L666.50 442.91L666.90 442.91L667.30 442.91L667.70 442.91L668.10 442.91L668.50 442.91L668.90 442.91L669.30 442.91L669.70 442.91L670.10 442.91L670.50 442.91L670.90 442.91L671.30 442.91L671.70 442.91L672.10 442.91L672.50 442.91L672.90 442.90L673.30 442.90L673.70 442.90L674.10 442.90L674.50 442.90L674.90 442.90L675.30 442.90L675.70 442.90L676.10 442.90L676.50 442.90"/>
<path d="M704.60 156.05L705.00 155.72L705.40 155.70L705.80 155.80L706.20 155.97L706.60 155.56L707.00 155.06L707.00 155.06L707.40 154.52L707.80 154.39L708.20 154.40L708.60 154.42L709.00 154.18L709.40 153.83L709.80 153.57L709.80 153.57L710.20 153.65L710.60 154.01L711.00 154.41L711.40 154.58L711.80 154.33L712.20 154.06L712.60 153.90L712.70 153.97L713.00 154.13L713.40 154.20L713.80 154.11L714.20 153.51L714.60 152.90L715.00 152.36L715.40 152.45L715.60 152.56L715.80 152.69L716.20 152.94L716.60 152.81L717.00 152.62L717.40 152.43L717.80 152.53L718.20 152.73L718.50 152.88L718.60 152.93L719.00 152.76L719.40 152.31L719.80 151.77L720.20 151.39L720.60 151.20L721.00 150.99L721.40 150.58L721.40 150.58L721.80 149.71L722.20 148.65L722.60 147.70L723.00 147.32L723.40 147.16L723.70 147.27L723.80 147.29L724.20 147.18L724.60 147.15L725.00 147.11L725.40 147.40L725.40 147.40L725.80 147.52L726.20 147.45L726.60 146.86L727.00 146.11L727.40 145.29L727.80 144.70L728.20 144.20L728.30 144.08L728.60 143.59L729.00 142.40L729.40 140.91L729.80 139.46L730.20 138.49L730.60 138.20L730.60 138.20L731.00 138.23L731.40 138.13L731.80 137.76L732.20 137.41L732.60 137.16L733.00 137.25L733.40 137.26L733.50 137.25L733.80 136.95L734.20 135.74L734.60 134.27L735.00 132.83L735.30 132.29L735.40 132.15L735.80 131.67L736.20 131.27L736.60 130.45L737.00 129.58L737.40 128.68L737.80 128.12L738.10 127.75L738.20 127.61L738.60 126.95L739.00 125.93L739.40 124.72L739.80 123.59L739.90 123.33L740.20 122.84L740.60 122.44L741.00 122.05L741.40 121.44L741.60 120.94L741.80 120.41L742.20 119.27L742.60 118.15L743.00 117.32L743.40 116.46L743.80 115.54L743.90 115.21L744.20 114.24L744.60 112.98L745.00 111.71L745.40 110.94L745.80 110.06L746.20 109.03L746.20 109.03L746.60 107.18L747.00 104.96L747.40 102.58L747.80 100.66L748.00 99.81L748.20 98.99L748.60 97.23L749.00 95.15L749.40 93.02L749.80 90.98L750.10 89.50L750.20 89.00L750.60 86.98L751.00 84.93L751.40 82.87L751.80 80.80L752.20 78.74L752.60 76.70L753.00 74.68L753.40 72.70L753.80 70.76L754.20 68.87L754.50 67.50L754.60 67.03L755.00 64.94L755.40 62.72L755.80 60.68L756.20 59.11L756.60 58.34L756.70 58.30L757.00 58.38L757.40 58.67L757.80 59.03L758.20 59.32L758.50 59.40L758.60 59.34L759.00 58.08L759.40 56.10L759.80 54.55L760.00 54.30L760.20 54.35L760.60 54.69L761.00 55.11L761.40 55.39L761.50 55.40L761.80 55.23L762.20 54.60L762.60 53.69L763.00 52.73L763.30 52.10L763.40 51.91L763.80 51.00L764.20 50.04L764.60 49.24L765.00 48.82L765.10 48.80L765.40 50.74L765.80 57.22L766.20 64.22L766.60 67.50L766.60 67.50L767.00 66.77L767.40 65.01L767.80 63.07L768.10 62.00L768.20 61.73L768.60 60.63L769.00 59.37L769.40 58.17L769.80 57.45L769.90 57.37L770.20 57.45L770.60 57.81L771.00 58.28L771.40 58.70L771.60 58.81L771.80 59.20L772.20 61.26L772.60 64.46L773.00 68.16L773.20 69.79L773.40 71.43L773.80 75.10L774.20 78.00L774.60 79.49L774.70 79.51L775.00 78.44L775.40 75.81L775.80 73.48L776.00 73.14L776.20 73.22L776.60 73.10L777.00 72.95L777.40 72.80L777.80 72.90L778.20 73.09L778.60 73.27L778.70 73.32L779.00 73.35L779.40 73.73L779.80 74.42L780.20 75.46L780.40 76.09L780.60 76.79L781.00 78.63L781.40 80.57L781.80 82.15L782.20 83.27L782.60 83.70L782.60 83.70L783.00 83.89L783.40 83.99L783.80 83.96L784.20 83.44L784.60 82.87L784.80 82.58L785.00 82.18L785.40 81.44L785.80 80.54L786.20 79.96L786.40 79.81L786.60 79.94L787.00 81.18L787.40 83.21L787.80 85.67L788.20 87.74L788.60 88.69L788.60 88.69L789.00 87.86L789.40 85.76L789.80 83.19L790.20 80.98L790.60 79.78L790.80 79.68L791.00 79.81L791.40 80.02L791.80 80.05L792.20 80.11L792.60 80.23L793.00 80.60L793.00 80.60L793.40 80.30L793.80 79.27L794.20 77.92L794.50 77.42L794.60 77.41L795.00 78.07L795.40 79.75L795.80 81.33L796.20 82.15L796.20 82.15L796.60 81.58L797.00 80.38L797.40 78.86L797.80 77.68L798.20 76.81L798.40 76.52L798.60 76.28L799.00 75.44L799.40 74.43L799.80 73.53L800.20 73.06L800.60 73.10L800.60 73.10L801.00 73.40L801.40 73.71L801.80 73.89L802.20 74.18L802.60 74.68L802.80 75.12L803.00 75.84L803.40 78.14L803.80 79.89L803.90 79.92L804.20 79.32L804.60 77.68L805.00 75.83L805.40 75.14L805.50 75.16L805.80 75.44L806.20 75.99L806.60 76.23L807.00 76.57L807.40 77.04L807.70 77.70L807.80 78.02L808.20 80.05L808.60 83.01L809.00 86.23L809.40 89.42L809.40 89.42L809.80 93.87L810.00 95.20L810.20 95.64L810.60 96.19L811.00 96.47L811.40 96.77L811.60 97.00L811.80 97.28L812.20 97.95L812.60 98.76L813.00 99.73L813.10 100.00L813.40 101.06L813.80 102.98L814.20 105.02L814.60 106.70L814.70 107.00L815.00 107.73L815.40 108.51L815.80 109.17L816.20 109.85L816.60 110.66L816.70 110.90L817.00 111.80L817.40 113.31L817.80 114.91L818.20 116.29L818.50 117.00L818.60 117.17L819.00 117.81L819.40 118.34L819.80 118.73L820.10 118.90L820.20 118.94L820.60 119.08L821.00 119.20L821.40 119.30L821.80 119.39L822.20 119.45L822.60 119.49L823.00 119.50L823.00 119.50L823.40 119.50L823.80 119.49L824.20 119.49L824.60 119.48L825.00 119.46L825.40 119.45L825.80 119.43L826.20 119.40L826.20 119.40L826.60 119.24L827.00 118.88L827.40 118.37L827.80 117.80L827.80 117.80L828.20 117.00L828.60 115.86L829.00 114.51L829.40 113.10L829.80 111.77L830.10 110.90L830.20 110.64L830.60 109.58L831.00 108.56L831.40 107.57L831.80 106.67L832.20 105.86L832.40 105.50L832.60 105.16L833.00 104.50L833.40 103.88L833.80 103.32L834.20 102.85L834.60 102.47L834.70 102.40L835.00 102.23L835.40 102.07L835.80 101.91L836.20 101.68L836.30 101.60L836.60 101.08L837.00 99.80L837.40 98.28L837.80 97.00L837.80 97.00L838.20 95.90L838.60 94.80L839.00 93.94L839.40 93.60L839.40 93.60L839.80 93.63L840.20 93.72L840.60 93.85L841.00 94.01L841.40 94.20L841.40 94.20L841.80 94.55L842.20 95.12L842.60 95.81L843.00 96.53L843.40 97.17L843.50 97.30L843.80 97.71L844.20 98.30L844.60 98.89L845.00 99.42L845.40 99.83L845.80 100.07L846.00 100.10L846.20 100.07L846.60 99.86L847.00 99.49L847.40 99.03L847.80 98.53L848.20 98.07L848.60 97.70L848.60 97.70L849.00 97.43L849.40 97.20L849.80 96.99L850.20 96.75L850.60 96.47L850.90 96.20L851.00 96.09L851.40 95.37L851.80 94.38L852.20 93.31L852.60 92.36L853.00 91.73L853.20 91.60L853.40 91.54L853.80 91.44L854.20 91.37L854.60 91.31L855.00 91.26L855.40 91.22L855.80 91.17L856.20 91.12L856.30 91.10L856.60 91.05L857.00 90.96L857.40 90.88L857.80 90.79L858.20 90.71L858.60 90.65L859.00 90.61L859.30 90.60L859.40 90.60L859.80 90.68L860.20 90.82L860.60 90.98L861.00 91.12L861.40 91.20L861.50 91.20L861.80 91.00L862.20 90.30L862.60 89.39L863.00 88.60L863.00 88.60L863.40 88.01L863.80 87.45L864.20 86.92L864.60 86.39L865.00 85.87L865.40 85.34L865.50 85.20L865.80 84.79L866.20 84.25L866.60 83.71L867.00 83.17L867.40 82.62L867.80 82.07L868.20 81.50L868.60 80.92L869.00 80.31L869.20 80.00L869.40 79.68L869.80 79.05L870.20 78.37L870.60 77.62L870.80 77.20L871.00 76.73L871.40 75.58L871.80 74.27L872.20 72.93L872.60 71.67L873.00 70.62L873.10 70.40L873.40 69.77L873.80 68.91L874.20 68.08L874.60 67.34L875.00 66.74L875.40 66.35L875.80 66.20L875.80 66.20L876.20 66.24L876.60 66.36L877.00 66.55L877.40 66.79L877.80 67.08L878.20 67.40L878.20 67.40L878.60 67.92L879.00 68.72L879.40 69.70L879.80 70.71L880.00 71.20L880.20 71.67L880.60 72.61L881.00 73.58L881.40 74.58L881.80 75.64L882.20 76.77L882.60 78.00L883.00 79.34L883.10 79.70L883.40 80.87L883.80 82.69L884.20 84.72L884.60 86.89L885.00 89.13L885.40 91.37L885.70 93.00L885.80 93.54L886.20 95.79L886.60 98.14L887.00 100.55L887.40 102.96L887.80 105.30L888.20 107.53L888.60 109.58L889.00 111.40L889.00 111.40L889.40 113.03L889.80 114.56L890.20 115.98L890.60 117.32L891.00 118.56L891.40 119.72L891.50 120.00L891.80 120.79L892.20 121.77L892.60 122.68L893.00 123.55L893.30 124.20L893.40 124.42L893.80 125.31L894.20 126.21L894.60 127.12L895.00 127.99L895.40 128.81L895.80 129.55L896.20 130.19L896.60 130.70L896.60 130.70L897.00 131.14L897.40 131.58L897.80 132.01L898.20 132.41L898.60 132.79L899.00 133.12L899.40 133.42L899.80 133.66L900.20 133.84L900.60 133.96L901.00 134.00L901.00 134.00L901.40 133.98L901.80 133.91L902.20 133.80L902.60 133.67L903.00 133.52L903.40 133.36L903.80 133.20L904.20 133.04L904.30 133.00L904.60 132.88L905.00 132.69L905.40 132.48L905.80 132.26L906.20 132.03L906.60 131.79L907.00 131.55L907.40 131.33L907.80 131.11L908.20 130.91L908.60 130.74L908.70 130.70L909.00 130.59L909.40 130.48L909.80 130.37L910.20 130.28L910.60 130.18L911.00 130.07L911.40 129.94L911.80 129.79L912.00 129.70L912.20 129.57L912.60 129.17L913.00 128.65L913.40 128.14L913.80 127.75L914.20 127.60L914.20 127.60L914.60 127.70L915.00 127.96L915.40 128.28L915.80 128.58L916.20 128.77L916.40 128.80L916.60 128.78L917.00 128.60L917.40 128.27L917.80 127.84L918.20 127.32L918.60 126.77L919.00 126.20L919.40 125.66L919.70 125.30L919.80 125.18L920.20 124.70L920.60 124.19L921.00 123.66L921.40 123.12L921.80 122.57L922.20 122.03L922.60 121.51L923.00 121.00L923.40 120.53L923.80 120.10L924.10 119.80L924.20 119.71L924.60 119.34L925.00 118.98L925.40 118.63L925.80 118.30L926.20 117.98L926.60 117.67L927.00 117.38L927.40 117.12L927.80 116.87L928.20 116.65L928.50 116.50L928.60 116.45L929.00 116.27L929.40 116.10L929.80 115.93L930.20 115.78L930.60 115.63L931.00 115.49L931.40 115.35L931.80 115.22L932.20 115.10L932.60 114.98L933.00 114.86L933.40 114.74L933.80 114.63L934.20 114.52L934.60 114.41L935.00 114.29L935.40 114.18L935.80 114.06L936.20 113.95L936.60 113.82L937.00 113.70L937.30 113.60L937.40 113.57L937.80 113.43L938.20 113.29L938.60 113.16L939.00 113.02L939.40 112.87L939.80 112.73L940.20 112.59L940.60 112.45L941.00 112.31L941.40 112.18L941.80 112.04L942.20 111.91L942.60 111.78L943.00 111.66L943.40 111.54L943.80 111.43L943.90 111.40L944.20 111.32L944.60 111.22L945.00 111.13L945.40 111.05L945.80 110.97L946.20 110.90L946.60 110.82L947.00 110.75L947.40 110.67L947.80 110.59L948.20 110.51L948.60 110.42L949.00 110.32L949.40 110.22L949.80 110.10L950.20 109.97L950.40 109.90L950.60 109.82L951.00 109.63L951.40 109.40L951.80 109.13L952.20 108.82L952.60 108.49L953.00 108.14L953.40 107.77L953.80 107.38L954.20 107.00L954.60 106.60L955.00 106.22L955.40 105.84L955.80 105.47L956.20 105.12L956.60 104.80L957.00 104.50L957.00 104.50L957.40 104.23L957.80 103.96L958.20 103.71L958.60 103.46L959.00 103.22L959.40 102.99L959.80 102.76L960.20 102.53L960.60 102.30L961.00 102.08L961.40 101.84L961.80 101.61L962.20 101.37L962.60 101.12L963.00 100.87L963.40 100.61L963.70 100.40L963.80 100.33L964.20 100.05L964.60 99.77L965.00 99.49L965.40 99.20L965.80 98.91L966.20 98.62L966.60 98.32L967.00 98.01L967.40 97.70L967.80 97.37L968.20 97.04L968.60 96.70L969.00 96.34L969.40 95.97L969.80 95.60L970.20 95.20L970.40 95.00L970.60 94.79L971.00 94.36L971.40 93.89L971.80 93.41L972.20 92.90L972.60 92.36L973.00 91.81L973.40 91.24L973.80 90.66L974.20 90.06L974.50 89.60L974.60 89.45L975.00 88.81L975.40 88.14L975.80 87.45L976.20 86.74L976.60 86.00L977.00 85.24L977.40 84.45L977.80 83.65L978.20 82.83L978.50 82.20L978.60 81.99L979.00 81.13L979.40 80.25L979.80 79.35L980.20 78.42L980.60 77.46L981.00 76.46L981.40 75.44L981.80 74.37L982.20 73.26L982.60 72.10L982.60 72.10L983.00 70.87L983.40 69.56L983.80 68.17L984.20 66.72L984.60 65.23L985.00 63.69L985.40 62.14L985.80 60.57L986.20 59.00L986.20 59.00L986.60 57.39L987.00 55.71L987.40 53.97L987.80 52.20L988.20 50.42L988.60 48.65L989.00 46.91L989.40 45.24L989.80 43.64L990.10 42.50L990.20 42.13L990.60 40.62L991.00 39.12L991.40 37.66L991.80 36.31L992.20 35.11L992.60 34.11L992.70 33.90L993.00 33.29L993.40 32.51L993.80 31.78L994.20 31.14L994.60 30.62L995.00 30.25L995.30 30.10L995.40 30.07L995.80 29.95L996.20 29.84L996.60 29.75L997.00 29.67L997.40 29.60L997.80 29.55L998.20 29.52L998.60 29.50L998.80 29.50L999.00 29.51L999.40 29.60L999.80 29.76L1000.20 29.94L1000.60 30.13L1001.00 30.29L1001.40 30.40L1001.40 30.40L1001.80 30.47L1002.20 30.53L1002.60 30.59L1003.00 30.64L1003.40 30.68L1003.80 30.70L1004.00 30.70L1004.20 30.70L1004.60 30.68L1005.00 30.63L1005.40 30.57L1005.80 30.49L1006.20 30.39L1006.60 30.28L1007.00 30.15L1007.40 30.00"/>
<path d="M704.60 220.85L705.00 220.42L705.40 220.31L705.80 220.33L706.20 220.44L706.60 219.96L707.00 219.40L707.40 218.84L707.80 218.74L708.20 218.80L708.60 218.86L709.00 218.62L709.40 218.21L709.80 217.79L710.20 217.63L710.60 217.70L710.60 217.70L711.00 217.78L711.40 217.63L711.80 217.07L712.20 216.52L712.60 216.13L713.00 216.22L713.40 216.31L713.80 216.34L714.20 215.89L714.60 215.44L715.00 214.98L715.40 215.04L715.80 215.09L716.20 215.13L716.60 214.77L717.00 214.34L717.20 214.13L717.40 213.91L717.80 213.75L718.20 213.67L718.60 213.58L719.00 213.22L719.40 212.69L719.80 212.15L720.20 211.84L720.60 211.75L721.00 211.65L721.40 211.34L721.80 210.68L722.20 210.01L722.60 209.50L722.70 209.49L723.00 209.45L723.40 209.40L723.80 209.27L724.20 208.65L724.60 208.02L725.00 207.38L725.40 207.17L725.80 206.94L726.00 206.83L726.20 206.70L726.60 206.08L727.00 205.39L727.40 204.69L727.80 204.24L728.20 203.87L728.60 203.48L729.00 202.81L729.30 202.17L729.40 201.96L729.80 201.09L730.20 200.44L730.60 200.01L731.00 199.55L731.40 198.86L731.80 197.79L732.20 196.67L732.60 195.63L733.00 194.90L733.10 194.71L733.40 194.04L733.80 192.88L734.20 191.18L734.60 189.47L735.00 187.86L735.40 186.95L735.40 186.95L735.80 186.27L736.20 185.70L736.60 184.73L737.00 183.70L737.40 182.63L737.70 182.02L737.80 181.84L738.20 181.16L738.60 180.45L739.00 179.38L739.40 178.04L739.80 176.57L740.00 175.77L740.20 175.12L740.60 173.52L741.00 171.61L741.40 169.37L741.80 166.84L742.20 164.47L742.40 163.39L742.60 162.48L743.00 160.93L743.40 159.45L743.80 157.97L744.20 156.11L744.60 154.29L745.00 152.49L745.40 151.26L745.80 150.03L746.20 148.80L746.60 147.03L747.00 145.17L747.40 143.26L747.80 141.77L747.90 141.43L748.20 140.42L748.60 139.13L749.00 137.53L749.40 135.74L749.80 133.92L750.20 132.33L750.60 130.84L751.00 129.14L751.40 127.14L751.80 124.92L752.20 122.61L752.30 122.00L752.60 119.82L753.00 116.14L753.40 112.04L753.80 108.00L754.20 104.53L754.50 102.60L754.60 102.08L755.00 99.98L755.40 97.97L755.80 96.15L756.20 94.62L756.60 93.50L757.00 92.88L757.20 92.80L757.40 92.91L757.80 93.60L758.20 94.57L758.60 95.37L758.90 95.60L759.00 95.57L759.40 94.94L759.80 93.85L760.20 92.76L760.60 92.13L760.70 92.10L761.00 92.40L761.40 93.41L761.80 94.49L762.20 95.00L762.20 95.00L762.60 94.69L763.00 93.88L763.40 92.77L763.80 91.54L764.20 90.37L764.60 89.47L765.00 89.02L765.10 89.00L765.40 91.56L765.80 100.07L766.20 109.28L766.60 113.60L766.60 113.60L767.00 112.47L767.40 109.97L767.80 107.67L768.10 107.00L768.20 107.00L768.60 107.09L769.00 107.02L769.40 106.75L769.80 106.49L770.20 106.44L770.60 106.61L771.00 106.79L771.00 106.79L771.40 107.52L771.80 109.13L772.20 111.56L772.60 114.60L773.00 118.16L773.20 119.89L773.40 122.01L773.80 127.40L774.20 130.73L774.30 130.86L774.60 130.29L775.00 128.61L775.40 126.80L775.80 124.98L776.20 123.70L776.50 123.24L776.60 123.20L777.00 123.08L777.40 122.98L777.80 123.17L778.20 123.48L778.60 123.83L779.00 123.93L779.40 123.89L779.80 123.88L779.80 123.88L780.20 124.69L780.60 126.57L781.00 128.87L781.40 131.00L781.80 132.46L782.00 132.90L782.20 133.23L782.60 133.96L783.00 134.95L783.40 135.80L783.80 136.38L784.20 136.27L784.20 136.27L784.60 135.53L785.00 134.09L785.40 132.85L785.80 131.71L786.20 131.07L786.40 130.91L786.60 131.21L787.00 133.50L787.40 136.76L787.80 139.70L788.10 140.66L788.20 140.68L788.60 140.32L789.00 139.16L789.40 137.51L789.80 135.74L790.20 134.28L790.60 133.36L790.80 133.08L791.00 132.88L791.40 132.32L791.80 131.54L792.20 130.85L792.60 130.44L793.00 130.60L793.00 130.60L793.40 131.09L793.80 131.83L794.20 132.27L794.60 132.63L795.00 132.74L795.10 132.80L795.40 132.79L795.80 132.38L796.20 131.65L796.60 130.39L797.00 129.12L797.30 128.29L797.40 128.03L797.80 127.38L798.20 126.80L798.60 126.20L799.00 125.33L799.40 124.36L799.80 123.53L800.20 123.13L800.60 123.20L800.60 123.20L801.00 123.89L801.40 125.12L801.80 126.37L802.20 127.52L802.60 128.29L802.80 128.52L803.00 128.57L803.40 128.43L803.80 128.03L804.20 127.19L804.60 126.46L805.00 126.01L805.00 126.01L805.40 126.56L805.80 127.57L806.20 128.91L806.60 129.98L807.00 131.07L807.20 131.61L807.40 132.22L807.80 134.16L808.20 136.58L808.60 139.20L809.00 141.62L809.40 143.82L809.40 143.82L809.80 146.16L810.20 148.84L810.60 151.57L811.00 154.05L811.40 156.20L811.60 157.10L811.80 157.91L812.20 159.44L812.60 160.86L813.00 162.17L813.40 163.40L813.80 164.55L814.20 165.65L814.60 166.70L815.00 167.74L815.40 168.76L815.80 169.78L816.00 170.30L816.20 170.83L816.60 171.96L817.00 173.13L817.40 174.28L817.80 175.37L818.20 176.34L818.60 177.14L819.00 177.73L819.30 178.00L819.40 178.06L819.80 178.30L820.20 178.51L820.60 178.71L821.00 178.89L821.40 179.05L821.80 179.19L822.20 179.30L822.60 179.39L823.00 179.46L823.40 179.49L823.70 179.50L823.80 179.50L824.20 179.46L824.60 179.37L825.00 179.23L825.40 179.05L825.80 178.83L826.20 178.58L826.60 178.30L827.00 178.00L827.00 178.00L827.40 177.50L827.80 176.67L828.20 175.59L828.60 174.30L829.00 172.88L829.40 171.39L829.80 169.89L830.20 168.44L830.30 168.10L830.60 167.07L831.00 165.68L831.40 164.26L831.80 162.79L832.20 161.29L832.60 159.73L833.00 158.12L833.40 156.45L833.80 154.70L834.20 152.89L834.60 150.99L834.70 150.50L835.00 148.91L835.40 146.52L835.80 143.96L836.20 141.38L836.60 138.94L836.90 137.30L837.00 136.78L837.40 134.48L837.80 132.11L838.20 129.97L838.60 128.34L839.00 127.54L839.10 127.50L839.40 127.80L839.80 128.96L840.20 130.72L840.60 132.78L841.00 134.84L841.30 136.20L841.40 136.62L841.80 138.37L842.20 140.22L842.60 142.11L843.00 144.00L843.40 145.83L843.80 147.56L844.20 149.13L844.60 150.50L844.60 150.50L845.00 151.81L845.40 153.16L845.80 154.40L846.20 155.37L846.60 155.92L846.80 156.00L847.00 155.99L847.40 155.88L847.80 155.69L848.20 155.43L848.60 155.11L849.00 154.74L849.40 154.36L849.80 153.96L850.20 153.56L850.60 153.19L851.00 152.85L851.20 152.70L851.40 152.56L851.80 152.27L852.20 151.99L852.60 151.70L853.00 151.42L853.40 151.14L853.80 150.87L854.20 150.59L854.60 150.32L855.00 150.05L855.40 149.79L855.80 149.53L856.00 149.40L856.20 149.27L856.60 149.04L857.00 148.81L857.40 148.59L857.80 148.36L858.20 148.13L858.60 147.88L859.00 147.62L859.30 147.40L859.40 147.32L859.80 146.86L860.20 146.41L860.60 146.20L860.60 146.20L861.00 146.47L861.40 146.94L861.70 147.10L861.80 147.07L862.20 146.44L862.60 145.39L862.90 144.60L863.00 144.36L863.40 143.35L863.80 142.27L864.20 141.13L864.60 139.95L865.00 138.77L865.40 137.60L865.80 136.47L865.90 136.20L866.20 135.39L866.60 134.34L867.00 133.30L867.40 132.27L867.80 131.24L868.20 130.20L868.60 129.14L869.00 128.06L869.20 127.50L869.40 126.93L869.80 125.76L870.20 124.56L870.60 123.33L871.00 122.09L871.40 120.86L871.80 119.65L872.20 118.46L872.50 117.60L872.60 117.31L873.00 116.10L873.40 114.82L873.80 113.53L874.20 112.29L874.60 111.14L875.00 110.13L875.40 109.34L875.80 108.80L875.80 108.80L876.20 108.42L876.60 108.08L877.00 107.83L877.40 107.71L877.50 107.70L877.80 107.75L878.20 107.98L878.60 108.36L879.00 108.88L879.40 109.51L879.80 110.22L880.20 111.00L880.20 111.00L880.60 112.11L881.00 113.77L881.40 115.84L881.80 118.19L882.20 120.72L882.40 122.00L882.60 123.38L883.00 126.60L883.40 130.27L883.80 134.16L884.20 138.05L884.60 141.70L884.60 141.70L885.00 145.21L885.40 148.75L885.80 152.22L886.20 155.53L886.60 158.59L886.70 159.30L887.00 161.36L887.40 164.00L887.80 166.49L888.20 168.82L888.60 170.99L888.90 172.50L889.00 172.98L889.40 174.88L889.80 176.70L890.20 178.45L890.60 180.10L891.00 181.66L891.40 183.12L891.80 184.47L892.20 185.70L892.20 185.70L892.60 186.87L893.00 188.01L893.40 189.11L893.80 190.15L894.20 191.10L894.60 191.93L895.00 192.64L895.40 193.19L895.50 193.30L895.80 193.61L896.20 194.02L896.60 194.40L897.00 194.77L897.40 195.10L897.80 195.40L898.20 195.66L898.60 195.88L899.00 196.04L899.40 196.15L899.80 196.20L899.90 196.20L900.20 196.19L900.60 196.15L901.00 196.09L901.40 196.01L901.80 195.92L902.20 195.83L902.60 195.73L903.00 195.65L903.40 195.58L903.80 195.53L904.20 195.50L904.30 195.50L904.60 195.51L905.00 195.57L905.40 195.67L905.80 195.80L906.20 195.94L906.60 196.09L907.00 196.23L907.40 196.37L907.80 196.48L908.20 196.56L908.60 196.60L908.70 196.60L909.00 196.60L909.40 196.60L909.80 196.60L910.20 196.60L910.60 196.60L911.00 196.60L911.40 196.60L911.80 196.60L912.00 196.60L912.20 196.47L912.60 195.60L913.00 194.22L913.40 192.75L913.80 191.58L914.20 191.10L914.20 191.10L914.60 191.77L915.00 193.19L915.40 194.50L915.70 194.90L915.80 194.90L916.20 194.88L916.60 194.84L917.00 194.78L917.40 194.71L917.80 194.61L918.20 194.51L918.60 194.40L918.60 194.40L919.00 194.21L919.40 193.89L919.80 193.48L920.20 193.00L920.60 192.50L921.00 192.01L921.40 191.56L921.80 191.18L921.90 191.10L922.20 190.87L922.60 190.58L923.00 190.28L923.40 190.00L923.80 189.73L924.20 189.47L924.60 189.23L925.00 189.02L925.40 188.83L925.80 188.66L926.20 188.53L926.30 188.50L926.60 188.42L927.00 188.33L927.40 188.24L927.80 188.17L928.20 188.10L928.60 188.03L929.00 187.98L929.40 187.92L929.80 187.87L930.20 187.82L930.60 187.76L931.00 187.71L931.40 187.65L931.80 187.59L932.20 187.53L932.60 187.46L932.90 187.40L933.00 187.38L933.40 187.30L933.80 187.21L934.20 187.12L934.60 187.03L935.00 186.93L935.40 186.83L935.80 186.73L936.20 186.62L936.60 186.52L937.00 186.41L937.40 186.30L937.80 186.19L938.20 186.08L938.60 185.96L939.00 185.85L939.40 185.73L939.50 185.70L939.80 185.61L940.20 185.48L940.60 185.34L941.00 185.20L941.40 185.05L941.80 184.90L942.20 184.75L942.60 184.60L943.00 184.45L943.40 184.30L943.80 184.15L944.20 184.01L944.60 183.88L945.00 183.76L945.40 183.65L945.80 183.55L946.00 183.50L946.20 183.46L946.60 183.39L947.00 183.34L947.40 183.27L947.70 183.20L947.80 183.17L948.20 183.04L948.60 182.86L949.00 182.64L949.40 182.40L949.80 182.13L950.20 181.84L950.60 181.53L951.00 181.22L951.40 180.91L951.80 180.59L952.20 180.29L952.60 180.00L952.60 180.00L953.00 179.71L953.40 179.42L953.80 179.11L954.20 178.80L954.60 178.49L955.00 178.17L955.40 177.85L955.80 177.52L956.20 177.21L956.60 176.89L957.00 176.58L957.40 176.28L957.80 175.99L958.20 175.70L958.50 175.50L958.60 175.43L959.00 175.17L959.40 174.92L959.80 174.67L960.20 174.43L960.60 174.19L961.00 173.95L961.40 173.72L961.80 173.49L962.20 173.26L962.60 173.03L963.00 172.80L963.00 172.80L963.40 172.57L963.80 172.36L964.20 172.15L964.60 171.94L965.00 171.74L965.40 171.54L965.80 171.33L966.20 171.11L966.60 170.88L967.00 170.64L967.40 170.38L967.80 170.10L967.80 170.10L968.20 169.79L968.60 169.46L969.00 169.10L969.40 168.71L969.80 168.31L970.20 167.88L970.60 167.45L971.00 167.00L971.00 167.00L971.40 166.54L971.80 166.05L972.20 165.53L972.60 164.99L973.00 164.44L973.40 163.85L973.80 163.25L973.90 163.10L974.20 162.63L974.60 161.97L975.00 161.28L975.40 160.56L975.80 159.82L976.20 159.06L976.60 158.28L977.00 157.50L977.00 157.50L977.40 156.71L977.80 155.90L978.20 155.08L978.60 154.24L979.00 153.37L979.40 152.46L979.80 151.53L980.10 150.80L980.20 150.55L980.60 149.51L981.00 148.41L981.40 147.27L981.80 146.09L982.20 144.90L982.50 144.00L982.60 143.70L983.00 142.50L983.40 141.28L983.80 140.02L984.20 138.72L984.60 137.35L984.70 137.00L985.00 135.90L985.40 134.37L985.80 132.76L986.20 131.09L986.60 129.37L986.80 128.50L987.00 127.61L987.40 125.75L987.80 123.83L988.20 121.90L988.60 120.00L988.60 120.00L989.00 118.13L989.40 116.24L989.80 114.37L990.20 112.52L990.60 110.73L991.00 109.00L991.00 109.00L991.40 107.26L991.80 105.47L992.20 103.70L992.60 102.04L993.00 100.57L993.40 99.37L993.60 98.90L993.80 98.47L994.20 97.62L994.60 96.90L995.00 96.42L995.30 96.30L995.40 96.30L995.80 96.39L996.20 96.58L996.60 96.85L997.00 97.18L997.40 97.56L997.80 97.95L998.20 98.35L998.60 98.72L998.80 98.90L999.00 99.08L999.40 99.46L999.80 99.87L1000.20 100.31L1000.60 100.76L1001.00 101.21L1001.40 101.65L1001.80 102.08L1002.20 102.47L1002.60 102.83L1003.00 103.13L1003.10 103.20L1003.40 103.40L1003.80 103.65L1004.20 103.89L1004.60 104.13L1005.00 104.35L1005.40 104.55L1005.80 104.74L1006.20 104.91L1006.60 105.07L1007.00 105.19L1007.40 105.30"/>
<path d="M704.60 277.95L705.00 277.44L705.40 277.26L705.80 277.21L706.20 277.23L706.60 276.68L707.00 276.05L707.40 275.42L707.80 275.25L708.20 275.23L708.60 275.21L709.00 274.90L709.40 274.42L709.80 273.93L710.20 273.70L710.60 273.70L710.60 273.70L711.00 273.71L711.40 273.49L711.80 272.86L712.20 272.23L712.60 271.77L713.00 271.79L713.40 271.81L713.80 271.76L714.20 271.24L714.60 270.72L715.00 270.20L715.40 270.19L715.80 270.18L716.20 270.16L716.60 269.75L717.00 269.27L717.20 269.03L717.40 268.78L717.80 268.59L718.20 268.49L718.60 268.39L719.00 268.03L719.40 267.51L719.80 266.98L720.20 266.68L720.60 266.60L721.00 266.52L721.40 266.22L721.80 265.56L722.20 264.90L722.60 264.38L723.00 264.32L723.40 264.24L723.80 264.09L723.80 264.09L724.20 263.43L724.60 262.76L725.00 262.07L725.40 261.81L725.80 261.54L726.20 261.24L726.60 260.57L727.00 259.83L727.40 259.08L727.80 258.61L728.20 258.21L728.60 257.81L729.00 257.15L729.40 256.33L729.80 255.50L730.00 255.09L730.20 254.92L730.60 254.56L731.00 254.19L731.40 253.61L731.80 252.66L732.20 251.69L732.60 250.80L733.00 250.25L733.10 250.11L733.40 249.65L733.80 248.92L734.20 247.74L734.60 246.51L735.00 245.24L735.40 244.42L735.80 243.59L736.20 242.76L736.20 242.76L736.60 241.49L737.00 240.20L737.40 238.91L737.80 237.96L738.20 237.06L738.60 236.02L739.00 234.50L739.30 233.09L739.40 232.57L739.80 229.96L740.20 227.00L740.60 223.92L741.00 220.67L741.40 217.49L741.60 216.03L741.80 214.66L742.20 211.99L742.60 209.39L743.00 206.90L743.40 204.58L743.80 202.48L743.90 202.00L744.20 200.66L744.60 199.09L745.00 197.66L745.40 196.25L745.80 194.77L746.20 193.10L746.20 193.10L746.60 191.26L747.00 189.32L747.40 187.26L747.80 185.06L748.20 182.69L748.50 180.80L748.60 180.15L749.00 177.43L749.40 174.42L749.80 170.97L750.10 168.00L750.20 166.82L750.60 160.48L751.00 154.11L751.20 152.00L751.40 150.53L751.80 147.95L752.20 145.78L752.60 143.94L753.00 142.33L753.40 140.87L753.80 139.47L754.10 138.40L754.20 138.03L754.60 136.45L755.00 134.85L755.40 133.42L755.80 132.35L756.20 131.82L756.30 131.80L756.60 132.09L757.00 133.09L757.40 134.28L757.80 135.10L757.80 135.10L758.20 135.44L758.60 135.67L759.00 135.92L759.30 136.20L759.40 136.35L759.80 137.39L760.20 138.67L760.60 139.46L760.70 139.50L761.00 139.27L761.40 138.51L761.80 137.69L762.20 137.30L762.20 137.30L762.60 137.42L763.00 137.77L763.40 138.34L763.80 139.11L764.20 140.06L764.40 140.60L764.60 141.49L765.00 144.86L765.40 149.34L765.50 150.50L765.80 155.54L766.20 163.88L766.60 168.10L766.60 168.10L767.00 167.11L767.40 165.35L767.70 164.72L767.80 164.73L768.20 164.90L768.60 165.24L769.00 165.47L769.40 165.53L769.80 165.64L769.90 165.67L770.20 166.09L770.60 167.10L771.00 168.43L771.40 169.86L771.80 171.21L772.10 172.31L772.20 172.75L772.60 175.75L773.00 180.20L773.40 184.79L773.80 188.54L774.20 190.13L774.30 190.16L774.60 189.53L775.00 187.74L775.40 186.04L775.80 184.86L776.00 184.74L776.20 184.82L776.60 184.70L777.00 184.55L777.40 184.40L777.80 184.50L778.20 184.69L778.60 184.87L778.70 184.92L779.00 185.10L779.40 186.04L779.80 187.51L780.20 189.37L780.60 191.25L780.90 192.28L781.00 192.55L781.40 193.47L781.80 194.07L782.20 194.55L782.60 194.95L783.00 195.42L783.10 195.49L783.40 195.46L783.80 194.85L784.20 193.45L784.60 191.93L785.00 190.53L785.40 189.98L785.70 189.95L785.80 190.06L786.20 191.47L786.60 193.61L787.00 196.16L787.40 198.55L787.80 200.44L788.10 201.06L788.20 201.07L788.60 200.59L789.00 199.18L789.40 197.23L789.80 195.17L790.20 193.51L790.60 192.51L790.80 192.28L791.00 192.16L791.40 191.83L791.80 191.30L792.20 190.81L792.60 190.48L793.00 190.55L793.40 190.59L793.80 190.54L794.00 190.28L794.20 190.01L794.60 189.47L795.00 188.91L795.40 188.73L795.80 188.51L796.20 188.25L796.20 188.25L796.60 187.45L797.00 186.40L797.40 185.23L797.80 184.42L798.20 183.76L798.60 183.16L799.00 182.36L799.40 181.57L799.80 181.03L800.00 180.87L800.20 180.99L800.60 181.28L801.00 181.63L801.40 181.88L801.70 181.90L801.80 181.97L802.20 183.27L802.60 185.56L803.00 188.12L803.40 189.66L803.50 189.78L803.80 189.75L804.20 189.00L804.60 188.02L805.00 186.96L805.40 186.52L805.80 186.30L806.10 186.38L806.20 186.51L806.60 187.50L807.00 189.33L807.40 191.21L807.80 192.66L807.80 192.66L808.20 193.35L808.60 193.82L809.00 194.06L809.40 194.42L809.50 194.59L809.80 199.88L810.20 212.23L810.40 215.44L810.60 216.36L811.00 217.54L811.40 218.28L811.80 219.01L812.10 219.80L812.20 220.14L812.60 221.86L813.00 223.86L813.40 225.81L813.80 227.33L813.90 227.60L814.20 228.27L814.60 229.00L815.00 229.61L815.40 230.15L815.80 230.71L816.20 231.34L816.50 231.90L816.60 232.12L817.00 233.25L817.40 234.62L817.80 236.07L818.20 237.38L818.60 238.38L819.00 238.88L819.10 238.90L819.40 238.90L819.80 238.90L820.20 238.90L820.60 238.90L821.00 238.90L821.40 238.90L821.80 238.90L822.20 238.90L822.50 238.90L822.60 238.90L823.00 238.81L823.40 238.61L823.80 238.31L824.20 237.93L824.60 237.46L825.00 236.92L825.40 236.32L825.80 235.67L826.20 234.98L826.60 234.26L826.90 233.70L827.00 233.50L827.40 232.48L827.80 231.16L828.20 229.63L828.60 227.96L829.00 226.23L829.40 224.52L829.50 224.10L829.80 222.85L830.20 221.16L830.60 219.40L831.00 217.56L831.40 215.64L831.80 213.61L832.10 212.00L832.20 211.46L832.60 209.39L833.00 207.34L833.40 205.14L833.80 202.59L834.20 199.53L834.60 195.77L834.70 194.70L835.00 189.73L835.40 179.76L835.80 169.28L836.00 165.00L836.20 160.91L836.60 153.01L836.90 150.50L837.00 150.56L837.40 151.80L837.80 154.33L838.20 157.69L838.60 161.42L839.00 165.06L839.10 165.90L839.40 168.55L839.80 172.50L840.20 176.73L840.60 181.00L841.00 185.09L841.30 187.90L841.40 188.80L841.80 192.59L842.20 196.45L842.60 200.03L843.00 203.02L843.40 205.07L843.50 205.40L843.80 206.24L844.20 207.29L844.60 208.23L845.00 209.06L845.40 209.76L845.80 210.30L846.20 210.68L846.60 210.87L846.80 210.90L847.00 210.89L847.40 210.81L847.80 210.66L848.20 210.46L848.60 210.22L849.00 209.95L849.40 209.68L849.80 209.41L850.20 209.15L850.60 208.93L851.00 208.76L851.20 208.70L851.40 208.65L851.80 208.55L852.20 208.48L852.60 208.41L853.00 208.35L853.40 208.29L853.80 208.24L854.20 208.18L854.60 208.11L855.00 208.04L855.40 207.96L855.80 207.86L856.00 207.80L856.20 207.73L856.60 207.55L857.00 207.33L857.40 207.08L857.80 206.83L858.20 206.60L858.20 206.60L858.60 206.40L859.00 206.21L859.40 206.02L859.80 205.79L860.20 205.50L860.20 205.50L860.60 204.92L861.00 204.23L861.30 204.00L861.40 204.02L861.80 204.40L862.20 204.78L862.30 204.80L862.60 204.62L863.00 203.87L863.40 202.71L863.80 201.29L864.20 199.76L864.60 198.27L864.80 197.60L865.00 196.95L865.40 195.63L865.80 194.27L866.20 192.88L866.60 191.44L867.00 189.97L867.40 188.47L867.80 186.93L868.20 185.36L868.60 183.76L869.00 182.13L869.20 181.30L869.40 180.45L869.80 178.66L870.20 176.76L870.60 174.81L871.00 172.84L871.40 170.89L871.80 168.98L872.20 167.17L872.50 165.90L872.60 165.48L873.00 163.74L873.40 161.93L873.80 160.13L874.20 158.40L874.60 156.83L875.00 155.49L875.40 154.45L875.80 153.80L875.80 153.80L876.20 153.37L876.60 152.99L877.00 152.68L877.40 152.44L877.80 152.32L878.00 152.30L878.20 152.34L878.60 152.63L879.00 153.18L879.40 153.94L879.80 154.88L880.20 155.94L880.60 157.10L880.60 157.10L881.00 158.77L881.40 161.24L881.80 164.25L882.20 167.55L882.60 170.89L882.80 172.50L883.00 174.08L883.40 177.29L883.80 180.64L884.20 184.20L884.60 188.03L885.00 192.20L885.00 192.20L885.40 197.41L885.80 203.58L886.20 209.64L886.60 214.50L886.70 215.40L887.00 217.72L887.40 220.40L887.80 222.72L888.20 224.78L888.60 226.70L889.00 228.60L889.00 228.60L889.40 230.50L889.80 232.33L890.20 234.10L890.60 235.79L891.00 237.40L891.40 238.92L891.80 240.36L892.20 241.70L892.20 241.70L892.60 243.00L893.00 244.30L893.40 245.57L893.80 246.77L894.20 247.88L894.60 248.87L895.00 249.71L895.40 250.37L895.50 250.50L895.80 250.87L896.20 251.36L896.60 251.81L897.00 252.23L897.40 252.58L897.80 252.87L898.20 253.08L898.60 253.19L898.80 253.20L899.00 253.20L899.40 253.17L899.80 253.13L900.20 253.08L900.60 253.02L901.00 252.95L901.40 252.88L901.80 252.82L902.20 252.77L902.60 252.73L903.00 252.70L903.20 252.70L903.40 252.70L903.80 252.70L904.20 252.70L904.60 252.70L905.00 252.70L905.40 252.70L905.80 252.70L906.20 252.70L906.50 252.70L906.60 252.70L907.00 252.81L907.40 253.03L907.80 253.32L908.20 253.64L908.60 253.96L909.00 254.23L909.40 254.43L909.80 254.50L909.80 254.50L910.20 254.19L910.60 253.36L911.00 252.14L911.40 250.67L911.80 249.09L912.00 248.30L912.20 247.29L912.60 244.36L913.00 241.35L913.40 239.59L913.50 239.50L913.80 240.00L914.20 241.83L914.60 244.36L915.00 246.87L915.30 248.30L915.40 248.68L915.80 250.29L916.20 251.89L916.60 253.31L917.00 254.36L917.40 254.88L917.50 254.90L917.80 254.90L918.20 254.87L918.60 254.84L919.00 254.79L919.40 254.74L919.80 254.68L920.20 254.61L920.60 254.54L920.80 254.50L921.00 254.46L921.40 254.34L921.80 254.19L922.20 254.02L922.60 253.82L923.00 253.62L923.40 253.42L923.80 253.22L924.20 253.04L924.60 252.88L925.00 252.75L925.20 252.70L925.40 252.66L925.80 252.58L926.20 252.50L926.60 252.43L927.00 252.37L927.40 252.31L927.80 252.26L928.20 252.21L928.60 252.16L929.00 252.11L929.40 252.07L929.80 252.02L930.20 251.98L930.60 251.93L931.00 251.88L931.40 251.83L931.80 251.77L932.20 251.71L932.60 251.65L932.90 251.60L933.00 251.58L933.40 251.51L933.80 251.44L934.20 251.36L934.60 251.29L935.00 251.21L935.40 251.12L935.80 251.04L936.20 250.95L936.60 250.86L937.00 250.77L937.40 250.67L937.80 250.57L938.20 250.47L938.60 250.36L939.00 250.25L939.40 250.13L939.50 250.10L939.80 250.01L940.20 249.87L940.60 249.73L941.00 249.58L941.40 249.42L941.80 249.26L942.20 249.09L942.60 248.91L943.00 248.72L943.40 248.53L943.80 248.34L944.20 248.14L944.60 247.93L945.00 247.73L945.40 247.52L945.80 247.31L946.00 247.20L946.20 247.09L946.60 246.85L947.00 246.59L947.40 246.32L947.80 246.03L948.20 245.73L948.60 245.42L949.00 245.11L949.40 244.80L949.80 244.50L950.20 244.20L950.60 243.92L951.00 243.65L951.40 243.40L951.80 243.17L952.20 242.97L952.60 242.80L952.60 242.80L953.00 242.67L953.40 242.56L953.80 242.44L953.90 242.40L954.20 242.28L954.60 242.09L955.00 241.88L955.40 241.65L955.80 241.40L956.20 241.13L956.60 240.86L957.00 240.58L957.40 240.29L957.80 240.01L958.20 239.72L958.60 239.44L959.00 239.17L959.40 238.91L959.80 238.67L960.10 238.50L960.20 238.45L960.60 238.24L961.00 238.04L961.40 237.85L961.80 237.67L962.20 237.50L962.60 237.33L963.00 237.16L963.40 236.99L963.80 236.81L964.20 236.62L964.60 236.43L965.00 236.22L965.40 236.00L965.80 235.76L966.20 235.50L966.20 235.50L966.60 235.21L967.00 234.89L967.40 234.53L967.80 234.15L968.20 233.74L968.60 233.31L969.00 232.87L969.40 232.42L969.80 231.95L970.20 231.49L970.60 231.03L970.80 230.80L971.00 230.57L971.40 230.11L971.80 229.65L972.20 229.19L972.60 228.71L973.00 228.22L973.40 227.72L973.80 227.20L974.20 226.65L974.60 226.08L975.00 225.49L975.40 224.86L975.50 224.70L975.80 224.20L976.20 223.49L976.60 222.75L977.00 221.96L977.40 221.14L977.80 220.27L978.20 219.38L978.60 218.45L979.00 217.49L979.40 216.50L979.80 215.48L980.10 214.70L980.20 214.43L980.60 213.33L981.00 212.15L981.40 210.91L981.80 209.62L982.20 208.29L982.60 206.91L983.00 205.51L983.40 204.09L983.80 202.66L983.90 202.30L984.20 201.23L984.60 199.79L985.00 198.34L985.40 196.85L985.80 195.29L986.20 193.64L986.60 191.89L987.00 190.00L987.00 190.00L987.40 187.82L987.80 185.32L988.20 182.67L988.60 180.03L989.00 177.57L989.10 177.00L989.40 175.32L989.80 173.07L990.20 170.94L990.60 169.01L991.00 167.40L991.00 167.40L991.40 166.00L991.80 164.68L992.20 163.51L992.60 162.59L993.00 162.00L993.00 162.00L993.40 161.61L993.80 161.27L994.20 160.98L994.60 160.76L995.00 160.63L995.30 160.60L995.40 160.61L995.80 160.74L996.20 161.04L996.60 161.45L997.00 161.97L997.40 162.55L997.80 163.16L998.20 163.77L998.60 164.36L998.70 164.50L999.00 164.93L999.40 165.55L999.80 166.23L1000.20 166.94L1000.60 167.67L1001.00 168.41L1001.40 169.14L1001.80 169.86L1002.20 170.55L1002.60 171.20L1002.60 171.20L1003.00 171.82L1003.40 172.43L1003.80 173.03L1004.20 173.63L1004.60 174.21L1005.00 174.78L1005.40 175.35L1005.80 175.90L1006.20 176.44L1006.60 176.97L1007.00 177.49L1007.40 178.00"/>
<path d="M704.60 365.66L705.00 365.04L705.40 364.69L705.80 364.44L706.20 364.27L706.60 363.61L707.00 362.88L707.00 362.88L707.40 362.10L707.80 361.63L708.20 361.27L708.60 360.95L709.00 360.47L709.40 359.99L709.80 359.71L709.80 359.71L710.20 359.82L710.60 360.21L711.00 360.62L711.40 360.76L711.50 360.69L711.80 360.31L712.20 359.46L712.60 358.59L713.00 358.23L713.30 358.19L713.40 358.22L713.80 358.31L714.20 358.02L714.60 357.76L715.00 357.50L715.40 357.69L715.80 357.88L716.20 358.06L716.60 357.92L717.00 357.71L717.40 357.49L717.80 357.49L717.90 357.50L718.20 357.46L718.60 357.20L719.00 356.60L719.40 355.88L719.50 355.72L719.80 355.25L720.20 354.84L720.60 354.61L721.00 354.34L721.40 353.83L721.40 353.83L721.80 352.90L722.20 351.81L722.60 350.76L723.00 350.08L723.40 349.44L723.80 348.85L724.20 348.05L724.30 347.88L724.60 347.44L725.00 346.93L725.40 346.86L725.80 346.78L726.20 346.67L726.60 346.15L726.60 346.15L727.00 345.45L727.40 344.60L727.80 343.87L728.20 343.12L728.60 342.32L728.90 341.56L729.00 341.26L729.40 339.82L729.80 338.18L730.20 336.68L730.60 335.49L731.00 334.56L731.20 334.24L731.40 333.85L731.80 333.12L732.20 332.48L732.60 331.87L732.90 331.51L733.00 331.34L733.40 330.30L733.80 328.83L734.20 326.85L734.60 324.93L734.70 324.49L735.00 323.19L735.40 321.88L735.80 320.56L736.20 319.19L736.40 318.32L736.60 317.40L737.00 315.65L737.40 313.81L737.80 311.97L738.00 310.91L738.20 309.53L738.60 305.67L739.00 301.11L739.30 298.00L739.40 297.09L739.80 293.66L740.20 290.44L740.60 287.23L740.80 285.60L741.00 283.88L741.40 280.23L741.80 276.69L742.20 273.78L742.30 273.20L742.60 271.71L743.00 270.05L743.40 268.63L743.80 267.31L744.20 265.96L744.60 264.43L744.70 264.00L745.00 262.67L745.40 260.84L745.80 258.94L746.20 256.95L746.60 254.86L747.00 252.65L747.40 250.33L747.70 248.50L747.80 247.87L748.20 245.17L748.60 242.23L749.00 239.11L749.40 235.86L749.80 232.52L750.10 230.00L750.20 229.14L750.60 225.40L751.00 221.50L751.40 217.88L751.60 216.30L751.80 214.83L752.20 211.97L752.60 209.26L753.00 206.78L753.40 204.60L753.80 202.79L753.90 202.40L754.20 201.27L754.60 199.78L755.00 198.38L755.40 197.16L755.80 196.22L756.20 195.64L756.50 195.50L756.60 195.55L757.00 196.53L757.40 198.47L757.80 200.90L757.80 200.90L758.20 205.84L758.50 208.60L758.60 208.78L759.00 209.22L759.40 209.43L759.80 209.70L760.10 210.10L760.20 210.39L760.60 212.90L760.90 214.80L761.00 215.27L761.40 217.22L761.80 218.96L762.20 220.04L762.40 220.20L762.60 220.20L763.00 220.20L763.40 220.20L763.80 220.20L764.20 220.20L764.30 220.20L764.60 220.96L765.00 223.76L765.20 225.60L765.40 229.42L765.80 243.32L766.20 254.10L766.30 254.70L766.60 254.53L767.00 253.98L767.40 253.31L767.80 253.02L767.80 253.02L768.20 253.42L768.60 254.38L769.00 255.39L769.40 256.23L769.80 256.99L770.10 257.52L770.20 257.74L770.60 258.47L771.00 259.13L771.40 259.74L771.70 260.16L771.80 260.42L772.20 262.80L772.60 266.68L773.00 271.27L773.20 273.30L773.40 275.40L773.80 280.03L774.20 282.96L774.40 283.32L774.60 282.77L775.00 280.27L775.40 278.58L775.50 278.52L775.80 278.68L776.20 278.92L776.60 278.85L777.00 278.77L777.40 278.71L777.80 278.98L777.80 278.98L778.20 279.45L778.60 280.10L779.00 280.52L779.40 280.82L779.40 280.82L779.80 281.36L780.20 282.51L780.60 284.09L781.00 285.65L781.40 286.79L781.70 287.17L781.80 287.25L782.20 287.56L782.60 287.92L783.00 288.48L783.20 288.66L783.40 288.71L783.80 288.28L784.20 286.95L784.60 285.50L785.00 284.17L785.40 283.82L785.60 283.87L785.80 284.18L786.20 285.59L786.60 287.26L787.00 289.05L787.40 290.54L787.80 291.55L787.90 291.65L788.20 291.46L788.60 290.35L789.00 288.42L789.40 286.31L789.80 284.70L790.10 284.27L790.20 284.34L790.60 284.66L791.00 285.07L791.40 285.32L791.80 285.27L792.20 285.18L792.60 285.20L793.00 285.58L793.00 285.58L793.40 285.70L793.80 285.45L794.20 284.58L794.60 283.77L795.00 283.22L795.10 283.26L795.40 283.50L795.80 283.94L796.20 284.47L796.60 284.51L797.00 284.40L797.30 284.22L797.40 284.12L797.80 283.70L798.20 282.90L798.60 281.86L799.00 280.49L799.40 279.27L799.50 279.07L799.80 278.51L800.20 278.07L800.60 277.94L801.00 277.90L801.40 277.78L801.70 277.54L801.80 277.58L802.20 279.25L802.60 282.04L803.00 284.23L803.10 284.39L803.40 284.43L803.80 284.08L804.20 283.06L804.60 282.06L805.00 281.30L805.20 281.40L805.40 281.79L805.80 283.58L806.20 286.08L806.60 287.88L806.90 288.63L807.00 288.75L807.40 288.96L807.80 289.43L808.20 290.12L808.60 291.13L808.70 291.46L809.00 294.58L809.40 301.95L809.60 304.83L809.80 306.87L810.20 310.28L810.30 310.90L810.60 312.33L811.00 313.71L811.30 314.60L811.40 314.89L811.80 315.94L812.20 316.88L812.60 317.82L813.00 318.90L813.00 318.90L813.40 320.33L813.80 322.02L814.20 323.63L814.60 324.81L814.70 325.00L815.00 325.44L815.40 325.90L815.80 326.26L816.20 326.58L816.60 326.89L817.00 327.26L817.30 327.60L817.40 327.73L817.80 328.42L818.20 329.27L818.60 330.16L819.00 330.96L819.40 331.58L819.80 331.89L819.90 331.90L820.20 331.89L820.60 331.83L821.00 331.72L821.40 331.59L821.80 331.43L822.20 331.25L822.50 331.10L822.60 331.05L823.00 330.77L823.40 330.38L823.80 329.90L824.20 329.33L824.60 328.68L825.00 327.96L825.40 327.18L825.80 326.34L826.00 325.90L826.20 325.42L826.60 324.28L827.00 322.89L827.40 321.30L827.80 319.52L828.20 317.57L828.60 315.50L828.60 315.50L829.00 313.17L829.40 310.46L829.80 307.43L830.20 304.09L830.60 300.50L831.00 296.68L831.20 294.70L831.40 292.64L831.80 288.20L832.20 283.33L832.60 278.06L833.00 272.40L833.40 266.38L833.80 260.00L833.80 260.00L834.20 251.52L834.60 240.75L835.00 230.10L835.40 221.95L835.80 218.70L835.80 218.70L836.20 220.15L836.60 223.94L837.00 229.26L837.40 235.30L837.80 241.23L838.00 243.90L838.20 246.49L838.60 252.01L839.00 257.78L839.40 263.55L839.80 269.08L839.90 270.40L840.20 274.51L840.60 280.24L841.00 285.57L841.40 289.76L841.60 291.20L841.80 292.32L842.20 294.28L842.60 295.92L843.00 297.31L843.40 298.53L843.80 299.63L844.20 300.70L844.20 300.70L844.60 301.83L845.00 302.98L845.40 304.03L845.80 304.86L846.20 305.33L846.40 305.40L846.60 305.37L847.00 305.15L847.40 304.76L847.80 304.27L848.20 303.74L848.60 303.23L849.00 302.79L849.40 302.50L849.40 302.50L849.80 302.33L850.20 302.20L850.60 302.09L851.00 301.98L851.40 301.86L851.80 301.70L852.00 301.60L852.20 301.47L852.60 301.08L853.00 300.55L853.40 299.92L853.80 299.23L854.20 298.51L854.60 297.79L855.00 297.12L855.40 296.53L855.50 296.40L855.80 296.03L856.20 295.57L856.60 295.13L857.00 294.71L857.40 294.30L857.80 293.89L858.20 293.47L858.60 293.03L859.00 292.57L859.30 292.20L859.40 292.07L859.80 291.58L860.20 291.09L860.60 290.55L861.00 289.94L861.40 289.21L861.50 289.00L861.80 288.27L862.20 287.02L862.60 285.49L863.00 283.75L863.40 281.85L863.80 279.84L864.20 277.78L864.60 275.72L864.80 274.70L865.00 273.67L865.40 271.46L865.80 269.10L866.20 266.63L866.60 264.10L867.00 261.56L867.40 259.06L867.80 256.64L868.10 254.90L868.20 254.33L868.60 252.04L869.00 249.73L869.40 247.43L869.80 245.18L870.20 243.00L870.60 240.94L871.00 239.03L871.40 237.30L871.40 237.30L871.80 235.66L872.20 234.04L872.60 232.47L873.00 230.98L873.40 229.61L873.80 228.39L874.20 227.37L874.60 226.56L874.70 226.40L875.00 225.94L875.40 225.35L875.80 224.79L876.20 224.29L876.60 223.85L877.00 223.50L877.40 223.25L877.80 223.12L878.00 223.10L878.20 223.14L878.60 223.47L879.00 224.08L879.40 224.94L879.80 226.01L880.20 227.24L880.60 228.60L880.60 228.60L881.00 230.72L881.40 233.96L881.80 237.86L882.20 241.94L882.40 243.90L882.60 245.86L883.00 250.01L883.40 254.41L883.80 258.96L884.20 263.55L884.60 268.10L884.60 268.10L885.00 272.71L885.40 277.45L885.80 282.20L886.20 286.81L886.60 291.17L886.70 292.20L887.00 295.29L887.40 299.44L887.80 303.47L888.20 307.22L888.60 310.52L889.00 313.20L889.00 313.20L889.40 315.40L889.80 317.39L890.20 319.19L890.60 320.83L891.00 322.35L891.40 323.76L891.80 325.10L892.20 326.40L892.20 326.40L892.60 327.70L893.00 329.01L893.40 330.28L893.80 331.49L894.20 332.60L894.60 333.58L895.00 334.39L895.40 334.99L895.50 335.10L895.80 335.42L896.20 335.82L896.60 336.19L897.00 336.53L897.40 336.81L897.80 337.04L898.20 337.20L898.60 337.29L898.80 337.30L899.00 337.28L899.40 337.15L899.80 336.91L900.20 336.60L900.60 336.25L901.00 335.89L901.40 335.55L901.80 335.26L902.10 335.10L902.20 335.06L902.60 334.87L903.00 334.69L903.40 334.51L903.80 334.35L904.20 334.21L904.60 334.10L905.00 334.03L905.40 334.00L905.40 334.00L905.80 334.06L906.20 334.24L906.60 334.48L907.00 334.76L907.40 335.05L907.80 335.31L908.20 335.50L908.60 335.60L908.70 335.60L909.00 335.22L909.40 333.72L909.80 331.43L910.20 328.74L910.60 326.02L910.90 324.20L911.00 323.61L911.40 320.80L911.80 317.63L912.20 314.61L912.60 312.25L913.00 311.06L913.10 311.00L913.40 311.56L913.80 313.75L914.20 317.01L914.60 320.72L915.00 324.25L915.30 326.40L915.40 327.03L915.80 329.73L916.20 332.51L916.60 335.06L917.00 337.09L917.40 338.27L917.50 338.40L917.80 338.66L918.20 338.96L918.60 339.20L919.00 339.38L919.40 339.48L919.70 339.50L919.80 339.50L920.20 339.45L920.60 339.35L921.00 339.20L921.40 339.02L921.80 338.82L922.20 338.60L922.60 338.39L923.00 338.19L923.40 338.02L923.80 337.88L924.10 337.80L924.20 337.78L924.60 337.70L925.00 337.63L925.40 337.57L925.80 337.51L926.20 337.45L926.60 337.40L927.00 337.36L927.40 337.31L927.80 337.27L928.20 337.22L928.60 337.18L929.00 337.13L929.40 337.08L929.80 337.03L930.20 336.98L930.60 336.92L930.70 336.90L931.00 336.85L931.40 336.78L931.80 336.71L932.20 336.64L932.60 336.57L933.00 336.49L933.40 336.42L933.80 336.34L934.20 336.26L934.60 336.17L935.00 336.09L935.40 336.01L935.80 335.92L936.20 335.84L936.60 335.75L937.00 335.67L937.30 335.60L937.40 335.58L937.80 335.49L938.20 335.40L938.60 335.31L939.00 335.22L939.40 335.13L939.80 335.04L940.20 334.95L940.60 334.85L941.00 334.76L941.40 334.66L941.80 334.56L942.20 334.46L942.60 334.35L943.00 334.25L943.40 334.14L943.80 334.03L943.90 334.00L944.20 333.91L944.60 333.80L945.00 333.68L945.40 333.56L945.80 333.43L946.20 333.31L946.60 333.18L947.00 333.04L947.40 332.91L947.80 332.77L948.20 332.63L948.60 332.49L949.00 332.34L949.40 332.19L949.80 332.04L950.20 331.88L950.40 331.80L950.60 331.72L951.00 331.55L951.40 331.37L951.80 331.18L952.20 330.98L952.60 330.77L953.00 330.57L953.40 330.36L953.80 330.14L954.20 329.93L954.60 329.72L955.00 329.52L955.40 329.32L955.80 329.13L956.20 328.94L956.60 328.76L957.00 328.60L957.00 328.60L957.40 328.45L957.80 328.30L958.20 328.17L958.60 328.04L959.00 327.92L959.40 327.80L959.80 327.68L960.20 327.57L960.60 327.45L961.00 327.33L961.40 327.21L961.80 327.08L962.20 326.95L962.60 326.80L963.00 326.65L963.40 326.49L963.60 326.40L963.80 326.31L964.20 326.13L964.60 325.94L965.00 325.75L965.40 325.55L965.80 325.34L966.20 325.12L966.60 324.90L967.00 324.66L967.40 324.41L967.80 324.15L968.20 323.87L968.60 323.58L969.00 323.28L969.40 322.96L969.80 322.63L970.20 322.27L970.60 321.90L971.00 321.51L971.40 321.10L971.40 321.10L971.80 320.63L972.20 320.08L972.60 319.45L973.00 318.74L973.40 317.98L973.80 317.16L974.20 316.30L974.60 315.41L975.00 314.48L975.40 313.54L975.80 312.58L976.00 312.10L976.20 311.61L976.60 310.56L977.00 309.45L977.40 308.27L977.80 307.04L978.20 305.77L978.60 304.47L979.00 303.17L979.40 301.85L979.60 301.20L979.80 300.55L980.20 299.24L980.60 297.92L981.00 296.57L981.40 295.20L981.80 293.80L982.20 292.35L982.60 290.85L983.00 289.30L983.20 288.50L983.40 287.68L983.80 285.96L984.20 284.16L984.60 282.28L985.00 280.36L985.40 278.39L985.80 276.40L985.90 275.90L986.20 274.36L986.60 272.22L987.00 270.02L987.40 267.79L987.80 265.58L988.20 263.44L988.60 261.40L988.60 261.40L989.00 259.37L989.40 257.27L989.80 255.19L990.20 253.21L990.60 251.41L991.00 249.88L991.40 248.70L991.40 248.70L991.80 247.73L992.20 246.79L992.60 245.92L993.00 245.19L993.40 244.62L993.80 244.28L994.10 244.20L994.20 244.21L994.60 244.34L995.00 244.62L995.40 245.04L995.80 245.56L996.20 246.16L996.60 246.81L997.00 247.50L997.40 248.19L997.70 248.70L997.80 248.87L998.20 249.65L998.60 250.55L999.00 251.55L999.40 252.62L999.80 253.72L1000.20 254.83L1000.60 255.93L1001.00 256.97L1001.30 257.70L1001.40 257.94L1001.80 258.92L1002.20 259.95L1002.60 260.99L1003.00 262.01L1003.40 262.99L1003.80 263.90L1004.20 264.70L1004.60 265.38L1005.00 265.90L1005.00 265.90L1005.40 266.32L1005.80 266.72L1006.20 267.07L1006.60 267.36L1007.00 267.58L1007.40 267.70"/>
<path d="M704.60 434.26L705.00 433.67L705.40 433.34L705.80 433.10L706.20 432.92L706.50 432.43L706.60 432.24L707.00 431.49L707.40 430.72L707.80 430.31L708.10 430.07L708.20 429.99L708.60 429.59L709.00 428.90L709.40 428.12L709.50 427.93L709.80 427.39L710.20 426.87L710.60 426.63L711.00 426.53L711.00 426.53L711.40 426.34L711.80 425.85L712.20 425.39L712.60 425.10L713.00 425.21L713.00 425.21L713.40 425.33L713.80 425.40L714.20 425.09L714.60 424.81L715.00 424.56L715.00 424.56L715.40 424.78L715.80 424.99L716.20 425.20L716.60 425.09L717.00 424.93L717.40 424.78L717.80 424.86L718.20 425.03L718.50 425.15L718.60 425.18L719.00 424.80L719.40 424.00L719.80 423.11L720.00 422.69L720.20 422.48L720.60 421.99L721.00 421.44L721.40 420.63L721.40 420.63L721.80 419.40L722.20 418.02L722.60 416.74L723.00 415.91L723.10 415.72L723.40 415.19L723.80 414.47L724.20 413.39L724.60 412.31L724.90 411.49L725.00 411.22L725.40 410.51L725.80 409.81L726.20 409.11L726.60 408.08L727.00 406.97L727.20 406.40L727.40 405.81L727.80 404.85L728.20 403.92L728.60 402.97L729.00 401.78L729.40 400.43L729.80 399.06L730.20 397.88L730.40 397.38L730.60 396.88L731.00 395.88L731.40 394.68L731.80 393.19L732.20 391.67L732.60 390.20L733.00 388.98L733.40 387.71L733.70 386.70L733.80 386.31L734.20 384.50L734.60 382.62L735.00 380.66L735.40 379.03L735.80 377.32L736.20 375.51L736.60 373.26L737.00 370.98L737.00 370.98L737.40 368.66L737.80 366.30L738.20 363.78L738.60 361.20L739.00 358.63L739.10 358.00L739.40 356.15L739.80 353.76L740.20 351.36L740.60 348.86L741.00 346.14L741.30 343.90L741.40 343.09L741.80 339.37L742.20 335.13L742.60 330.72L743.00 326.49L743.40 322.80L743.50 322.00L743.80 319.87L744.20 317.41L744.60 315.14L745.00 312.76L745.40 310.00L745.40 310.00L745.80 306.62L746.20 302.76L746.60 298.73L747.00 294.80L747.00 294.80L747.40 290.99L747.80 287.14L748.20 283.30L748.60 279.52L749.00 275.85L749.30 273.20L749.40 272.34L749.80 268.95L750.20 265.65L750.60 262.44L751.00 259.30L751.40 256.22L751.60 254.70L751.80 253.09L752.20 249.61L752.60 246.40L753.00 244.20L753.10 243.90L753.40 243.21L753.80 242.43L754.20 241.87L754.60 241.61L754.70 241.60L755.00 241.62L755.40 241.71L755.80 241.87L756.20 242.09L756.50 242.30L756.60 242.41L757.00 243.59L757.40 245.71L757.80 248.50L757.80 248.50L758.20 255.33L758.60 264.93L759.00 270.10L759.00 270.10L759.40 270.44L759.80 270.63L760.10 270.90L760.20 271.21L760.60 275.33L761.00 281.68L761.40 287.16L761.60 288.60L761.80 289.36L762.20 290.59L762.60 291.51L763.00 292.21L763.20 292.50L763.40 292.74L763.80 293.03L764.20 293.30L764.60 293.81L764.70 294.00L765.00 298.96L765.40 310.92L765.50 313.20L765.80 319.34L766.20 326.89L766.60 330.70L766.60 330.70L767.00 331.37L767.40 331.69L767.80 331.94L768.20 332.34L768.60 332.96L768.80 333.33L769.00 333.54L769.40 333.97L769.80 334.56L770.20 335.58L770.60 337.05L771.00 338.67L771.00 338.67L771.40 340.52L771.80 342.60L772.20 345.06L772.60 347.88L773.00 351.22L773.20 352.82L773.40 354.60L773.80 358.55L774.20 360.58L774.30 360.62L774.60 359.56L775.00 356.95L775.40 355.85L775.40 355.85L775.80 356.11L776.20 356.41L776.60 356.37L777.00 356.32L777.40 356.31L777.80 356.69L778.20 357.23L778.60 357.80L778.70 357.95L779.00 358.24L779.40 359.06L779.80 360.21L780.20 361.68L780.60 363.14L780.90 363.82L781.00 363.96L781.40 364.29L781.80 364.21L782.20 364.10L782.60 364.11L783.00 364.55L783.40 364.96L783.80 365.25L784.20 364.90L784.20 364.90L784.60 364.05L785.00 362.51L785.40 361.36L785.80 360.32L786.20 359.77L786.40 359.59L786.60 359.71L787.00 361.07L787.40 363.31L787.80 366.10L788.20 368.48L788.60 369.61L788.60 369.61L789.00 368.94L789.40 367.23L789.80 365.15L790.20 363.49L790.60 362.72L790.80 362.71L791.00 362.90L791.40 363.30L791.80 363.52L792.20 363.78L792.60 364.09L793.00 364.66L793.00 364.66L793.40 364.84L793.80 364.63L794.20 363.71L794.60 362.86L795.00 362.27L795.10 362.32L795.40 362.64L795.80 363.34L796.20 364.19L796.60 364.48L797.00 364.53L797.30 364.36L797.40 364.26L797.80 364.32L798.20 364.42L798.60 364.42L799.00 363.92L799.40 363.16L799.80 362.48L800.00 362.18L800.20 362.21L800.60 362.26L801.00 362.33L801.40 362.25L801.70 361.98L801.80 361.96L802.20 362.73L802.60 364.44L803.00 366.60L803.40 367.97L803.50 368.10L803.80 368.17L804.20 367.58L804.60 366.94L805.00 366.39L805.20 366.55L805.40 366.89L805.80 368.26L806.20 370.16L806.60 371.46L806.90 372.14L807.00 372.29L807.40 372.73L807.80 373.57L808.20 374.71L808.60 376.24L808.70 376.71L809.00 379.08L809.40 383.84L809.60 385.72L809.80 387.10L810.20 389.65L810.30 390.21L810.60 391.66L811.00 393.15L811.30 393.83L811.40 393.94L811.80 394.33L812.20 394.68L812.60 395.02L813.00 395.50L813.00 395.50L813.40 396.32L813.80 397.44L814.20 398.61L814.60 399.61L814.70 399.80L815.00 400.32L815.40 400.94L815.80 401.50L816.20 402.01L816.60 402.49L817.00 402.96L817.30 403.30L817.40 403.42L817.80 403.93L818.20 404.46L818.60 404.97L819.00 405.41L819.40 405.74L819.80 405.89L819.90 405.90L820.20 405.86L820.60 405.71L821.00 405.47L821.40 405.15L821.80 404.79L822.20 404.40L822.50 404.10L822.60 404.00L823.00 403.54L823.40 403.00L823.80 402.37L824.20 401.67L824.60 400.88L825.00 400.03L825.10 399.80L825.40 399.06L825.80 397.92L826.20 396.60L826.60 395.12L827.00 393.49L827.40 391.72L827.70 390.30L827.80 389.80L828.20 387.48L828.60 384.78L829.00 381.84L829.40 378.84L829.50 378.10L829.80 375.83L830.20 372.68L830.60 369.39L831.00 366.02L831.20 364.30L831.40 362.64L831.80 359.49L832.20 356.19L832.60 352.30L832.90 348.70L833.00 347.26L833.40 339.47L833.80 329.79L834.20 320.00L834.20 320.00L834.60 308.23L835.00 296.80L835.30 293.30L835.40 293.55L835.80 298.49L836.20 306.90L836.60 315.00L836.60 315.00L837.00 321.85L837.40 328.80L837.80 335.45L838.10 340.00L838.20 341.43L838.60 347.07L839.00 352.43L839.40 357.32L839.80 361.56L839.90 362.50L840.20 365.17L840.60 368.47L841.00 371.37L841.40 373.74L841.60 374.70L841.80 375.55L842.20 377.15L842.60 378.58L843.00 379.84L843.40 380.93L843.80 381.81L844.20 382.50L844.20 382.50L844.60 383.08L845.00 383.60L845.40 384.00L845.80 384.19L845.90 384.20L846.20 384.13L846.60 383.87L847.00 383.47L847.40 382.97L847.80 382.44L848.20 381.93L848.50 381.60L848.60 381.50L849.00 381.11L849.40 380.73L849.80 380.36L850.20 379.98L850.60 379.60L851.00 379.20L851.40 378.78L851.80 378.33L852.00 378.10L852.20 377.86L852.60 377.35L853.00 376.82L853.40 376.27L853.80 375.69L854.20 375.08L854.60 374.44L855.00 373.77L855.40 373.08L855.50 372.90L855.80 372.33L856.20 371.50L856.60 370.59L857.00 369.62L857.40 368.61L857.80 367.58L858.20 366.54L858.60 365.51L859.00 364.52L859.40 363.56L859.80 362.68L860.20 361.87L860.40 361.50L860.60 361.17L861.00 360.59L861.40 360.08L861.80 359.56L862.20 358.96L862.60 358.20L862.60 358.20L863.00 357.14L863.40 355.75L863.80 354.10L864.20 352.25L864.60 350.28L865.00 348.26L865.40 346.26L865.80 344.35L865.90 343.90L866.20 342.56L866.60 340.76L867.00 338.96L867.40 337.14L867.80 335.29L868.20 333.43L868.60 331.53L869.00 329.59L869.20 328.60L869.40 327.60L869.80 325.59L870.20 323.55L870.60 321.48L871.00 319.36L871.40 317.20L871.80 315.00L872.20 312.73L872.50 311.00L872.60 310.41L873.00 308.03L873.40 305.57L873.80 303.04L874.20 300.41L874.60 297.69L874.70 297.00L875.00 294.71L875.40 291.22L875.80 287.59L876.20 284.20L876.60 281.44L876.90 280.00L877.00 279.63L877.40 278.21L877.80 276.91L878.20 275.84L878.60 275.07L879.00 274.72L879.10 274.70L879.40 274.91L879.80 275.81L880.20 277.30L880.60 279.26L881.00 281.59L881.30 283.50L881.40 284.26L881.80 288.94L882.20 295.18L882.50 300.00L882.60 301.62L883.00 308.91L883.40 316.07L883.50 317.60L883.80 321.83L884.20 327.04L884.60 331.86L885.00 336.39L885.40 340.72L885.70 343.90L885.80 344.95L886.20 349.11L886.60 353.14L887.00 356.97L887.40 360.51L887.80 363.70L887.80 363.70L888.20 366.60L888.60 369.35L889.00 371.95L889.40 374.41L889.80 376.74L890.20 378.94L890.60 381.03L891.00 383.02L891.10 383.50L891.40 384.93L891.80 386.80L892.20 388.61L892.60 390.34L893.00 391.98L893.40 393.49L893.80 394.86L894.20 396.07L894.40 396.60L894.60 397.11L895.00 398.14L895.40 399.15L895.80 400.11L896.20 400.97L896.60 401.70L897.00 402.28L897.40 402.66L897.70 402.80L897.80 402.82L898.20 402.91L898.60 402.98L899.00 403.05L899.40 403.10L899.80 403.14L900.20 403.17L900.60 403.19L901.00 403.20L901.00 403.20L901.40 403.07L901.80 402.71L902.20 402.21L902.60 401.62L903.00 401.03L903.40 400.50L903.80 400.10L904.20 399.91L904.30 399.90L904.60 399.90L905.00 399.90L905.40 399.90L905.80 399.90L906.20 399.90L906.60 399.90L907.00 399.90L907.40 399.90L907.60 399.90L907.80 399.84L908.20 399.35L908.60 398.48L909.00 397.30L909.40 395.91L909.80 394.40L909.80 394.40L910.20 392.25L910.60 389.23L911.00 385.89L911.30 383.50L911.40 382.71L911.80 378.90L912.20 374.81L912.60 371.39L913.00 369.59L913.10 369.50L913.40 370.17L913.80 372.73L914.20 376.48L914.60 380.62L914.90 383.50L915.00 384.44L915.40 388.90L915.80 393.65L916.20 397.54L916.40 398.80L916.60 399.74L917.00 401.49L917.40 403.00L917.80 404.21L918.20 405.03L918.60 405.40L918.60 405.40L919.00 405.52L919.40 405.61L919.80 405.70L920.20 405.77L920.60 405.82L921.00 405.86L921.40 405.89L921.80 405.90L921.90 405.90L922.20 405.89L922.60 405.87L923.00 405.83L923.40 405.78L923.80 405.72L924.20 405.65L924.60 405.57L925.00 405.49L925.40 405.41L925.80 405.33L926.20 405.25L926.60 405.18L927.00 405.12L927.40 405.07L927.80 405.03L928.20 405.01L928.50 405.00L928.60 405.00L929.00 405.00L929.40 405.00L929.80 405.00L930.20 405.00L930.60 405.00L931.00 405.00L931.40 405.00L931.80 405.00L932.20 405.00L932.60 405.00L933.00 405.00L933.40 405.00L933.80 405.00L934.20 405.00L934.60 405.00L935.00 405.00L935.40 405.00L935.80 405.00L936.20 405.00L936.60 405.00L937.00 405.00L937.30 405.00L937.40 405.00L937.80 404.99L938.20 404.97L938.60 404.93L939.00 404.89L939.40 404.84L939.80 404.77L940.20 404.70L940.60 404.62L941.00 404.53L941.40 404.44L941.80 404.34L942.20 404.24L942.60 404.14L943.00 404.03L943.40 403.92L943.80 403.80L944.20 403.69L944.60 403.58L945.00 403.47L945.40 403.36L945.80 403.25L946.00 403.20L946.20 403.15L946.60 403.03L947.00 402.91L947.40 402.77L947.80 402.63L948.20 402.49L948.60 402.34L949.00 402.18L949.40 402.03L949.80 401.88L950.20 401.73L950.60 401.59L951.00 401.45L951.40 401.32L951.80 401.20L952.20 401.10L952.60 401.00L952.60 401.00L953.00 400.92L953.40 400.84L953.80 400.77L954.20 400.71L954.60 400.65L955.00 400.59L955.40 400.54L955.80 400.49L956.20 400.43L956.60 400.38L957.00 400.32L957.40 400.26L957.80 400.19L958.20 400.12L958.60 400.04L959.00 399.95L959.20 399.90L959.40 399.85L959.80 399.73L960.20 399.59L960.60 399.44L961.00 399.28L961.40 399.10L961.80 398.91L962.20 398.70L962.60 398.49L963.00 398.27L963.40 398.04L963.80 397.81L964.20 397.57L964.60 397.33L965.00 397.09L965.40 396.84L965.80 396.60L965.80 396.60L966.20 396.35L966.60 396.10L967.00 395.83L967.40 395.56L967.80 395.27L968.20 394.98L968.60 394.67L969.00 394.35L969.40 394.01L969.80 393.66L970.20 393.30L970.20 393.30L970.60 392.92L971.00 392.51L971.40 392.09L971.80 391.64L972.20 391.18L972.60 390.69L973.00 390.18L973.40 389.64L973.80 389.08L974.20 388.50L974.60 387.90L974.60 387.90L975.00 387.27L975.40 386.61L975.80 385.91L976.20 385.16L976.60 384.36L977.00 383.50L977.40 382.57L977.80 381.56L977.90 381.30L978.20 380.44L978.60 379.15L979.00 377.69L979.40 376.11L979.80 374.42L980.20 372.66L980.60 370.85L981.00 369.02L981.20 368.10L981.40 367.17L981.80 365.23L982.20 363.20L982.60 361.09L983.00 358.92L983.40 356.71L983.80 354.46L984.20 352.20L984.50 350.50L984.60 349.93L985.00 347.60L985.40 345.20L985.80 342.75L986.20 340.28L986.60 337.82L987.00 335.38L987.40 333.00L987.80 330.70L987.80 330.70L988.20 328.40L988.60 326.05L989.00 323.69L989.40 321.38L989.80 319.15L990.20 317.08L990.60 315.20L991.00 313.56L991.10 313.20L991.40 312.12L991.80 310.64L992.20 309.18L992.60 307.81L993.00 306.59L993.40 305.58L993.80 304.85L994.20 304.45L994.40 304.40L994.60 304.41L995.00 304.50L995.40 304.67L995.80 304.90L996.20 305.18L996.60 305.50L996.60 305.50L997.00 306.07L997.40 307.04L997.80 308.33L998.20 309.84L998.60 311.47L999.00 313.14L999.40 314.74L999.80 316.18L999.90 316.50L1000.20 317.46L1000.60 318.75L1001.00 320.05L1001.40 321.34L1001.80 322.59L1002.20 323.78L1002.60 324.90L1003.00 325.93L1003.20 326.40L1003.40 326.85L1003.80 327.74L1004.20 328.60L1004.60 329.43L1005.00 330.23L1005.40 330.98L1005.80 331.69L1006.20 332.35L1006.60 332.96L1007.00 333.51L1007.40 334.00"/>
<path d="M704.60 452.15L705.00 451.84L705.40 451.86L705.80 452.00L706.20 452.23L706.60 451.88L707.00 451.45L707.40 451.02L707.80 451.06L708.20 451.26L708.60 451.46L709.00 451.38L709.40 451.12L709.80 450.87L710.20 450.88L710.60 451.14L711.00 451.40L711.40 451.43L711.60 451.25L711.80 451.07L712.20 450.71L712.60 450.51L713.00 450.80L713.40 451.09L713.80 451.31L714.20 451.06L714.60 450.82L715.00 450.57L715.40 450.85L715.80 451.12L716.20 451.39L716.60 451.27L717.00 451.10L717.40 450.92L717.80 451.03L718.20 451.23L718.50 451.38L718.60 451.43L719.00 451.35L719.40 451.09L719.80 450.80L720.20 450.73L720.60 450.87L721.00 451.01L721.40 450.93L721.80 450.50L722.20 450.08L722.60 449.82L723.00 450.04L723.10 450.10L723.40 450.28L723.80 450.45L724.20 450.14L724.60 449.84L725.00 449.54L725.40 449.68L725.80 449.82L726.20 449.96L726.60 449.73L727.00 449.45L727.40 449.15L727.70 449.12L727.80 449.13L728.20 449.20L728.60 449.25L729.00 449.05L729.40 448.69L729.80 448.32L730.20 448.19L730.60 448.30L731.00 448.42L731.40 448.33L731.80 447.92L732.20 447.51L732.40 447.31L732.60 447.23L733.00 447.32L733.40 447.40L733.80 447.43L734.20 447.05L734.60 446.67L735.00 446.28L735.40 446.38L735.80 446.47L736.20 446.56L736.60 446.18L737.00 445.74L737.40 445.29L737.80 445.23L738.20 445.31L738.20 445.31L738.60 445.38L739.00 445.17L739.40 444.78L739.80 444.40L740.20 444.26L740.60 444.36L741.00 444.47L741.40 444.39L741.80 444.01L742.20 443.62L742.60 443.34L743.00 443.37L743.40 443.39L743.80 443.33L743.90 443.21L744.20 442.83L744.60 442.30L745.00 441.74L745.40 441.71L745.80 441.64L746.20 441.55L746.60 440.91L746.80 440.55L747.00 440.16L747.40 439.33L747.80 438.89L748.20 438.55L748.60 438.17L749.00 437.45L749.40 436.52L749.70 435.85L749.80 435.63L750.20 434.99L750.60 434.57L751.00 434.15L751.40 433.51L751.80 432.50L752.20 431.51L752.60 430.70L753.00 430.42L753.20 430.29L753.40 430.16L753.80 429.84L754.20 428.98L754.60 428.14L755.00 427.31L755.40 427.04L755.80 426.80L756.20 426.57L756.60 425.83L756.60 425.83L757.00 425.00L757.40 424.16L757.80 423.80L758.20 423.61L758.60 423.46L759.00 423.01L759.40 422.42L759.80 421.92L760.10 421.75L760.20 421.80L760.60 421.99L761.00 422.22L761.40 422.25L761.80 421.94L762.20 421.62L762.60 421.42L763.00 421.61L763.00 421.61L763.40 421.64L763.80 421.41L764.20 420.64L764.60 420.05L764.70 419.95L765.00 420.40L765.40 423.23L765.80 426.68L766.20 429.51L766.50 430.06L766.60 429.98L767.00 429.55L767.40 429.01L767.80 428.83L768.20 428.76L768.60 428.70L769.00 428.37L769.40 427.94L769.40 427.94L769.80 427.57L770.20 427.44L770.60 427.55L771.00 427.69L771.40 427.65L771.80 427.31L772.20 427.00L772.30 426.93L772.60 427.10L773.00 428.27L773.40 429.78L773.80 431.24L774.20 431.88L774.60 431.97L774.60 431.97L775.00 431.39L775.40 430.84L775.80 430.07L776.20 429.28L776.60 428.35L776.90 427.89L777.00 427.78L777.40 427.39L777.80 427.36L778.20 427.46L778.60 427.58L779.00 427.37L779.40 426.95L779.80 426.51L780.00 426.27L780.20 426.30L780.60 426.31L781.00 426.27L781.40 426.00L781.80 425.42L782.20 424.88L782.60 424.55L783.00 424.72L783.10 424.79L783.40 425.01L783.80 425.26L784.20 425.02L784.60 424.81L785.00 424.64L785.40 425.09L785.80 425.57L786.20 426.07L786.40 426.15L786.60 426.29L787.00 427.07L787.40 428.23L787.80 429.76L788.20 431.08L788.60 431.75L788.60 431.75L789.00 431.48L789.40 430.75L789.80 429.90L790.20 429.34L790.60 429.23L790.80 429.30L791.00 429.43L791.40 429.56L791.80 429.43L792.20 429.34L792.60 429.41L793.00 429.93L793.40 430.41L793.80 430.75L794.00 430.64L794.20 430.50L794.60 430.21L795.00 429.89L795.40 430.05L795.80 430.20L796.20 430.35L796.60 430.03L797.00 429.67L797.30 429.42L797.40 429.35L797.80 429.56L798.20 429.98L798.60 430.43L799.00 430.52L799.40 430.39L799.80 430.26L800.20 430.41L800.60 430.82L800.60 430.82L801.00 431.24L801.40 431.51L801.80 431.48L802.20 431.46L802.60 431.58L803.00 432.07L803.40 432.54L803.80 432.91L803.90 432.88L804.20 432.76L804.60 432.59L805.00 432.40L805.40 432.84L805.80 433.29L806.20 433.74L806.60 433.63L807.00 433.45L807.20 433.38L807.40 433.32L807.80 433.73L808.20 434.38L808.60 435.08L809.00 435.49L809.40 435.72L809.80 435.91L810.20 436.31L810.50 436.75L810.60 436.88L811.00 437.40L811.40 437.69L811.80 437.61L812.20 437.52L812.60 437.55L813.00 438.00L813.40 438.45L813.80 438.85L813.80 438.85L814.20 438.85L814.60 438.84L815.00 438.83L815.40 439.31L815.80 439.78L816.20 440.26L816.60 440.27L817.00 440.21L817.40 440.14L817.80 440.47L818.20 440.93L818.20 440.93L818.60 441.39L819.00 441.51L819.40 441.42L819.80 441.33L820.20 441.57L820.60 442.11L821.00 442.65L821.40 442.92L821.80 442.75L822.20 442.57L822.60 442.52L822.60 442.52L823.00 442.94L823.40 443.37L823.80 443.73L824.20 443.60L824.60 443.48L825.00 443.34L825.40 443.64L825.80 443.92L826.20 444.19L826.60 444.03L827.00 443.80L827.00 443.80L827.40 443.54L827.80 443.59L828.20 443.72L828.60 443.82L829.00 443.61L829.40 443.20L829.80 442.77L830.20 442.59L830.60 442.65L831.00 442.72L831.40 442.62L831.40 442.62L831.80 442.25L832.20 441.87L832.60 441.58L833.00 441.63L833.40 441.58L833.80 441.33L834.20 440.75L834.60 440.27L834.70 440.16L835.00 439.81L835.40 439.11L835.80 438.26L836.20 437.34L836.60 436.43L836.90 435.80L837.00 435.59L837.40 434.62L837.80 433.61L838.20 432.82L838.60 432.50L838.60 432.50L839.00 432.74L839.40 433.31L839.80 434.03L840.20 434.70L840.20 434.70L840.60 435.37L841.00 436.16L841.40 436.93L841.80 437.57L842.20 437.95L842.40 438.00L842.60 437.99L843.00 437.94L843.40 437.85L843.80 437.73L844.20 437.57L844.60 437.40L845.00 437.22L845.40 437.04L845.70 436.90L845.80 436.85L846.20 436.66L846.60 436.44L847.00 436.20L847.40 435.94L847.80 435.66L848.20 435.35L848.60 435.04L849.00 434.70L849.00 434.70L849.40 434.32L849.80 433.86L850.20 433.36L850.60 432.83L851.00 432.29L851.40 431.76L851.80 431.26L852.20 430.80L852.30 430.70L852.60 430.40L853.00 430.00L853.40 429.61L853.80 429.24L854.20 428.87L854.60 428.53L855.00 428.20L855.40 427.90L855.80 427.63L856.00 427.50L856.20 427.38L856.60 427.15L857.00 426.93L857.40 426.73L857.80 426.54L858.20 426.36L858.60 426.18L859.00 426.02L859.30 425.90L859.40 425.86L859.80 425.72L860.20 425.58L860.60 425.46L861.00 425.34L861.40 425.21L861.80 425.09L862.20 424.95L862.60 424.80L862.60 424.80L863.00 424.64L863.40 424.46L863.80 424.28L864.20 424.10L864.60 423.90L865.00 423.70L865.40 423.49L865.80 423.27L866.20 423.05L866.60 422.83L867.00 422.60L867.00 422.60L867.40 422.35L867.80 422.06L868.20 421.76L868.60 421.45L869.00 421.15L869.40 420.87L869.80 420.63L870.20 420.44L870.30 420.40L870.60 420.29L871.00 420.15L871.40 420.02L871.80 419.90L872.20 419.80L872.60 419.73L873.00 419.70L873.10 419.70L873.40 419.74L873.80 419.89L874.20 420.14L874.60 420.46L875.00 420.81L875.40 421.16L875.80 421.50L875.80 421.50L876.20 421.83L876.60 422.19L877.00 422.57L877.40 422.96L877.80 423.37L878.20 423.79L878.60 424.22L879.00 424.65L879.40 425.07L879.80 425.49L880.20 425.90L880.20 425.90L880.60 426.29L881.00 426.68L881.40 427.05L881.80 427.43L882.20 427.80L882.60 428.18L883.00 428.57L883.40 428.97L883.80 429.39L884.20 429.83L884.60 430.30L884.60 430.30L885.00 430.81L885.40 431.37L885.80 431.96L886.20 432.59L886.60 433.23L887.00 433.88L887.40 434.53L887.80 435.17L888.20 435.78L888.60 436.36L889.00 436.90L889.00 436.90L889.40 437.42L889.80 437.94L890.20 438.47L890.60 438.98L891.00 439.48L891.40 439.96L891.80 440.41L892.20 440.82L892.60 441.19L893.00 441.50L893.30 441.70L893.40 441.76L893.80 442.00L894.20 442.24L894.60 442.47L895.00 442.68L895.40 442.88L895.80 443.06L896.20 443.22L896.60 443.34L897.00 443.43L897.40 443.49L897.70 443.50L897.80 443.50L898.20 443.47L898.60 443.39L899.00 443.29L899.40 443.15L899.80 442.99L900.20 442.81L900.60 442.61L901.00 442.40L901.00 442.40L901.40 442.13L901.80 441.75L902.20 441.29L902.60 440.75L903.00 440.16L903.40 439.52L903.80 438.85L904.20 438.17L904.30 438.00L904.60 437.46L905.00 436.64L905.40 435.74L905.80 434.78L906.20 433.78L906.60 432.77L907.00 431.76L907.40 430.77L907.60 430.30L907.80 429.83L908.20 428.87L908.60 427.90L909.00 426.93L909.40 425.96L909.80 425.02L910.20 424.10L910.60 423.22L910.90 422.60L911.00 422.40L911.40 421.56L911.80 420.71L912.20 419.87L912.60 419.06L913.00 418.32L913.40 417.66L913.80 417.11L914.20 416.70L914.20 416.70L914.60 416.39L915.00 416.11L915.40 415.87L915.80 415.65L916.20 415.46L916.60 415.28L917.00 415.11L917.40 414.94L917.50 414.90L917.80 414.77L918.20 414.59L918.60 414.41L919.00 414.24L919.40 414.08L919.80 413.95L920.20 413.86L920.60 413.81L920.80 413.80L921.00 413.81L921.40 413.85L921.80 413.93L922.20 414.03L922.60 414.14L923.00 414.24L923.40 414.33L923.80 414.39L924.10 414.40L924.20 414.40L924.60 414.37L925.00 414.31L925.40 414.22L925.80 414.11L926.20 413.99L926.60 413.86L927.00 413.72L927.40 413.59L927.80 413.47L928.20 413.36L928.50 413.30L928.60 413.28L929.00 413.21L929.40 413.14L929.80 413.08L930.20 413.02L930.60 412.96L931.00 412.91L931.40 412.85L931.80 412.80L932.20 412.75L932.60 412.70L933.00 412.64L933.40 412.59L933.80 412.52L934.20 412.46L934.60 412.39L935.00 412.32L935.10 412.30L935.40 412.24L935.80 412.14L936.20 412.03L936.60 411.90L937.00 411.77L937.40 411.64L937.80 411.50L938.20 411.35L938.60 411.22L939.00 411.08L939.40 410.96L939.80 410.84L940.20 410.73L940.60 410.65L941.00 410.57L941.40 410.52L941.70 410.50L941.80 410.49L942.20 410.47L942.60 410.46L943.00 410.44L943.40 410.43L943.80 410.41L944.20 410.40L944.60 410.39L945.00 410.38L945.40 410.37L945.80 410.37L946.20 410.36L946.60 410.35L947.00 410.34L947.40 410.33L947.80 410.31L948.20 410.30L948.20 410.30L948.60 410.29L949.00 410.27L949.40 410.26L949.80 410.24L950.20 410.23L950.60 410.22L951.00 410.20L951.40 410.19L951.80 410.17L952.20 410.15L952.60 410.13L953.00 410.11L953.40 410.09L953.80 410.07L954.20 410.04L954.60 410.01L954.80 410.00L955.00 409.98L955.40 409.94L955.80 409.89L956.20 409.83L956.60 409.75L957.00 409.67L957.40 409.59L957.80 409.49L958.20 409.39L958.60 409.29L959.00 409.18L959.40 409.07L959.80 408.96L960.20 408.84L960.60 408.73L961.00 408.61L961.40 408.50L961.40 408.50L961.80 408.39L962.20 408.28L962.60 408.16L963.00 408.05L963.40 407.93L963.80 407.80L964.20 407.68L964.60 407.54L965.00 407.40L965.40 407.26L965.80 407.11L966.20 406.95L966.60 406.78L967.00 406.60L967.40 406.41L967.80 406.21L968.00 406.10L968.20 405.99L968.60 405.74L969.00 405.47L969.40 405.16L969.80 404.83L970.20 404.47L970.60 404.09L971.00 403.69L971.40 403.28L971.80 402.84L972.20 402.39L972.60 401.93L973.00 401.46L973.40 400.98L973.80 400.49L974.20 400.00L974.60 399.50L974.60 399.50L975.00 398.99L975.40 398.44L975.80 397.87L976.20 397.27L976.60 396.65L977.00 396.00L977.40 395.35L977.80 394.67L978.20 393.99L978.60 393.30L979.00 392.61L979.40 391.91L979.80 391.22L980.10 390.70L980.20 390.53L980.60 389.84L981.00 389.13L981.40 388.43L981.80 387.71L982.20 386.99L982.60 386.26L983.00 385.52L983.40 384.77L983.80 384.01L984.20 383.25L984.60 382.47L985.00 381.69L985.40 380.90L985.60 380.50L985.80 380.10L986.20 379.27L986.60 378.43L987.00 377.56L987.40 376.69L987.80 375.80L988.20 374.92L988.60 374.03L989.00 373.15L989.40 372.28L989.80 371.42L990.00 371.00L990.20 370.58L990.60 369.73L991.00 368.87L991.40 368.00L991.80 367.15L992.20 366.30L992.60 365.46L993.00 364.64L993.40 363.85L993.80 363.08L994.20 362.35L994.40 362.00L994.60 361.66L995.00 360.99L995.40 360.34L995.80 359.71L996.20 359.10L996.60 358.52L997.00 357.95L997.40 357.40L997.70 357.00L997.80 356.87L998.20 356.35L998.60 355.84L999.00 355.34L999.40 354.87L999.80 354.41L1000.20 353.99L1000.60 353.59L1000.70 353.50L1001.00 353.21L1001.40 352.81L1001.80 352.45L1002.20 352.19L1002.50 352.10L1002.60 352.09L1003.00 352.04L1003.40 351.99L1003.80 351.96L1004.20 351.92L1004.60 351.89L1005.00 351.87L1005.40 351.85L1005.80 351.83L1006.20 351.82L1006.60 351.81L1007.00 351.80L1007.40 351.80"/>
</g>
<g fill="none" stroke="#111" stroke-width="1.7" stroke-linecap="butt">
<rect x="38.20" y="6.00" width="303.80" height="456.00"/>
<line x1="38.20" y1="462.00" x2="38.20" y2="468.4"/>
<line x1="88.83" y1="462.00" x2="88.83" y2="468.4"/>
<line x1="139.47" y1="462.00" x2="139.47" y2="468.4"/>
<line x1="190.10" y1="462.00" x2="190.10" y2="468.4"/>
<line x1="240.73" y1="462.00" x2="240.73" y2="468.4"/>
<line x1="291.37" y1="462.00" x2="291.37" y2="468.4"/>
<line x1="342.00" y1="462.00" x2="342.00" y2="468.4"/>
<line x1="63.52" y1="462.00" x2="63.52" y2="466.0"/>
<line x1="114.15" y1="462.00" x2="114.15" y2="466.0"/>
<line x1="164.78" y1="462.00" x2="164.78" y2="466.0"/>
<line x1="215.42" y1="462.00" x2="215.42" y2="466.0"/>
<line x1="266.05" y1="462.00" x2="266.05" y2="466.0"/>
<line x1="316.68" y1="462.00" x2="316.68" y2="466.0"/>
<rect x="373.70" y="6.00" width="303.10" height="456.00"/>
<line x1="373.70" y1="462.00" x2="373.70" y2="468.4"/>
<line x1="424.22" y1="462.00" x2="424.22" y2="468.4"/>
<line x1="474.73" y1="462.00" x2="474.73" y2="468.4"/>
<line x1="525.25" y1="462.00" x2="525.25" y2="468.4"/>
<line x1="575.77" y1="462.00" x2="575.77" y2="468.4"/>
<line x1="626.28" y1="462.00" x2="626.28" y2="468.4"/>
<line x1="676.80" y1="462.00" x2="676.80" y2="468.4"/>
<line x1="398.96" y1="462.00" x2="398.96" y2="466.0"/>
<line x1="449.47" y1="462.00" x2="449.47" y2="466.0"/>
<line x1="499.99" y1="462.00" x2="499.99" y2="466.0"/>
<line x1="550.51" y1="462.00" x2="550.51" y2="466.0"/>
<line x1="601.02" y1="462.00" x2="601.02" y2="466.0"/>
<line x1="651.54" y1="462.00" x2="651.54" y2="466.0"/>
<rect x="704.60" y="6.00" width="302.80" height="456.00"/>
<line x1="704.60" y1="462.00" x2="704.60" y2="468.4"/>
<line x1="747.86" y1="462.00" x2="747.86" y2="468.4"/>
<line x1="791.11" y1="462.00" x2="791.11" y2="468.4"/>
<line x1="834.37" y1="462.00" x2="834.37" y2="468.4"/>
<line x1="877.63" y1="462.00" x2="877.63" y2="468.4"/>
<line x1="920.89" y1="462.00" x2="920.89" y2="468.4"/>
<line x1="964.14" y1="462.00" x2="964.14" y2="468.4"/>
<line x1="1007.40" y1="462.00" x2="1007.40" y2="468.4"/>
<line x1="726.23" y1="462.00" x2="726.23" y2="466.0"/>
<line x1="769.49" y1="462.00" x2="769.49" y2="466.0"/>
<line x1="812.74" y1="462.00" x2="812.74" y2="466.0"/>
<line x1="856.00" y1="462.00" x2="856.00" y2="466.0"/>
<line x1="899.26" y1="462.00" x2="899.26" y2="466.0"/>
<line x1="942.51" y1="462.00" x2="942.51" y2="466.0"/>
<line x1="985.77" y1="462.00" x2="985.77" y2="466.0"/>
</g>
<g fill="none" stroke="#111" stroke-width="1.2">
<line x1="248.3" y1="18.5" x2="248.3" y2="64.7"/>
<line x1="388.2" y1="115.1" x2="388.2" y2="147.5"/>
<line x1="917.3" y1="28.1" x2="917.3" y2="67.4"/>
<line x1="518.60" y1="61.80" x2="518.60" y2="266.50"/>
<line x1="754.40" y1="327.20" x2="754.40" y2="350.80"/>
<line x1="800.00" y1="374.60" x2="800.00" y2="398.40"/>
<line x1="835.10" y1="371.20" x2="835.10" y2="395.40"/>
<line x1="877.50" y1="347.20" x2="877.50" y2="371.80"/>
<line x1="995.50" y1="328.00" x2="995.50" y2="352.40"/>
</g>
<g fill="#111">
<path d="M518.60 55.80L516.20 64.60L521.00 64.60Z"/>
<path d="M754.40 321.20L752.00 330.00L756.80 330.00Z"/>
<path d="M800.00 368.60L797.60 377.40L802.40 377.40Z"/>
<path d="M835.10 365.20L832.70 374.00L837.50 374.00Z"/>
<path d="M877.50 341.20L875.10 350.00L879.90 350.00Z"/>
<path d="M995.50 322.00L993.10 330.80L997.90 330.80Z"/>
</g>
<g fill="#111" stroke="#111" stroke-width="0.3" font-family="Liberation Sans, sans-serif">
<text x="38.20" y="482.6" text-anchor="middle" font-size="12.75">4000</text>
<text x="88.83" y="482.6" text-anchor="middle" font-size="12.75">3800</text>
<text x="139.47" y="482.6" text-anchor="middle" font-size="12.75">3600</text>
<text x="190.10" y="482.6" text-anchor="middle" font-size="12.75">3400</text>
<text x="240.73" y="482.6" text-anchor="middle" font-size="12.75">3200</text>
<text x="291.37" y="482.6" text-anchor="middle" font-size="12.75">3000</text>
<text x="342.00" y="482.6" text-anchor="middle" font-size="12.75">2800</text>
<text x="373.70" y="482.6" text-anchor="middle" font-size="12.75">2400</text>
<text x="424.22" y="482.6" text-anchor="middle" font-size="12.75">2300</text>
<text x="474.73" y="482.6" text-anchor="middle" font-size="12.75">2200</text>
<text x="525.25" y="482.6" text-anchor="middle" font-size="12.75">2100</text>
<text x="575.77" y="482.6" text-anchor="middle" font-size="12.75">2000</text>
<text x="626.28" y="482.6" text-anchor="middle" font-size="12.75">1900</text>
<text x="676.80" y="482.6" text-anchor="middle" font-size="12.75">1800</text>
<text x="704.60" y="482.6" text-anchor="middle" font-size="12.75">1700</text>
<text x="747.86" y="482.6" text-anchor="middle" font-size="12.75">1600</text>
<text x="791.11" y="482.6" text-anchor="middle" font-size="12.75">1500</text>
<text x="834.37" y="482.6" text-anchor="middle" font-size="12.75">1400</text>
<text x="877.63" y="482.6" text-anchor="middle" font-size="12.75">1300</text>
<text x="920.89" y="482.6" text-anchor="middle" font-size="12.75">1200</text>
<text x="964.14" y="482.6" text-anchor="middle" font-size="12.75">1100</text>
<text x="1007.40" y="482.6" text-anchor="middle" font-size="12.75">1000</text>
<text x="41.80" y="212.20" font-size="12.75" text-anchor="start">463 K</text>
<text x="41.80" y="278.60" font-size="12.75" text-anchor="start">423 K</text>
<text x="42.90" y="316.60" font-size="12.75" text-anchor="start">383 K</text>
<text x="41.80" y="358.40" font-size="12.75" text-anchor="start">343 K</text>
<text x="42.90" y="412.80" font-size="12.75" text-anchor="start">303 K</text>
<text x="44.00" y="445.10" font-size="12.75" text-anchor="start">INIT</text>
<text x="310.00" y="375.70" font-size="12.75" text-anchor="start">2880</text>
<text x="253.00" y="49.10" font-size="12.75" text-anchor="start">0.2</text>
<text x="674.60" y="43.80" font-size="12.75" text-anchor="end">463 K</text>
<text x="674.60" y="62.70" font-size="12.75" text-anchor="end">423 K</text>
<text x="671.00" y="101.00" font-size="12.75" text-anchor="end">383 K</text>
<text x="674.60" y="269.90" font-size="12.75" text-anchor="end">343 K</text>
<text x="674.60" y="433.80" font-size="12.75" text-anchor="end">303 K</text>
<text x="674.60" y="456.00" font-size="12.75" text-anchor="end">INIT</text>
<text x="524.40" y="64.90" font-size="12.75" text-anchor="start">2112</text>
<text x="395.00" y="138.20" font-size="12.75" text-anchor="start">0.5</text>
<text x="379.6" y="21.6" font-size="12.75">CO<tspan font-size="7.5" dy="2.8">2</tspan><tspan dy="-2.8">(g)</tspan></text>
<text x="706.20" y="169.20" font-size="12.75" text-anchor="start">463 K</text>
<text x="708.40" y="234.70" font-size="12.75" text-anchor="start">423 K</text>
<text x="706.90" y="290.50" font-size="12.75" text-anchor="start">383 K</text>
<text x="709.10" y="374.00" font-size="12.75" text-anchor="start">343 K</text>
<text x="706.40" y="440.60" font-size="12.75" text-anchor="start">303 K</text>
<text x="728.30" y="458.40" font-size="12.75" text-anchor="start">INIT</text>
<text x="904.60" y="364.80" font-size="12.75" text-anchor="start">1216</text>
<text x="923.50" y="52.60" font-size="12.75" text-anchor="start">1.0</text>
<text transform="translate(758.60 380.30) rotate(-90)" font-size="12.75">1583</text>
<text transform="translate(804.40 429.60) rotate(-90)" font-size="12.75">1478</text>
<text transform="translate(838.60 430.20) rotate(-90)" font-size="12.75">1399</text>
<text transform="translate(882.30 403.00) rotate(-90)" font-size="12.75">1297</text>
<text transform="translate(1001.20 385.60) rotate(-90)" font-size="12.75">1030</text>
<text x="190.10" y="510.6" font-size="15.75" text-anchor="middle">wavenumber (cm<tspan font-size="8.8" dx="0.3" dy="-8.6">-1</tspan><tspan dx="1.2" dy="8.6">)</tspan></text>
<text x="525.20" y="510.6" font-size="15.75" text-anchor="middle">wavenumber (cm<tspan font-size="8.8" dx="0.3" dy="-8.6">-1</tspan><tspan dx="1.2" dy="8.6">)</tspan></text>
<text x="856.00" y="510.6" font-size="15.75" text-anchor="middle">wavenumber (cm<tspan font-size="8.8" dx="0.3" dy="-8.6">-1</tspan><tspan dx="1.2" dy="8.6">)</tspan></text>
<text transform="translate(14.0 220.5) rotate(-90)" font-size="15.75" text-anchor="middle">K-M units</text>
</g>
</svg>
</body></html>
